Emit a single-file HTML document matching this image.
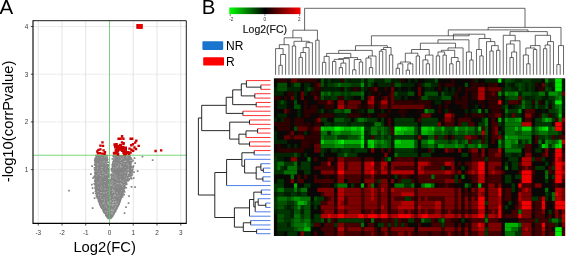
<!DOCTYPE html>
<html><head><meta charset="utf-8"><title>figure</title>
<style>
html,body{margin:0;padding:0;background:#fff;}
body{width:566px;height:255px;overflow:hidden;}
svg{display:block;font-family:"Liberation Sans",sans-serif;}
</style></head><body>
<svg width="566" height="255" viewBox="0 0 566 255">
<defs>
<linearGradient id="cb" x1="0" x2="1" y1="0" y2="0"><stop offset="0" stop-color="#00ff00"/><stop offset="0.5" stop-color="#000"/><stop offset="1" stop-color="#ff0000"/></linearGradient>
<filter id="bl" x="-2%" y="-2%" width="104%" height="104%" color-interpolation-filters="sRGB"><feGaussianBlur stdDeviation="0.68"/></filter>
<filter id="bt" x="-5%" y="-20%" width="110%" height="140%" color-interpolation-filters="sRGB"><feGaussianBlur stdDeviation="0.28"/></filter>
<filter id="bs" x="-5%" y="-5%" width="110%" height="110%" color-interpolation-filters="sRGB"><feGaussianBlur stdDeviation="0.35"/></filter>
<clipPath id="hc"><rect x="273.9" y="78.4" width="291.30" height="157.50"/></clipPath>
</defs>
<rect width="566" height="255" fill="#fff"/>

<!-- panel A -->

<path d="M38.25 20.7V223.4M62.00 20.7V223.4M85.75 20.7V223.4M133.25 20.7V223.4M157.00 20.7V223.4M180.75 20.7V223.4" stroke="#d4d4d4" stroke-width="0.6" fill="none"/>
<path d="M33.0 169.60H186.3M33.0 121.90H186.3M33.0 74.20H186.3M33.0 26.50H186.3" stroke="#d0d0d0" stroke-width="0.6" stroke-dasharray="1.6 0.8" fill="none"/>
<g filter="url(#bs)">
<polygon points="97.7,155.0 97.3,162.0 97.0,170.0 96.8,178.0 96.9,184.0 97.2,189.0 97.8,193.8 100.9,203.6 104.8,211.4 107.9,216.0 110.0,218.8 109.0,218.8 109.0,216.0 109.0,211.4 109.0,203.6 109.0,193.8 109.0,189.0 108.5,184.0 108.0,178.0 107.3,170.0 106.8,162.0 106.1,155.0" fill="#858585"/>
<polygon points="114.7,155.0 113.9,162.0 112.8,170.0 111.9,178.0 110.9,184.0 110.0,189.0 110.0,193.8 110.0,203.6 110.0,211.4 110.0,216.0 110.0,218.8 109.0,218.8 111.1,216.0 113.9,211.4 117.7,203.6 121.1,193.8 122.7,189.0 124.3,184.0 126.7,178.0 128.3,170.0 127.9,162.0 126.1,155.0" fill="#858585"/>
<path d="M95.0 175.1h1.6v1.6h-1.6zM122.6 188.5h1.6v1.6h-1.6zM127.9 157.1h1.6v1.6h-1.6zM110.0 181.4h1.6v1.6h-1.6zM94.4 162.5h1.6v1.6h-1.6zM120.3 191.1h1.6v1.6h-1.6zM102.2 208.8h1.6v1.6h-1.6zM95.0 163.8h1.6v1.6h-1.6zM130.8 166.1h1.6v1.6h-1.6zM95.1 189.2h1.6v1.6h-1.6zM95.4 158.5h1.6v1.6h-1.6zM127.8 174.5h1.6v1.6h-1.6zM108.8 204.7h1.6v1.6h-1.6zM126.9 170.1h1.6v1.6h-1.6zM98.9 200.7h1.6v1.6h-1.6zM107.9 181.0h1.6v1.6h-1.6zM130.0 164.3h1.6v1.6h-1.6zM118.4 202.9h1.6v1.6h-1.6zM118.5 198.5h1.6v1.6h-1.6zM107.8 207.6h1.6v1.6h-1.6zM106.3 158.5h1.6v1.6h-1.6zM108.9 195.5h1.6v1.6h-1.6zM107.3 179.0h1.6v1.6h-1.6zM127.6 156.1h1.6v1.6h-1.6zM106.5 158.4h1.6v1.6h-1.6zM110.6 179.3h1.6v1.6h-1.6zM126.9 159.8h1.6v1.6h-1.6zM108.6 206.3h1.6v1.6h-1.6zM111.2 177.3h1.6v1.6h-1.6zM106.3 215.0h1.6v1.6h-1.6zM130.0 169.4h1.6v1.6h-1.6zM127.4 155.0h1.6v1.6h-1.6zM109.3 214.7h1.6v1.6h-1.6zM123.0 187.2h1.6v1.6h-1.6zM109.5 211.4h1.6v1.6h-1.6zM125.0 179.4h1.6v1.6h-1.6zM96.3 158.6h1.6v1.6h-1.6zM95.2 167.9h1.6v1.6h-1.6zM96.2 154.7h1.6v1.6h-1.6zM130.3 161.1h1.6v1.6h-1.6zM96.2 193.4h1.6v1.6h-1.6zM95.8 177.6h1.6v1.6h-1.6zM108.0 208.2h1.6v1.6h-1.6zM95.8 160.1h1.6v1.6h-1.6zM95.3 176.3h1.6v1.6h-1.6zM112.9 156.2h1.6v1.6h-1.6zM95.3 188.0h1.6v1.6h-1.6zM108.7 188.0h1.6v1.6h-1.6zM108.7 209.1h1.6v1.6h-1.6zM107.3 165.2h1.6v1.6h-1.6zM108.5 188.3h1.6v1.6h-1.6zM109.1 205.8h1.6v1.6h-1.6zM109.1 208.4h1.6v1.6h-1.6zM127.3 169.0h1.6v1.6h-1.6zM96.0 156.5h1.6v1.6h-1.6zM107.8 171.0h1.6v1.6h-1.6zM108.5 213.7h1.6v1.6h-1.6zM111.6 214.9h1.6v1.6h-1.6zM94.3 167.1h1.6v1.6h-1.6zM114.2 207.6h1.6v1.6h-1.6zM105.4 160.0h1.6v1.6h-1.6zM108.7 212.0h1.6v1.6h-1.6zM106.1 165.9h1.6v1.6h-1.6zM108.1 175.6h1.6v1.6h-1.6zM110.0 180.0h1.6v1.6h-1.6zM98.7 200.4h1.6v1.6h-1.6zM108.9 211.7h1.6v1.6h-1.6zM113.1 163.9h1.6v1.6h-1.6zM126.9 176.8h1.6v1.6h-1.6zM111.2 215.9h1.6v1.6h-1.6zM109.6 182.0h1.6v1.6h-1.6zM101.2 206.7h1.6v1.6h-1.6zM129.1 169.9h1.6v1.6h-1.6zM113.0 163.0h1.6v1.6h-1.6zM126.9 177.0h1.6v1.6h-1.6zM109.2 181.2h1.6v1.6h-1.6zM95.5 187.7h1.6v1.6h-1.6zM96.4 182.4h1.6v1.6h-1.6zM128.6 165.6h1.6v1.6h-1.6zM128.7 175.2h1.6v1.6h-1.6zM127.5 161.4h1.6v1.6h-1.6zM118.1 203.4h1.6v1.6h-1.6zM112.6 212.2h1.6v1.6h-1.6zM108.1 187.0h1.6v1.6h-1.6zM122.3 183.2h1.6v1.6h-1.6zM109.1 198.8h1.6v1.6h-1.6zM108.5 189.9h1.6v1.6h-1.6zM102.2 207.6h1.6v1.6h-1.6zM96.2 159.3h1.6v1.6h-1.6zM106.5 159.3h1.6v1.6h-1.6zM105.4 164.4h1.6v1.6h-1.6zM98.5 196.3h1.6v1.6h-1.6zM110.5 168.5h1.6v1.6h-1.6zM127.5 179.8h1.6v1.6h-1.6zM127.5 164.9h1.6v1.6h-1.6zM128.6 167.0h1.6v1.6h-1.6zM123.2 189.6h1.6v1.6h-1.6zM123.4 194.0h1.6v1.6h-1.6zM109.1 204.4h1.6v1.6h-1.6zM106.3 157.2h1.6v1.6h-1.6zM93.9 171.7h1.6v1.6h-1.6zM101.7 206.3h1.6v1.6h-1.6zM111.4 164.1h1.6v1.6h-1.6zM95.2 160.3h1.6v1.6h-1.6zM120.0 198.1h1.6v1.6h-1.6zM109.7 194.7h1.6v1.6h-1.6zM113.5 158.9h1.6v1.6h-1.6zM122.5 183.3h1.6v1.6h-1.6zM94.7 171.6h1.6v1.6h-1.6zM95.5 161.6h1.6v1.6h-1.6zM95.6 157.9h1.6v1.6h-1.6zM99.7 202.5h1.6v1.6h-1.6zM95.3 186.2h1.6v1.6h-1.6zM95.4 170.5h1.6v1.6h-1.6zM119.0 200.9h1.6v1.6h-1.6zM105.4 213.6h1.6v1.6h-1.6zM108.5 185.9h1.6v1.6h-1.6zM125.3 179.5h1.6v1.6h-1.6zM110.5 176.3h1.6v1.6h-1.6zM124.4 180.2h1.6v1.6h-1.6zM106.3 159.2h1.6v1.6h-1.6zM96.4 170.8h1.6v1.6h-1.6zM109.3 209.5h1.6v1.6h-1.6zM95.0 172.5h1.6v1.6h-1.6zM129.5 164.6h1.6v1.6h-1.6zM111.2 216.0h1.6v1.6h-1.6zM131.3 174.2h1.6v1.6h-1.6zM124.0 184.6h1.6v1.6h-1.6zM96.7 155.0h1.6v1.6h-1.6zM128.1 160.4h1.6v1.6h-1.6zM94.4 173.9h1.6v1.6h-1.6zM108.3 202.0h1.6v1.6h-1.6zM108.3 199.8h1.6v1.6h-1.6zM107.8 216.7h1.6v1.6h-1.6zM119.3 200.3h1.6v1.6h-1.6zM113.9 210.9h1.6v1.6h-1.6zM126.5 163.5h1.6v1.6h-1.6zM107.6 205.4h1.6v1.6h-1.6zM108.1 197.7h1.6v1.6h-1.6zM95.7 169.2h1.6v1.6h-1.6zM113.0 161.3h1.6v1.6h-1.6zM121.5 189.9h1.6v1.6h-1.6zM95.7 185.5h1.6v1.6h-1.6zM122.0 186.4h1.6v1.6h-1.6zM98.4 201.1h1.6v1.6h-1.6zM95.6 159.4h1.6v1.6h-1.6zM108.3 201.3h1.6v1.6h-1.6zM122.2 185.8h1.6v1.6h-1.6zM117.5 203.0h1.6v1.6h-1.6zM95.5 164.0h1.6v1.6h-1.6zM95.2 190.5h1.6v1.6h-1.6zM95.2 158.5h1.6v1.6h-1.6zM96.9 197.3h1.6v1.6h-1.6zM122.7 187.2h1.6v1.6h-1.6zM105.0 211.0h1.6v1.6h-1.6zM128.1 155.8h1.6v1.6h-1.6zM93.5 183.0h1.6v1.6h-1.6zM111.9 167.9h1.6v1.6h-1.6zM130.1 163.6h1.6v1.6h-1.6zM116.1 206.4h1.6v1.6h-1.6zM110.9 169.3h1.6v1.6h-1.6zM96.1 185.3h1.6v1.6h-1.6zM124.6 183.1h1.6v1.6h-1.6zM111.3 174.6h1.6v1.6h-1.6zM106.0 154.8h1.6v1.6h-1.6zM108.4 213.1h1.6v1.6h-1.6zM103.2 211.5h1.6v1.6h-1.6zM110.0 217.6h1.6v1.6h-1.6zM95.8 172.0h1.6v1.6h-1.6zM112.3 161.1h1.6v1.6h-1.6zM96.9 170.4h1.6v1.6h-1.6zM94.2 186.9h1.6v1.6h-1.6zM109.8 210.4h1.6v1.6h-1.6zM109.4 194.4h1.6v1.6h-1.6zM98.0 200.0h1.6v1.6h-1.6zM118.7 200.8h1.6v1.6h-1.6zM95.5 172.7h1.6v1.6h-1.6zM123.9 184.4h1.6v1.6h-1.6zM108.1 216.2h1.6v1.6h-1.6zM119.4 196.0h1.6v1.6h-1.6zM95.8 165.2h1.6v1.6h-1.6zM96.8 186.0h1.6v1.6h-1.6zM108.4 211.8h1.6v1.6h-1.6zM95.5 166.8h1.6v1.6h-1.6zM95.2 176.2h1.6v1.6h-1.6zM109.2 190.6h1.6v1.6h-1.6zM117.3 201.9h1.6v1.6h-1.6zM127.5 178.4h1.6v1.6h-1.6zM105.9 215.7h1.6v1.6h-1.6zM102.3 209.1h1.6v1.6h-1.6zM94.6 171.8h1.6v1.6h-1.6zM109.1 214.8h1.6v1.6h-1.6zM103.7 209.7h1.6v1.6h-1.6zM114.0 211.1h1.6v1.6h-1.6zM110.2 179.4h1.6v1.6h-1.6zM109.1 206.7h1.6v1.6h-1.6zM95.5 161.6h1.6v1.6h-1.6zM109.5 187.6h1.6v1.6h-1.6zM108.4 195.5h1.6v1.6h-1.6zM125.9 183.5h1.6v1.6h-1.6zM111.2 169.4h1.6v1.6h-1.6zM95.1 162.8h1.6v1.6h-1.6zM108.9 194.8h1.6v1.6h-1.6zM123.3 187.7h1.6v1.6h-1.6zM96.4 192.6h1.6v1.6h-1.6zM129.3 173.7h1.6v1.6h-1.6zM114.3 210.4h1.6v1.6h-1.6zM108.7 215.2h1.6v1.6h-1.6zM108.6 186.1h1.6v1.6h-1.6zM94.4 181.2h1.6v1.6h-1.6zM93.9 169.0h1.6v1.6h-1.6zM127.8 176.0h1.6v1.6h-1.6zM108.3 204.9h1.6v1.6h-1.6zM110.8 215.8h1.6v1.6h-1.6zM106.6 168.7h1.6v1.6h-1.6zM110.7 173.3h1.6v1.6h-1.6zM130.4 168.8h1.6v1.6h-1.6zM127.2 163.9h1.6v1.6h-1.6zM97.3 163.6h1.6v1.6h-1.6zM130.8 158.5h1.6v1.6h-1.6zM109.2 200.9h1.6v1.6h-1.6zM111.7 166.4h1.6v1.6h-1.6zM98.5 201.7h1.6v1.6h-1.6zM125.7 178.3h1.6v1.6h-1.6zM128.6 172.3h1.6v1.6h-1.6zM106.3 215.4h1.6v1.6h-1.6zM110.9 177.2h1.6v1.6h-1.6zM128.8 157.8h1.6v1.6h-1.6zM130.0 166.9h1.6v1.6h-1.6zM107.8 180.6h1.6v1.6h-1.6zM99.5 203.0h1.6v1.6h-1.6zM104.5 212.7h1.6v1.6h-1.6zM108.4 201.8h1.6v1.6h-1.6zM111.9 215.0h1.6v1.6h-1.6zM96.3 174.6h1.6v1.6h-1.6zM106.6 154.9h1.6v1.6h-1.6zM105.0 214.1h1.6v1.6h-1.6zM131.6 169.4h1.6v1.6h-1.6zM94.4 179.1h1.6v1.6h-1.6zM105.2 213.2h1.6v1.6h-1.6zM109.2 205.3h1.6v1.6h-1.6zM119.9 193.0h1.6v1.6h-1.6zM100.4 204.0h1.6v1.6h-1.6zM106.8 167.1h1.6v1.6h-1.6zM129.3 156.8h1.6v1.6h-1.6zM110.2 210.4h1.6v1.6h-1.6zM95.9 171.4h1.6v1.6h-1.6zM119.6 199.4h1.6v1.6h-1.6zM109.3 193.8h1.6v1.6h-1.6zM108.5 201.8h1.6v1.6h-1.6zM101.3 207.7h1.6v1.6h-1.6zM122.1 190.4h1.6v1.6h-1.6zM96.1 170.3h1.6v1.6h-1.6zM123.8 191.1h1.6v1.6h-1.6zM96.7 186.7h1.6v1.6h-1.6zM109.0 205.6h1.6v1.6h-1.6zM108.3 184.6h1.6v1.6h-1.6zM109.2 207.7h1.6v1.6h-1.6zM95.7 162.2h1.6v1.6h-1.6zM111.2 216.0h1.6v1.6h-1.6zM114.8 209.3h1.6v1.6h-1.6zM105.0 214.3h1.6v1.6h-1.6zM128.3 168.4h1.6v1.6h-1.6zM129.2 170.8h1.6v1.6h-1.6zM126.5 155.4h1.6v1.6h-1.6zM94.8 174.4h1.6v1.6h-1.6zM117.2 204.8h1.6v1.6h-1.6zM125.6 179.6h1.6v1.6h-1.6zM106.3 165.0h1.6v1.6h-1.6zM111.2 174.1h1.6v1.6h-1.6zM128.1 174.4h1.6v1.6h-1.6zM108.4 209.1h1.6v1.6h-1.6zM98.8 200.6h1.6v1.6h-1.6zM112.3 155.1h1.6v1.6h-1.6zM110.6 180.3h1.6v1.6h-1.6zM96.1 183.7h1.6v1.6h-1.6zM108.8 195.1h1.6v1.6h-1.6zM128.4 160.3h1.6v1.6h-1.6zM93.9 163.9h1.6v1.6h-1.6zM129.2 161.6h1.6v1.6h-1.6zM93.7 167.1h1.6v1.6h-1.6zM108.5 214.1h1.6v1.6h-1.6zM112.7 213.0h1.6v1.6h-1.6zM100.6 206.6h1.6v1.6h-1.6zM99.3 204.2h1.6v1.6h-1.6zM102.0 206.9h1.6v1.6h-1.6zM127.7 168.4h1.6v1.6h-1.6zM95.3 162.5h1.6v1.6h-1.6zM125.1 157.3h1.6v1.6h-1.6zM101.4 207.5h1.6v1.6h-1.6zM120.9 192.5h1.6v1.6h-1.6zM124.1 181.2h1.6v1.6h-1.6zM125.8 182.8h1.6v1.6h-1.6zM95.4 185.5h1.6v1.6h-1.6zM94.0 183.6h1.6v1.6h-1.6zM95.8 184.5h1.6v1.6h-1.6zM129.0 160.5h1.6v1.6h-1.6zM96.7 194.8h1.6v1.6h-1.6zM108.5 200.9h1.6v1.6h-1.6zM123.4 186.4h1.6v1.6h-1.6zM108.6 208.7h1.6v1.6h-1.6zM109.3 200.8h1.6v1.6h-1.6zM110.7 185.7h1.6v1.6h-1.6zM104.7 212.4h1.6v1.6h-1.6zM125.4 158.8h1.6v1.6h-1.6zM103.1 211.2h1.6v1.6h-1.6zM100.2 206.1h1.6v1.6h-1.6zM95.3 167.8h1.6v1.6h-1.6zM123.9 186.6h1.6v1.6h-1.6zM111.6 164.9h1.6v1.6h-1.6zM105.6 165.3h1.6v1.6h-1.6zM128.6 161.9h1.6v1.6h-1.6zM113.0 209.7h1.6v1.6h-1.6zM112.2 161.3h1.6v1.6h-1.6zM99.8 205.0h1.6v1.6h-1.6zM109.0 217.1h1.6v1.6h-1.6zM95.2 182.6h1.6v1.6h-1.6zM100.8 206.3h1.6v1.6h-1.6zM107.9 195.0h1.6v1.6h-1.6zM94.6 174.4h1.6v1.6h-1.6zM95.3 156.8h1.6v1.6h-1.6zM108.5 187.0h1.6v1.6h-1.6zM95.4 163.0h1.6v1.6h-1.6zM127.4 154.9h1.6v1.6h-1.6zM129.8 168.8h1.6v1.6h-1.6zM120.8 194.0h1.6v1.6h-1.6zM96.5 170.0h1.6v1.6h-1.6zM131.0 160.7h1.6v1.6h-1.6zM96.2 180.0h1.6v1.6h-1.6zM122.4 190.1h1.6v1.6h-1.6zM108.2 213.7h1.6v1.6h-1.6zM112.1 170.4h1.6v1.6h-1.6zM95.4 180.3h1.6v1.6h-1.6zM106.9 158.4h1.6v1.6h-1.6zM105.4 214.0h1.6v1.6h-1.6zM127.1 167.3h1.6v1.6h-1.6zM100.6 205.9h1.6v1.6h-1.6zM113.5 157.8h1.6v1.6h-1.6zM109.9 204.0h1.6v1.6h-1.6zM118.3 201.6h1.6v1.6h-1.6zM94.5 168.9h1.6v1.6h-1.6zM94.7 169.3h1.6v1.6h-1.6zM109.6 198.5h1.6v1.6h-1.6zM97.6 199.5h1.6v1.6h-1.6zM116.7 204.4h1.6v1.6h-1.6zM107.4 215.5h1.6v1.6h-1.6zM102.8 210.1h1.6v1.6h-1.6zM109.1 201.6h1.6v1.6h-1.6zM118.8 201.7h1.6v1.6h-1.6zM110.8 169.8h1.6v1.6h-1.6zM108.0 196.6h1.6v1.6h-1.6zM109.0 184.3h1.6v1.6h-1.6zM107.0 182.2h1.6v1.6h-1.6zM122.5 190.6h1.6v1.6h-1.6zM112.9 159.6h1.6v1.6h-1.6zM112.7 161.4h1.6v1.6h-1.6zM95.3 176.4h1.6v1.6h-1.6zM119.5 198.3h1.6v1.6h-1.6zM127.9 158.8h1.6v1.6h-1.6zM109.5 206.3h1.6v1.6h-1.6zM114.1 158.9h1.6v1.6h-1.6zM94.7 161.4h1.6v1.6h-1.6zM96.3 161.8h1.6v1.6h-1.6zM107.8 194.7h1.6v1.6h-1.6zM96.8 194.5h1.6v1.6h-1.6zM99.3 202.4h1.6v1.6h-1.6zM128.1 174.8h1.6v1.6h-1.6zM106.9 172.5h1.6v1.6h-1.6zM111.6 215.4h1.6v1.6h-1.6zM128.4 156.7h1.6v1.6h-1.6zM108.0 176.5h1.6v1.6h-1.6zM95.7 188.6h1.6v1.6h-1.6zM100.7 206.3h1.6v1.6h-1.6zM96.1 154.8h1.6v1.6h-1.6zM126.8 155.0h1.6v1.6h-1.6zM130.1 166.3h1.6v1.6h-1.6zM112.2 171.1h1.6v1.6h-1.6zM95.0 172.6h1.6v1.6h-1.6zM129.5 161.6h1.6v1.6h-1.6zM109.2 198.6h1.6v1.6h-1.6zM120.1 194.3h1.6v1.6h-1.6zM103.4 210.8h1.6v1.6h-1.6zM95.3 167.7h1.6v1.6h-1.6zM112.3 211.5h1.6v1.6h-1.6zM127.4 169.4h1.6v1.6h-1.6zM117.7 202.1h1.6v1.6h-1.6zM111.6 164.5h1.6v1.6h-1.6zM127.3 165.4h1.6v1.6h-1.6zM127.8 162.6h1.6v1.6h-1.6zM128.7 166.8h1.6v1.6h-1.6zM94.2 164.4h1.6v1.6h-1.6zM127.8 170.3h1.6v1.6h-1.6zM96.3 175.4h1.6v1.6h-1.6zM112.5 161.1h1.6v1.6h-1.6zM129.9 161.1h1.6v1.6h-1.6zM119.1 200.9h1.6v1.6h-1.6zM95.5 161.4h1.6v1.6h-1.6zM108.0 179.8h1.6v1.6h-1.6zM118.8 198.4h1.6v1.6h-1.6zM128.4 163.6h1.6v1.6h-1.6zM112.0 211.9h1.6v1.6h-1.6zM94.9 181.2h1.6v1.6h-1.6zM107.5 203.5h1.6v1.6h-1.6zM108.3 208.4h1.6v1.6h-1.6zM128.0 174.4h1.6v1.6h-1.6zM109.1 204.0h1.6v1.6h-1.6zM95.8 194.4h1.6v1.6h-1.6zM121.5 193.9h1.6v1.6h-1.6zM105.5 166.2h1.6v1.6h-1.6zM114.9 203.7h1.6v1.6h-1.6zM130.1 157.1h1.6v1.6h-1.6zM112.6 214.0h1.6v1.6h-1.6zM107.8 188.8h1.6v1.6h-1.6zM116.0 206.9h1.6v1.6h-1.6zM107.7 167.9h1.6v1.6h-1.6zM109.1 179.4h1.6v1.6h-1.6zM96.5 177.1h1.6v1.6h-1.6zM128.9 172.0h1.6v1.6h-1.6zM107.7 181.2h1.6v1.6h-1.6zM107.4 168.8h1.6v1.6h-1.6zM112.6 213.9h1.6v1.6h-1.6zM96.0 179.4h1.6v1.6h-1.6zM117.0 205.7h1.6v1.6h-1.6zM111.7 168.9h1.6v1.6h-1.6zM130.2 176.9h1.6v1.6h-1.6zM94.9 184.2h1.6v1.6h-1.6zM115.6 207.2h1.6v1.6h-1.6zM94.7 178.4h1.6v1.6h-1.6zM96.3 181.5h1.6v1.6h-1.6zM95.2 172.4h1.6v1.6h-1.6zM127.3 173.7h1.6v1.6h-1.6zM121.8 196.2h1.6v1.6h-1.6zM113.8 158.3h1.6v1.6h-1.6zM111.7 163.5h1.6v1.6h-1.6zM98.3 194.6h1.6v1.6h-1.6zM97.2 196.0h1.6v1.6h-1.6zM95.7 161.1h1.6v1.6h-1.6zM96.3 176.5h1.6v1.6h-1.6zM109.3 211.7h1.6v1.6h-1.6zM109.8 193.0h1.6v1.6h-1.6zM109.0 196.8h1.6v1.6h-1.6zM105.7 167.1h1.6v1.6h-1.6zM107.5 188.1h1.6v1.6h-1.6zM96.2 189.7h1.6v1.6h-1.6zM95.1 169.5h1.6v1.6h-1.6zM95.3 184.1h1.6v1.6h-1.6zM122.0 185.7h1.6v1.6h-1.6zM112.5 155.1h1.6v1.6h-1.6zM108.9 196.6h1.6v1.6h-1.6zM126.9 178.3h1.6v1.6h-1.6zM121.8 194.8h1.6v1.6h-1.6zM107.9 197.7h1.6v1.6h-1.6zM125.5 186.9h1.6v1.6h-1.6zM118.8 199.9h1.6v1.6h-1.6zM130.8 177.8h1.6v1.6h-1.6zM129.9 168.0h1.6v1.6h-1.6zM101.6 206.8h1.6v1.6h-1.6zM115.1 206.8h1.6v1.6h-1.6zM108.4 186.6h1.6v1.6h-1.6zM126.5 175.5h1.6v1.6h-1.6zM109.5 194.7h1.6v1.6h-1.6zM106.6 157.2h1.6v1.6h-1.6zM127.4 157.8h1.6v1.6h-1.6zM112.9 212.8h1.6v1.6h-1.6zM112.0 212.0h1.6v1.6h-1.6zM118.5 198.6h1.6v1.6h-1.6zM119.4 196.7h1.6v1.6h-1.6zM95.1 166.1h1.6v1.6h-1.6zM108.4 203.5h1.6v1.6h-1.6zM108.2 206.5h1.6v1.6h-1.6zM95.5 190.1h1.6v1.6h-1.6zM130.5 174.8h1.6v1.6h-1.6zM126.4 158.1h1.6v1.6h-1.6zM116.6 205.8h1.6v1.6h-1.6zM129.2 155.6h1.6v1.6h-1.6zM109.1 216.5h1.6v1.6h-1.6zM97.0 195.3h1.6v1.6h-1.6zM96.5 164.3h1.6v1.6h-1.6zM112.5 162.4h1.6v1.6h-1.6zM112.8 160.3h1.6v1.6h-1.6zM98.4 200.0h1.6v1.6h-1.6zM99.8 200.9h1.6v1.6h-1.6zM109.0 199.7h1.6v1.6h-1.6zM97.9 200.7h1.6v1.6h-1.6zM108.8 183.7h1.6v1.6h-1.6zM111.3 170.7h1.6v1.6h-1.6zM105.8 155.6h1.6v1.6h-1.6zM100.5 206.2h1.6v1.6h-1.6zM113.0 165.2h1.6v1.6h-1.6zM94.7 185.3h1.6v1.6h-1.6zM108.7 182.3h1.6v1.6h-1.6zM106.0 163.8h1.6v1.6h-1.6zM121.9 194.4h1.6v1.6h-1.6zM109.4 214.2h1.6v1.6h-1.6zM97.5 190.4h1.6v1.6h-1.6zM109.3 199.0h1.6v1.6h-1.6zM129.2 175.6h1.6v1.6h-1.6zM119.8 192.6h1.6v1.6h-1.6zM106.7 178.4h1.6v1.6h-1.6zM100.0 205.6h1.6v1.6h-1.6zM95.1 154.8h1.6v1.6h-1.6zM109.1 206.1h1.6v1.6h-1.6zM113.5 157.4h1.6v1.6h-1.6zM94.5 190.7h1.6v1.6h-1.6zM108.2 208.3h1.6v1.6h-1.6zM93.7 176.6h1.6v1.6h-1.6zM109.0 189.6h1.6v1.6h-1.6zM106.1 213.4h1.6v1.6h-1.6zM108.3 192.9h1.6v1.6h-1.6zM107.2 170.7h1.6v1.6h-1.6zM117.5 204.6h1.6v1.6h-1.6zM98.9 203.3h1.6v1.6h-1.6zM113.4 210.5h1.6v1.6h-1.6zM95.5 166.6h1.6v1.6h-1.6zM106.3 166.1h1.6v1.6h-1.6zM126.6 180.1h1.6v1.6h-1.6zM109.9 217.5h1.6v1.6h-1.6zM100.6 204.3h1.6v1.6h-1.6zM121.2 192.3h1.6v1.6h-1.6zM113.6 156.8h1.6v1.6h-1.6zM95.2 190.4h1.6v1.6h-1.6zM117.9 203.8h1.6v1.6h-1.6zM108.7 206.3h1.6v1.6h-1.6zM95.6 167.4h1.6v1.6h-1.6zM94.3 160.0h1.6v1.6h-1.6zM109.1 183.6h1.6v1.6h-1.6zM103.5 212.0h1.6v1.6h-1.6zM112.1 162.3h1.6v1.6h-1.6zM129.7 170.9h1.6v1.6h-1.6zM119.4 196.9h1.6v1.6h-1.6zM108.7 215.5h1.6v1.6h-1.6zM131.2 170.8h1.6v1.6h-1.6zM100.9 207.4h1.6v1.6h-1.6zM107.6 204.2h1.6v1.6h-1.6zM94.1 158.2h1.6v1.6h-1.6zM108.5 202.3h1.6v1.6h-1.6zM108.2 192.0h1.6v1.6h-1.6zM128.8 161.3h1.6v1.6h-1.6zM95.3 185.0h1.6v1.6h-1.6zM97.9 197.4h1.6v1.6h-1.6zM99.8 199.9h1.6v1.6h-1.6zM111.9 168.6h1.6v1.6h-1.6zM109.1 209.3h1.6v1.6h-1.6zM113.1 160.8h1.6v1.6h-1.6zM114.6 207.8h1.6v1.6h-1.6zM115.7 206.6h1.6v1.6h-1.6zM95.1 168.7h1.6v1.6h-1.6zM111.5 163.8h1.6v1.6h-1.6zM129.4 171.5h1.6v1.6h-1.6zM116.1 207.6h1.6v1.6h-1.6zM112.1 174.7h1.6v1.6h-1.6zM114.0 158.3h1.6v1.6h-1.6zM96.7 196.8h1.6v1.6h-1.6zM95.3 170.9h1.6v1.6h-1.6zM111.9 177.6h1.6v1.6h-1.6zM95.6 160.8h1.6v1.6h-1.6zM103.4 211.2h1.6v1.6h-1.6zM106.5 216.4h1.6v1.6h-1.6zM116.5 205.5h1.6v1.6h-1.6zM116.2 207.1h1.6v1.6h-1.6zM103.8 212.2h1.6v1.6h-1.6zM106.6 166.0h1.6v1.6h-1.6zM98.4 199.5h1.6v1.6h-1.6zM121.4 193.0h1.6v1.6h-1.6zM109.1 193.3h1.6v1.6h-1.6zM116.5 205.8h1.6v1.6h-1.6zM118.5 200.9h1.6v1.6h-1.6zM117.0 205.8h1.6v1.6h-1.6zM96.0 185.8h1.6v1.6h-1.6zM102.2 209.6h1.6v1.6h-1.6zM111.6 166.4h1.6v1.6h-1.6zM128.8 178.1h1.6v1.6h-1.6zM124.8 182.8h1.6v1.6h-1.6zM109.4 206.1h1.6v1.6h-1.6zM106.7 174.9h1.6v1.6h-1.6zM113.6 158.6h1.6v1.6h-1.6zM110.4 214.8h1.6v1.6h-1.6zM96.0 188.6h1.6v1.6h-1.6zM95.3 166.2h1.6v1.6h-1.6zM107.4 170.5h1.6v1.6h-1.6zM98.0 198.7h1.6v1.6h-1.6zM126.5 155.8h1.6v1.6h-1.6zM98.7 199.0h1.6v1.6h-1.6zM95.0 157.5h1.6v1.6h-1.6zM123.6 185.8h1.6v1.6h-1.6zM94.0 180.3h1.6v1.6h-1.6zM127.2 164.0h1.6v1.6h-1.6zM108.3 206.7h1.6v1.6h-1.6zM128.2 179.2h1.6v1.6h-1.6zM110.3 179.6h1.6v1.6h-1.6zM131.6 169.8h1.6v1.6h-1.6zM109.4 205.4h1.6v1.6h-1.6zM109.4 206.0h1.6v1.6h-1.6zM108.9 215.0h1.6v1.6h-1.6zM128.7 170.4h1.6v1.6h-1.6zM94.7 188.1h1.6v1.6h-1.6zM96.2 156.0h1.6v1.6h-1.6zM109.5 215.8h1.6v1.6h-1.6zM108.4 205.7h1.6v1.6h-1.6zM102.7 210.4h1.6v1.6h-1.6zM97.1 197.4h1.6v1.6h-1.6zM108.4 188.9h1.6v1.6h-1.6zM122.7 187.5h1.6v1.6h-1.6zM128.8 173.9h1.6v1.6h-1.6zM112.0 214.9h1.6v1.6h-1.6zM96.3 188.3h1.6v1.6h-1.6zM95.4 162.5h1.6v1.6h-1.6zM95.9 172.9h1.6v1.6h-1.6zM130.3 160.2h1.6v1.6h-1.6zM109.0 190.6h1.6v1.6h-1.6zM125.7 183.7h1.6v1.6h-1.6zM94.7 174.3h1.6v1.6h-1.6zM128.9 168.7h1.6v1.6h-1.6zM127.9 155.4h1.6v1.6h-1.6zM122.2 189.8h1.6v1.6h-1.6zM107.4 173.3h1.6v1.6h-1.6zM114.9 209.6h1.6v1.6h-1.6zM108.3 182.4h1.6v1.6h-1.6zM96.7 161.6h1.6v1.6h-1.6zM129.2 164.4h1.6v1.6h-1.6zM109.4 193.5h1.6v1.6h-1.6zM116.2 206.4h1.6v1.6h-1.6zM118.4 202.6h1.6v1.6h-1.6zM104.3 212.3h1.6v1.6h-1.6zM118.1 202.9h1.6v1.6h-1.6zM122.1 190.7h1.6v1.6h-1.6zM119.6 193.0h1.6v1.6h-1.6zM98.6 200.3h1.6v1.6h-1.6zM125.5 179.3h1.6v1.6h-1.6zM108.0 204.3h1.6v1.6h-1.6zM129.5 166.3h1.6v1.6h-1.6zM96.6 191.3h1.6v1.6h-1.6zM113.3 212.7h1.6v1.6h-1.6zM105.5 215.1h1.6v1.6h-1.6zM96.6 155.4h1.6v1.6h-1.6zM123.6 190.3h1.6v1.6h-1.6zM108.0 188.6h1.6v1.6h-1.6zM119.5 197.9h1.6v1.6h-1.6zM111.3 176.8h1.6v1.6h-1.6zM120.3 197.3h1.6v1.6h-1.6zM124.2 180.0h1.6v1.6h-1.6zM109.9 215.5h1.6v1.6h-1.6zM107.9 217.5h1.6v1.6h-1.6zM130.3 165.5h1.6v1.6h-1.6zM96.3 187.0h1.6v1.6h-1.6zM108.1 206.4h1.6v1.6h-1.6zM114.5 210.7h1.6v1.6h-1.6zM123.5 186.9h1.6v1.6h-1.6zM119.4 194.4h1.6v1.6h-1.6zM95.6 194.8h1.6v1.6h-1.6zM107.9 174.0h1.6v1.6h-1.6zM128.8 154.9h1.6v1.6h-1.6zM96.4 196.8h1.6v1.6h-1.6zM133.3 171.5h1.6v1.6h-1.6zM121.4 190.9h1.6v1.6h-1.6zM99.4 202.5h1.6v1.6h-1.6zM94.3 161.0h1.6v1.6h-1.6zM108.5 193.3h1.6v1.6h-1.6zM95.8 158.6h1.6v1.6h-1.6zM118.1 199.8h1.6v1.6h-1.6zM113.0 161.0h1.6v1.6h-1.6zM120.9 191.4h1.6v1.6h-1.6zM111.6 158.1h1.6v1.6h-1.6zM123.6 182.4h1.6v1.6h-1.6zM108.9 213.3h1.6v1.6h-1.6zM111.1 174.5h1.6v1.6h-1.6zM108.2 192.7h1.6v1.6h-1.6zM109.1 185.9h1.6v1.6h-1.6zM99.0 200.0h1.6v1.6h-1.6zM109.9 174.2h1.6v1.6h-1.6zM95.4 170.0h1.6v1.6h-1.6zM95.7 177.3h1.6v1.6h-1.6zM95.6 190.1h1.6v1.6h-1.6zM122.5 188.3h1.6v1.6h-1.6zM112.2 162.5h1.6v1.6h-1.6zM95.8 166.7h1.6v1.6h-1.6zM95.0 169.6h1.6v1.6h-1.6zM106.2 164.5h1.6v1.6h-1.6zM95.8 160.5h1.6v1.6h-1.6zM109.4 182.6h1.6v1.6h-1.6zM99.9 205.4h1.6v1.6h-1.6zM111.2 178.4h1.6v1.6h-1.6zM111.3 167.8h1.6v1.6h-1.6zM95.2 183.2h1.6v1.6h-1.6zM98.8 199.2h1.6v1.6h-1.6zM94.6 177.9h1.6v1.6h-1.6zM96.4 193.0h1.6v1.6h-1.6zM122.9 187.0h1.6v1.6h-1.6zM108.8 178.9h1.6v1.6h-1.6zM121.8 190.5h1.6v1.6h-1.6zM111.6 165.9h1.6v1.6h-1.6zM130.4 161.6h1.6v1.6h-1.6zM95.8 173.4h1.6v1.6h-1.6zM96.0 174.3h1.6v1.6h-1.6zM131.1 172.5h1.6v1.6h-1.6zM108.1 210.3h1.6v1.6h-1.6zM96.6 163.0h1.6v1.6h-1.6zM120.4 196.5h1.6v1.6h-1.6zM98.5 198.8h1.6v1.6h-1.6zM114.9 208.0h1.6v1.6h-1.6zM112.4 162.0h1.6v1.6h-1.6zM94.7 157.2h1.6v1.6h-1.6zM95.2 164.9h1.6v1.6h-1.6zM128.4 157.2h1.6v1.6h-1.6zM115.1 207.6h1.6v1.6h-1.6zM107.6 182.1h1.6v1.6h-1.6zM95.7 176.7h1.6v1.6h-1.6zM94.2 172.7h1.6v1.6h-1.6zM115.6 208.5h1.6v1.6h-1.6zM106.8 161.7h1.6v1.6h-1.6zM100.4 201.9h1.6v1.6h-1.6zM119.6 198.5h1.6v1.6h-1.6zM95.9 172.4h1.6v1.6h-1.6zM108.5 213.3h1.6v1.6h-1.6zM108.2 201.2h1.6v1.6h-1.6zM105.7 158.1h1.6v1.6h-1.6zM125.5 181.7h1.6v1.6h-1.6zM98.8 202.7h1.6v1.6h-1.6zM128.7 171.2h1.6v1.6h-1.6zM95.4 189.0h1.6v1.6h-1.6zM127.3 158.4h1.6v1.6h-1.6zM94.9 174.3h1.6v1.6h-1.6zM94.3 169.7h1.6v1.6h-1.6zM124.0 187.2h1.6v1.6h-1.6zM111.5 173.6h1.6v1.6h-1.6zM108.1 175.7h1.6v1.6h-1.6zM109.1 189.2h1.6v1.6h-1.6zM122.6 192.4h1.6v1.6h-1.6zM94.3 161.9h1.6v1.6h-1.6zM95.6 177.4h1.6v1.6h-1.6zM107.0 167.1h1.6v1.6h-1.6zM94.8 182.9h1.6v1.6h-1.6zM95.8 177.6h1.6v1.6h-1.6zM96.9 159.2h1.6v1.6h-1.6zM106.2 160.0h1.6v1.6h-1.6zM110.9 216.5h1.6v1.6h-1.6zM95.1 182.1h1.6v1.6h-1.6zM113.0 212.6h1.6v1.6h-1.6zM95.8 195.8h1.6v1.6h-1.6zM96.5 170.2h1.6v1.6h-1.6zM101.8 207.6h1.6v1.6h-1.6zM132.4 166.4h1.6v1.6h-1.6zM107.2 165.3h1.6v1.6h-1.6zM94.1 175.3h1.6v1.6h-1.6zM115.3 206.7h1.6v1.6h-1.6zM110.5 178.0h1.6v1.6h-1.6zM122.4 190.4h1.6v1.6h-1.6zM107.9 211.7h1.6v1.6h-1.6zM124.1 185.8h1.6v1.6h-1.6zM95.7 191.3h1.6v1.6h-1.6zM109.4 182.6h1.6v1.6h-1.6zM95.2 160.3h1.6v1.6h-1.6zM98.6 200.2h1.6v1.6h-1.6zM108.8 207.7h1.6v1.6h-1.6zM106.6 172.5h1.6v1.6h-1.6zM122.8 187.1h1.6v1.6h-1.6zM109.0 196.7h1.6v1.6h-1.6zM128.6 173.3h1.6v1.6h-1.6zM95.1 167.0h1.6v1.6h-1.6zM129.8 175.1h1.6v1.6h-1.6zM109.5 209.2h1.6v1.6h-1.6zM100.5 205.8h1.6v1.6h-1.6zM119.6 197.3h1.6v1.6h-1.6zM111.1 214.7h1.6v1.6h-1.6zM111.1 176.3h1.6v1.6h-1.6zM120.0 197.5h1.6v1.6h-1.6zM128.8 178.1h1.6v1.6h-1.6zM122.7 190.3h1.6v1.6h-1.6zM114.5 210.8h1.6v1.6h-1.6zM96.2 170.7h1.6v1.6h-1.6zM94.6 188.1h1.6v1.6h-1.6zM129.9 169.0h1.6v1.6h-1.6zM96.5 191.8h1.6v1.6h-1.6zM93.9 180.4h1.6v1.6h-1.6zM109.1 189.4h1.6v1.6h-1.6zM100.2 202.4h1.6v1.6h-1.6zM112.6 161.1h1.6v1.6h-1.6zM96.0 179.4h1.6v1.6h-1.6zM99.3 203.5h1.6v1.6h-1.6zM99.7 203.6h1.6v1.6h-1.6zM127.8 155.7h1.6v1.6h-1.6zM119.6 199.3h1.6v1.6h-1.6zM113.9 209.6h1.6v1.6h-1.6zM106.1 165.3h1.6v1.6h-1.6zM107.1 176.2h1.6v1.6h-1.6zM126.8 162.4h1.6v1.6h-1.6zM97.8 200.2h1.6v1.6h-1.6zM94.9 192.7h1.6v1.6h-1.6zM112.2 161.8h1.6v1.6h-1.6zM97.7 197.2h1.6v1.6h-1.6zM116.1 207.5h1.6v1.6h-1.6zM106.5 161.7h1.6v1.6h-1.6zM130.3 166.4h1.6v1.6h-1.6zM95.7 178.7h1.6v1.6h-1.6zM108.2 198.1h1.6v1.6h-1.6zM105.5 214.5h1.6v1.6h-1.6zM109.3 186.3h1.6v1.6h-1.6zM100.9 205.1h1.6v1.6h-1.6zM120.2 197.5h1.6v1.6h-1.6zM115.5 207.9h1.6v1.6h-1.6zM127.4 159.5h1.6v1.6h-1.6zM97.4 191.8h1.6v1.6h-1.6zM127.5 165.4h1.6v1.6h-1.6zM127.3 179.1h1.6v1.6h-1.6zM93.2 175.7h1.6v1.6h-1.6zM96.3 157.6h1.6v1.6h-1.6zM97.2 197.0h1.6v1.6h-1.6zM133.0 171.2h1.6v1.6h-1.6zM107.4 217.2h1.6v1.6h-1.6zM109.4 190.0h1.6v1.6h-1.6zM119.6 194.6h1.6v1.6h-1.6zM109.1 204.8h1.6v1.6h-1.6zM108.4 213.8h1.6v1.6h-1.6zM118.9 201.3h1.6v1.6h-1.6zM121.9 189.4h1.6v1.6h-1.6zM111.0 175.1h1.6v1.6h-1.6zM124.0 185.0h1.6v1.6h-1.6zM96.5 176.7h1.6v1.6h-1.6zM124.6 183.2h1.6v1.6h-1.6zM95.2 165.3h1.6v1.6h-1.6zM129.3 173.7h1.6v1.6h-1.6zM112.7 213.8h1.6v1.6h-1.6zM93.9 159.7h1.6v1.6h-1.6zM106.7 177.2h1.6v1.6h-1.6zM110.5 181.7h1.6v1.6h-1.6zM103.9 211.3h1.6v1.6h-1.6zM95.5 170.9h1.6v1.6h-1.6zM98.5 199.1h1.6v1.6h-1.6zM94.0 179.9h1.6v1.6h-1.6zM96.1 195.5h1.6v1.6h-1.6zM108.5 200.9h1.6v1.6h-1.6zM108.6 205.7h1.6v1.6h-1.6zM95.5 176.2h1.6v1.6h-1.6zM115.0 209.9h1.6v1.6h-1.6zM107.3 175.3h1.6v1.6h-1.6zM120.1 195.6h1.6v1.6h-1.6zM129.1 158.3h1.6v1.6h-1.6zM127.2 175.8h1.6v1.6h-1.6zM96.0 183.9h1.6v1.6h-1.6zM107.1 216.9h1.6v1.6h-1.6zM108.6 193.4h1.6v1.6h-1.6zM95.7 164.5h1.6v1.6h-1.6zM99.6 203.0h1.6v1.6h-1.6zM122.0 188.6h1.6v1.6h-1.6zM120.9 192.6h1.6v1.6h-1.6zM108.2 199.5h1.6v1.6h-1.6zM118.0 203.6h1.6v1.6h-1.6zM93.6 183.2h1.6v1.6h-1.6zM95.3 163.0h1.6v1.6h-1.6zM108.4 184.7h1.6v1.6h-1.6zM107.0 217.0h1.6v1.6h-1.6zM99.4 202.4h1.6v1.6h-1.6zM128.3 158.5h1.6v1.6h-1.6zM111.9 213.9h1.6v1.6h-1.6zM109.0 201.2h1.6v1.6h-1.6zM95.6 164.9h1.6v1.6h-1.6zM109.6 216.6h1.6v1.6h-1.6zM116.2 205.1h1.6v1.6h-1.6zM107.6 161.5h1.6v1.6h-1.6zM127.8 158.8h1.6v1.6h-1.6zM127.5 158.5h1.6v1.6h-1.6zM112.0 214.2h1.6v1.6h-1.6zM129.1 171.2h1.6v1.6h-1.6zM117.5 202.5h1.6v1.6h-1.6zM132.0 168.3h1.6v1.6h-1.6zM102.5 209.5h1.6v1.6h-1.6zM129.4 172.5h1.6v1.6h-1.6zM106.8 164.9h1.6v1.6h-1.6zM119.9 192.3h1.6v1.6h-1.6zM111.0 167.9h1.6v1.6h-1.6zM103.3 209.1h1.6v1.6h-1.6zM108.7 209.1h1.6v1.6h-1.6zM112.7 161.7h1.6v1.6h-1.6zM113.8 155.3h1.6v1.6h-1.6zM96.5 160.8h1.6v1.6h-1.6zM97.0 197.7h1.6v1.6h-1.6zM109.8 199.8h1.6v1.6h-1.6zM107.2 216.4h1.6v1.6h-1.6zM99.0 198.1h1.6v1.6h-1.6zM95.1 186.5h1.6v1.6h-1.6zM113.3 156.0h1.6v1.6h-1.6zM111.4 174.6h1.6v1.6h-1.6zM129.9 163.3h1.6v1.6h-1.6zM107.4 164.0h1.6v1.6h-1.6zM94.9 186.2h1.6v1.6h-1.6zM113.4 212.6h1.6v1.6h-1.6zM110.2 210.3h1.6v1.6h-1.6zM95.2 171.9h1.6v1.6h-1.6zM129.1 157.4h1.6v1.6h-1.6zM95.6 177.5h1.6v1.6h-1.6zM108.0 198.1h1.6v1.6h-1.6zM108.5 198.2h1.6v1.6h-1.6zM108.3 209.8h1.6v1.6h-1.6zM110.3 181.1h1.6v1.6h-1.6zM126.1 179.1h1.6v1.6h-1.6zM107.4 217.6h1.6v1.6h-1.6zM127.7 170.7h1.6v1.6h-1.6zM95.7 167.2h1.6v1.6h-1.6zM108.9 207.8h1.6v1.6h-1.6zM119.3 198.4h1.6v1.6h-1.6zM141.6 155.8h1.7v1.7h-1.7zM151.8 159.3h1.7v1.7h-1.7zM136.8 170.3h1.7v1.7h-1.7zM90.0 173.2h1.7v1.7h-1.7zM91.0 183.8h1.7v1.7h-1.7zM68.1 189.8h1.7v1.7h-1.7zM133.7 157.2h1.7v1.7h-1.7zM132.2 159.7h1.7v1.7h-1.7zM134.3 162.2h1.7v1.7h-1.7zM132.7 165.2h1.7v1.7h-1.7zM131.2 173.2h1.7v1.7h-1.7zM132.8 177.2h1.7v1.7h-1.7zM130.7 186.0h1.7v1.7h-1.7zM134.2 186.2h1.7v1.7h-1.7zM91.7 187.2h1.7v1.7h-1.7zM92.4 192.2h1.7v1.7h-1.7zM93.7 197.2h1.7v1.7h-1.7zM91.8 207.2h1.7v1.7h-1.7zM128.2 195.2h1.7v1.7h-1.7zM127.7 202.2h1.7v1.7h-1.7zM125.2 206.2h1.7v1.7h-1.7zM123.7 212.2h1.7v1.7h-1.7zM92.2 177.2h1.7v1.7h-1.7zM91.2 165.2h1.7v1.7h-1.7z" fill="#858585"/>
<path d="M111.7 173.9h0.9v0.9h-0.9zM114.3 198.8h0.9v0.9h-0.9zM112.4 189.9h0.9v0.9h-0.9zM113.9 192.1h0.9v0.9h-0.9zM103.7 196.9h0.9v0.9h-0.9zM113.4 191.1h0.9v0.9h-0.9zM112.1 192.0h0.9v0.9h-0.9zM107.6 191.1h0.9v0.9h-0.9zM117.7 183.0h0.9v0.9h-0.9zM97.8 183.2h0.9v0.9h-0.9zM112.1 209.3h0.9v0.9h-0.9zM113.0 186.1h0.9v0.9h-0.9zM119.8 165.5h0.9v0.9h-0.9zM120.0 192.7h0.9v0.9h-0.9zM104.2 205.9h0.9v0.9h-0.9zM110.3 203.8h0.9v0.9h-0.9zM97.4 164.5h0.9v0.9h-0.9zM119.5 176.2h0.9v0.9h-0.9zM100.8 181.8h0.9v0.9h-0.9zM110.7 213.4h0.9v0.9h-0.9zM121.0 183.3h0.9v0.9h-0.9zM118.4 164.2h0.9v0.9h-0.9zM100.7 185.8h0.9v0.9h-0.9zM96.2 175.3h0.9v0.9h-0.9zM113.4 167.2h0.9v0.9h-0.9zM116.9 165.9h0.9v0.9h-0.9zM105.5 174.3h0.9v0.9h-0.9zM125.6 160.8h0.9v0.9h-0.9zM124.9 167.2h0.9v0.9h-0.9zM97.2 191.4h0.9v0.9h-0.9zM104.6 181.2h0.9v0.9h-0.9zM122.1 172.7h0.9v0.9h-0.9zM103.3 202.6h0.9v0.9h-0.9zM111.9 189.1h0.9v0.9h-0.9zM110.8 211.9h0.9v0.9h-0.9zM98.0 194.2h0.9v0.9h-0.9zM104.1 199.4h0.9v0.9h-0.9zM120.6 184.4h0.9v0.9h-0.9zM119.7 157.0h0.9v0.9h-0.9zM116.4 182.4h0.9v0.9h-0.9zM116.6 183.0h0.9v0.9h-0.9zM121.6 184.0h0.9v0.9h-0.9zM113.9 194.4h0.9v0.9h-0.9zM121.0 157.9h0.9v0.9h-0.9zM110.5 200.2h0.9v0.9h-0.9zM105.0 168.4h0.9v0.9h-0.9zM104.0 161.4h0.9v0.9h-0.9zM104.8 188.3h0.9v0.9h-0.9zM109.9 196.8h0.9v0.9h-0.9zM115.7 195.6h0.9v0.9h-0.9zM112.0 213.4h0.9v0.9h-0.9zM101.7 164.0h0.9v0.9h-0.9zM117.3 155.9h0.9v0.9h-0.9zM98.9 170.8h0.9v0.9h-0.9zM113.0 205.4h0.9v0.9h-0.9zM99.6 179.9h0.9v0.9h-0.9zM115.3 205.8h0.9v0.9h-0.9zM96.7 170.5h0.9v0.9h-0.9zM102.0 186.7h0.9v0.9h-0.9zM115.3 183.9h0.9v0.9h-0.9zM108.0 202.0h0.9v0.9h-0.9zM100.2 187.8h0.9v0.9h-0.9zM117.4 186.5h0.9v0.9h-0.9zM105.1 174.3h0.9v0.9h-0.9zM124.5 172.5h0.9v0.9h-0.9zM121.4 189.9h0.9v0.9h-0.9zM111.5 181.4h0.9v0.9h-0.9zM111.4 180.7h0.9v0.9h-0.9zM105.7 205.6h0.9v0.9h-0.9zM121.3 166.0h0.9v0.9h-0.9zM115.2 202.0h0.9v0.9h-0.9zM99.8 194.7h0.9v0.9h-0.9zM108.1 204.2h0.9v0.9h-0.9zM97.2 167.6h0.9v0.9h-0.9zM113.1 201.0h0.9v0.9h-0.9zM107.7 193.8h0.9v0.9h-0.9zM98.2 195.3h0.9v0.9h-0.9zM106.9 195.9h0.9v0.9h-0.9zM102.6 172.6h0.9v0.9h-0.9zM114.1 174.0h0.9v0.9h-0.9zM107.8 208.4h0.9v0.9h-0.9zM127.7 164.4h0.9v0.9h-0.9zM100.4 178.3h0.9v0.9h-0.9zM103.4 192.7h0.9v0.9h-0.9zM123.8 161.0h0.9v0.9h-0.9zM112.4 180.5h0.9v0.9h-0.9zM108.1 203.6h0.9v0.9h-0.9zM111.0 213.3h0.9v0.9h-0.9zM104.5 172.4h0.9v0.9h-0.9zM111.4 184.3h0.9v0.9h-0.9zM118.6 183.7h0.9v0.9h-0.9zM98.0 186.9h0.9v0.9h-0.9zM125.4 171.3h0.9v0.9h-0.9zM112.8 168.7h0.9v0.9h-0.9zM113.7 190.3h0.9v0.9h-0.9zM109.6 210.3h0.9v0.9h-0.9zM115.4 174.9h0.9v0.9h-0.9zM106.6 198.6h0.9v0.9h-0.9zM102.3 172.8h0.9v0.9h-0.9zM124.7 161.1h0.9v0.9h-0.9zM109.8 190.1h0.9v0.9h-0.9zM104.1 185.3h0.9v0.9h-0.9zM118.3 163.2h0.9v0.9h-0.9zM113.8 177.3h0.9v0.9h-0.9zM117.8 165.4h0.9v0.9h-0.9zM113.0 204.4h0.9v0.9h-0.9zM105.4 164.2h0.9v0.9h-0.9zM121.0 162.3h0.9v0.9h-0.9zM115.6 162.4h0.9v0.9h-0.9zM114.7 186.6h0.9v0.9h-0.9zM115.7 167.0h0.9v0.9h-0.9zM105.2 162.9h0.9v0.9h-0.9zM110.3 184.7h0.9v0.9h-0.9zM113.2 210.3h0.9v0.9h-0.9zM112.4 188.6h0.9v0.9h-0.9zM101.4 199.1h0.9v0.9h-0.9zM101.6 157.3h0.9v0.9h-0.9zM113.2 172.5h0.9v0.9h-0.9zM103.8 189.1h0.9v0.9h-0.9zM109.9 201.0h0.9v0.9h-0.9zM127.9 169.8h0.9v0.9h-0.9zM122.8 157.9h0.9v0.9h-0.9zM107.1 202.8h0.9v0.9h-0.9zM110.6 182.3h0.9v0.9h-0.9zM111.4 210.1h0.9v0.9h-0.9zM103.7 160.7h0.9v0.9h-0.9zM101.3 194.9h0.9v0.9h-0.9zM98.6 163.7h0.9v0.9h-0.9zM127.2 174.8h0.9v0.9h-0.9zM113.8 201.5h0.9v0.9h-0.9zM116.2 200.7h0.9v0.9h-0.9zM104.3 192.5h0.9v0.9h-0.9zM110.1 204.6h0.9v0.9h-0.9zM99.9 197.2h0.9v0.9h-0.9zM112.4 211.6h0.9v0.9h-0.9zM127.0 163.4h0.9v0.9h-0.9zM114.3 208.0h0.9v0.9h-0.9zM113.1 202.1h0.9v0.9h-0.9zM116.5 203.4h0.9v0.9h-0.9zM120.2 172.9h0.9v0.9h-0.9zM108.6 210.4h0.9v0.9h-0.9zM107.2 201.2h0.9v0.9h-0.9zM101.1 169.0h0.9v0.9h-0.9zM126.8 169.3h0.9v0.9h-0.9zM113.7 195.3h0.9v0.9h-0.9zM115.5 201.0h0.9v0.9h-0.9zM111.3 210.2h0.9v0.9h-0.9zM125.3 160.6h0.9v0.9h-0.9zM124.6 175.2h0.9v0.9h-0.9zM104.0 201.5h0.9v0.9h-0.9zM104.3 156.5h0.9v0.9h-0.9zM117.7 179.8h0.9v0.9h-0.9zM100.1 175.0h0.9v0.9h-0.9zM111.6 204.5h0.9v0.9h-0.9zM103.4 160.7h0.9v0.9h-0.9zM122.4 181.2h0.9v0.9h-0.9zM113.7 162.6h0.9v0.9h-0.9zM102.5 203.3h0.9v0.9h-0.9zM105.1 211.1h0.9v0.9h-0.9zM115.0 207.2h0.9v0.9h-0.9zM125.6 178.4h0.9v0.9h-0.9zM112.6 184.9h0.9v0.9h-0.9zM104.8 203.7h0.9v0.9h-0.9zM105.4 155.6h0.9v0.9h-0.9zM114.1 181.9h0.9v0.9h-0.9zM102.4 176.0h0.9v0.9h-0.9zM112.0 205.6h0.9v0.9h-0.9zM112.8 209.4h0.9v0.9h-0.9zM119.7 160.0h0.9v0.9h-0.9zM107.2 211.1h0.9v0.9h-0.9zM103.0 192.2h0.9v0.9h-0.9zM114.9 194.8h0.9v0.9h-0.9zM112.2 176.6h0.9v0.9h-0.9zM113.8 204.0h0.9v0.9h-0.9zM123.5 181.5h0.9v0.9h-0.9zM109.7 197.8h0.9v0.9h-0.9zM106.9 174.4h0.9v0.9h-0.9zM106.0 207.3h0.9v0.9h-0.9zM101.2 189.0h0.9v0.9h-0.9zM112.1 198.9h0.9v0.9h-0.9zM104.3 199.8h0.9v0.9h-0.9zM120.5 180.0h0.9v0.9h-0.9zM112.6 202.2h0.9v0.9h-0.9zM112.3 211.4h0.9v0.9h-0.9zM102.5 171.6h0.9v0.9h-0.9zM112.2 203.5h0.9v0.9h-0.9zM126.1 163.7h0.9v0.9h-0.9zM115.4 165.0h0.9v0.9h-0.9zM99.4 173.6h0.9v0.9h-0.9zM126.0 177.8h0.9v0.9h-0.9zM106.2 166.4h0.9v0.9h-0.9zM100.9 167.0h0.9v0.9h-0.9zM100.4 161.8h0.9v0.9h-0.9zM115.3 177.9h0.9v0.9h-0.9zM119.5 167.4h0.9v0.9h-0.9zM115.5 204.1h0.9v0.9h-0.9zM104.6 173.8h0.9v0.9h-0.9zM119.9 182.8h0.9v0.9h-0.9zM102.4 199.2h0.9v0.9h-0.9zM111.0 208.8h0.9v0.9h-0.9zM106.0 192.1h0.9v0.9h-0.9zM121.2 157.9h0.9v0.9h-0.9zM115.5 176.1h0.9v0.9h-0.9zM102.1 169.7h0.9v0.9h-0.9zM113.3 199.3h0.9v0.9h-0.9zM102.6 202.4h0.9v0.9h-0.9zM116.9 192.9h0.9v0.9h-0.9zM113.6 195.7h0.9v0.9h-0.9zM111.0 210.1h0.9v0.9h-0.9zM116.4 178.3h0.9v0.9h-0.9zM120.8 166.3h0.9v0.9h-0.9zM122.2 185.8h0.9v0.9h-0.9zM97.1 163.3h0.9v0.9h-0.9zM123.7 179.5h0.9v0.9h-0.9zM113.9 194.3h0.9v0.9h-0.9zM106.8 188.8h0.9v0.9h-0.9zM110.7 201.3h0.9v0.9h-0.9zM115.0 194.5h0.9v0.9h-0.9zM113.9 207.7h0.9v0.9h-0.9zM116.6 203.2h0.9v0.9h-0.9zM123.5 163.2h0.9v0.9h-0.9zM97.5 191.1h0.9v0.9h-0.9zM112.8 190.5h0.9v0.9h-0.9zM97.2 167.9h0.9v0.9h-0.9zM118.3 194.8h0.9v0.9h-0.9zM112.5 176.4h0.9v0.9h-0.9zM100.6 204.2h0.9v0.9h-0.9zM100.1 192.0h0.9v0.9h-0.9zM121.1 159.0h0.9v0.9h-0.9zM107.2 202.4h0.9v0.9h-0.9zM102.8 162.0h0.9v0.9h-0.9zM102.5 175.3h0.9v0.9h-0.9zM115.6 168.2h0.9v0.9h-0.9zM113.5 204.2h0.9v0.9h-0.9zM114.1 157.3h0.9v0.9h-0.9zM110.9 184.8h0.9v0.9h-0.9zM116.4 192.1h0.9v0.9h-0.9zM119.9 178.8h0.9v0.9h-0.9zM128.1 168.7h0.9v0.9h-0.9zM112.2 202.2h0.9v0.9h-0.9zM106.9 212.8h0.9v0.9h-0.9zM123.2 163.3h0.9v0.9h-0.9zM113.0 196.6h0.9v0.9h-0.9zM117.0 166.6h0.9v0.9h-0.9zM120.6 166.8h0.9v0.9h-0.9zM104.4 181.0h0.9v0.9h-0.9zM102.2 167.0h0.9v0.9h-0.9zM117.4 196.2h0.9v0.9h-0.9zM112.7 210.6h0.9v0.9h-0.9zM100.4 197.3h0.9v0.9h-0.9zM123.0 156.3h0.9v0.9h-0.9zM101.0 192.1h0.9v0.9h-0.9zM127.9 165.0h0.9v0.9h-0.9zM98.0 173.3h0.9v0.9h-0.9zM123.9 176.2h0.9v0.9h-0.9zM97.3 181.9h0.9v0.9h-0.9zM120.0 164.5h0.9v0.9h-0.9zM111.9 213.0h0.9v0.9h-0.9zM112.1 183.2h0.9v0.9h-0.9zM120.7 161.9h0.9v0.9h-0.9z" fill="#b0b0b0"/>
</g>
<path d="M109.5 20.7V223.4M33.0 155.24H186.3" stroke="#5cc85c" stroke-width="0.8" fill="none"/>
<g filter="url(#bs)"><path d="M101.3 141.2h2.4v2.4h-2.4zM99.2 144.4h2.4v2.4h-2.4zM101.8 144.7h2.4v2.4h-2.4zM97.3 148.7h2.4v2.4h-2.4zM99.2 148.2h2.4v2.4h-2.4zM102.4 149.2h2.4v2.4h-2.4zM96.8 152.1h2.4v2.4h-2.4zM98.8 152.0h2.4v2.4h-2.4zM101.1 152.4h2.4v2.4h-2.4zM103.4 152.6h2.4v2.4h-2.4zM96.1 150.3h2.4v2.4h-2.4zM103.8 151.0h2.4v2.4h-2.4zM120.9 135.1h2.4v2.4h-2.4zM117.4 137.5h2.4v2.4h-2.4zM119.4 137.5h2.4v2.4h-2.4zM122.2 137.5h2.4v2.4h-2.4zM129.4 137.5h2.4v2.4h-2.4zM131.0 137.5h2.4v2.4h-2.4zM135.1 139.6h2.4v2.4h-2.4zM134.0 141.4h2.4v2.4h-2.4zM120.8 141.2h2.4v2.4h-2.4zM122.2 142.8h2.4v2.4h-2.4zM131.8 143.1h2.4v2.4h-2.4zM130.1 144.1h2.4v2.4h-2.4zM137.5 144.7h2.4v2.4h-2.4zM133.3 146.3h2.4v2.4h-2.4zM128.3 147.4h2.4v2.4h-2.4zM130.3 148.6h2.4v2.4h-2.4zM132.0 149.6h2.4v2.4h-2.4zM134.8 147.8h2.4v2.4h-2.4zM116.4 145.5h2.4v2.4h-2.4zM113.2 152.4h2.4v2.4h-2.4zM124.9 152.8h2.4v2.4h-2.4zM126.6 151.7h2.4v2.4h-2.4zM115.1 142.9h2.4v2.4h-2.4zM116.4 149.0h2.4v2.4h-2.4zM126.9 151.1h2.4v2.4h-2.4zM114.0 146.2h2.4v2.4h-2.4zM123.4 152.2h2.4v2.4h-2.4zM121.0 149.6h2.4v2.4h-2.4zM116.3 145.4h2.4v2.4h-2.4zM114.6 149.1h2.4v2.4h-2.4zM114.9 144.9h2.4v2.4h-2.4zM120.6 149.0h2.4v2.4h-2.4zM123.6 150.3h2.4v2.4h-2.4zM120.8 147.0h2.4v2.4h-2.4zM124.2 150.4h2.4v2.4h-2.4zM116.9 149.7h2.4v2.4h-2.4zM124.6 147.8h2.4v2.4h-2.4zM115.2 152.4h2.4v2.4h-2.4zM116.9 153.3h2.4v2.4h-2.4zM116.7 147.0h2.4v2.4h-2.4zM126.2 151.5h2.4v2.4h-2.4zM123.6 150.7h2.4v2.4h-2.4zM113.5 143.8h2.4v2.4h-2.4zM129.4 151.3h2.4v2.4h-2.4zM113.4 143.3h2.4v2.4h-2.4zM116.9 152.7h2.4v2.4h-2.4zM116.5 149.9h2.4v2.4h-2.4zM115.4 143.0h2.4v2.4h-2.4zM116.0 151.4h2.4v2.4h-2.4zM115.6 148.2h2.4v2.4h-2.4zM114.6 151.1h2.4v2.4h-2.4zM127.9 152.5h2.4v2.4h-2.4zM112.8 151.8h2.4v2.4h-2.4zM122.3 151.5h2.4v2.4h-2.4zM121.3 149.4h2.4v2.4h-2.4zM122.9 151.3h2.4v2.4h-2.4zM114.1 143.4h2.4v2.4h-2.4zM122.1 145.9h2.4v2.4h-2.4zM126.9 151.4h2.4v2.4h-2.4zM118.8 143.8h2.4v2.4h-2.4zM125.2 151.8h2.4v2.4h-2.4zM119.0 146.0h2.4v2.4h-2.4zM123.1 153.2h2.4v2.4h-2.4zM114.1 144.0h2.4v2.4h-2.4zM124.6 149.1h2.4v2.4h-2.4zM121.6 147.6h2.4v2.4h-2.4zM120.1 146.1h2.4v2.4h-2.4zM122.0 148.2h2.4v2.4h-2.4zM122.7 147.4h2.4v2.4h-2.4zM124.1 147.7h2.4v2.4h-2.4zM122.5 142.0h2.4v2.4h-2.4zM122.2 147.7h2.4v2.4h-2.4zM120.2 147.9h2.4v2.4h-2.4zM118.2 148.4h2.4v2.4h-2.4zM120.3 146.7h2.4v2.4h-2.4zM118.8 143.9h2.4v2.4h-2.4zM119.6 144.1h2.4v2.4h-2.4zM117.6 144.9h2.4v2.4h-2.4zM124.6 146.4h2.4v2.4h-2.4zM124.3 147.1h2.4v2.4h-2.4zM154.4 149.8h2.4v2.4h-2.4zM160.0 149.2h2.4v2.4h-2.4z" fill="#cc0000"/></g>
<rect x="136.3" y="24.0" width="6.3" height="4.8" fill="#c80000"/><rect x="137.8" y="24.0" width="4.8" height="4.8" fill="#ee0000"/>
<path d="M33.0 20.7H186.3V223.4" stroke="#000" stroke-width="0.9" fill="none"/>
<path d="M33.0 20.3V223.4H186.70000000000002" stroke="#000" stroke-width="1.1" fill="none"/>
<path d="M38.25 223.4v2.2M62.00 223.4v2.2M85.75 223.4v2.2M109.50 223.4v2.2M133.25 223.4v2.2M157.00 223.4v2.2M180.75 223.4v2.2M33.0 169.60h-2.2M33.0 121.90h-2.2M33.0 74.20h-2.2M33.0 26.50h-2.2" stroke="#000" stroke-width="0.7" fill="none"/>
<g fill="#3a3a3a" filter="url(#bt)"><text x="38.25" y="234.7" text-anchor="middle" font-size="6.4">-3</text><text x="62.00" y="234.7" text-anchor="middle" font-size="6.4">-2</text><text x="85.75" y="234.7" text-anchor="middle" font-size="6.4">-1</text><text x="109.50" y="234.7" text-anchor="middle" font-size="6.4">0</text><text x="133.25" y="234.7" text-anchor="middle" font-size="6.4">1</text><text x="157.00" y="234.7" text-anchor="middle" font-size="6.4">2</text><text x="180.75" y="234.7" text-anchor="middle" font-size="6.4">3</text><text x="28.2" y="171.90" text-anchor="end" font-size="6.4">1</text><text x="28.2" y="124.20" text-anchor="end" font-size="6.4">2</text><text x="28.2" y="76.50" text-anchor="end" font-size="6.4">3</text><text x="28.2" y="28.80" text-anchor="end" font-size="6.4">4</text></g>
<g filter="url(#bt)"><text x="-0.6" y="14.2" font-size="20.5" fill="#000">A</text>
<text x="73.4" y="252.2" font-size="14.8" fill="#000">Log2(FC)</text>
<text transform="translate(13.4,182.3) rotate(-90)" font-size="14.8" fill="#000">-log10(corrPvalue)</text></g>

<!-- panel B -->
<text x="201.8" y="13.9" font-size="20.5" fill="#000" filter="url(#bt)">B</text>
<rect x="229.3" y="7.5" width="71.2" height="6.6" fill="url(#cb)"/>
<path d="M230.2 14.1v2M264.9 14.1v2M299.6 14.1v2" stroke="#333" stroke-width="0.6"/>
<g font-size="4.6" fill="#333" text-anchor="middle" filter="url(#bt)"><text x="231.2" y="21">-2</text><text x="264.9" y="21">0</text><text x="299.4" y="21">2</text></g>
<text x="264.9" y="32.5" font-size="10.5" text-anchor="middle" fill="#111" stroke="#111" stroke-width="0.15" filter="url(#bt)">Log2(FC)</text>
<rect x="202.4" y="41.3" width="20.8" height="8.6" rx="0.8" fill="#1874cd"/>
<rect x="203.2" y="57.3" width="20.8" height="8.3" rx="0.8" fill="#ff0000"/>
<g filter="url(#bt)"><text x="226.0" y="50.3" font-size="12" fill="#000">NR</text>
<text x="226.0" y="65.7" font-size="12" fill="#000">R</text></g>

<path d="M278.92 74.80V65.30H282.27V74.80M280.60 65.30V54.50H285.62V74.80M275.57 74.80V48.60H283.11V54.50M279.34 48.60V44.70H288.97V74.80M292.32 74.80V46.00H295.66V74.80M299.01 74.80V57.40H302.36V74.80M300.69 57.40V52.50H305.71V74.80M303.20 52.50V47.60H309.06V74.80M306.13 47.60V42.70H312.41V74.80M293.99 46.00V41.30H309.27V42.70M284.15 44.70V37.80H301.63V41.30M315.75 74.80V40.20H319.10V74.80M292.89 37.80V30.20H317.43V40.20M322.45 74.80V62.40H325.80V74.80M324.12 62.40V56.40H329.15V74.80M332.49 74.80V61.50H335.84V74.80M339.19 74.80V67.60H342.54V74.80M340.87 67.60V63.10H345.89V74.80M334.17 61.50V59.40H343.38V63.10M338.77 59.40V58.60H349.24V74.80M352.58 74.80V69.80H355.93V74.80M359.28 74.80V62.00H362.63V74.80M354.26 69.80V59.50H360.96V62.00M344.00 58.60V57.60H357.61V59.50M326.64 56.40V53.40H350.81V57.60M369.33 74.80V67.60H372.67V74.80M365.98 74.80V58.00H371.00V67.60M368.49 58.00V56.00H376.02V74.80M338.72 53.40V50.40H372.26V56.00M379.37 74.80V51.20H382.72V74.80M381.04 51.20V49.50H386.07V74.80M389.42 74.80V54.90H392.76V74.80M383.56 49.50V47.50H391.09V54.90M355.49 50.40V45.70H387.32V47.50M396.11 74.80V68.30H399.46V74.80M397.79 68.30V63.80H402.81V74.80M406.16 74.80V70.20H409.51V74.80M407.83 70.20V63.80H412.85V74.80M400.30 63.80V62.00H410.34V63.80M416.20 74.80V56.00H419.55V74.80M405.32 62.00V53.20H417.88V56.00M426.25 74.80V63.80H429.59V74.80M422.90 74.80V59.90H427.92V63.80M425.41 59.90V55.10H432.94V74.80M411.60 53.20V49.50H429.18V55.10M436.29 74.80V55.90H439.64V74.80M442.99 74.80V55.10H446.34V74.80M437.97 55.90V51.90H444.66V55.10M449.68 74.80V63.80H453.03V74.80M456.38 74.80V61.50H459.73V74.80M451.36 63.80V57.50H458.06V61.50M441.31 51.90V50.30H454.71V57.50M448.01 50.30V47.90H463.08V74.80M420.39 49.50V43.20H455.54V47.90M469.77 74.80V60.00H473.12V74.80M466.43 74.80V52.00H471.45V60.00M437.97 43.20V39.80H468.94V52.00M479.82 74.80V55.90H483.17V74.80M476.47 74.80V49.50H481.49V55.90M489.86 74.80V51.00H493.21V74.80M496.56 74.80V50.30H499.91V74.80M491.54 51.00V45.60H498.23V50.30M486.52 74.80V41.60H494.89V45.60M478.98 49.50V38.50H490.70V41.60M453.45 39.80V34.20H484.84V38.50M371.41 45.70V35.80H469.15V34.20M509.95 74.80V57.50H513.30V74.80M511.63 57.50V52.00H516.65V74.80M506.61 74.80V44.00H514.14V52.00M510.37 44.00V40.80H520.00V74.80M503.26 74.80V35.30H515.19V40.80M526.69 74.80V63.80H530.04V74.80M523.35 74.80V55.00H528.37V63.80M533.39 74.80V49.50H536.74V74.80M525.86 55.00V48.00H535.07V49.50M530.46 48.00V45.60H540.09V74.80M543.44 74.80V48.70H546.78V74.80M545.11 48.70V45.00H550.13V74.80M547.62 45.00V41.60H553.48V74.80M535.27 45.60V35.30H550.55V41.60M510.00 35.30V31.60H547.30V35.30M448.30 35.80V29.90H528.00V31.60M556.83 74.80V64.60H560.18V74.80M558.50 64.60V45.60H563.53V74.80M488.15 29.90V27.40H561.01V45.60M304.60 30.20V8.30H525.00V27.40" stroke="#262626" stroke-width="0.7" fill="none"/>
<path d="M260.90 84.96V89.34M246.40 80.59V87.15M246.40 87.15H260.90M254.80 93.71V98.09M241.30 83.87V95.90M241.30 83.87H246.40M241.30 95.90H254.80M256.20 102.46V106.84M232.70 89.88V104.65M232.70 89.88H241.30M232.70 104.65H256.20M242.90 111.21V115.59M226.20 97.27V113.40M226.20 97.27H232.70M226.20 113.40H242.90M249.50 119.96V124.34M257.60 128.71V133.09M246.00 130.90V137.46M246.00 130.90H257.60M249.50 141.84V146.21M238.90 134.18V144.03M238.90 134.18H246.00M238.90 144.03H249.50M229.70 122.15V139.10M229.70 122.15H249.50M229.70 139.10H238.90M201.70 105.33V130.63M201.70 105.33H226.20M201.70 130.63H229.70M254.20 150.59V154.96M263.30 168.09V172.46M260.90 163.71V170.28M260.90 170.28H263.30M262.90 176.84V181.21M256.20 166.99V179.03M256.20 166.99H260.90M256.20 179.03H262.90M244.60 159.34V173.01M244.60 173.01H256.20M241.90 152.78V166.17M241.90 152.78H254.20M241.90 166.17H244.60M226.60 159.47V185.59M226.60 159.47H241.90M261.30 189.96V194.34M265.80 203.09V207.46M258.20 198.71V205.28M258.20 205.28H265.80M255.20 201.99V211.84M255.20 201.99H258.20M253.80 192.15V206.92M253.80 192.15H261.30M253.80 206.92H255.20M249.50 199.53V216.21M249.50 199.53H253.80M250.70 220.59V224.96M256.60 229.34V233.71M243.30 222.78V231.53M243.30 222.78H250.70M243.30 231.53H256.60M234.40 207.87V227.15M234.40 207.87H249.50M234.40 227.15H243.30M214.80 172.53V217.51M214.80 172.53H226.60M214.80 217.51H234.40M198.40 117.98V195.02M198.40 117.98H201.70M198.40 195.02H214.80" stroke="#111" stroke-width="0.9" fill="none"/>
<path d="M260.90 84.96H270.50M260.90 89.34H270.50M246.40 80.59H270.50M254.80 93.71H270.50M254.80 98.09H270.50M256.20 102.46H270.50M256.20 106.84H270.50M242.90 111.21H270.50M242.90 115.59H270.50M249.50 119.96H270.50M249.50 124.34H270.50M257.60 128.71H270.50M257.60 133.09H270.50M246.00 137.46H270.50M249.50 141.84H270.50M249.50 146.21H270.50M254.20 150.59H270.50" stroke="#ff1a1a" stroke-width="0.9" fill="none"/>
<path d="M254.20 154.96H270.50M263.30 168.09H270.50M263.30 172.46H270.50M260.90 163.71H270.50M262.90 176.84H270.50M262.90 181.21H270.50M244.60 159.34H270.50M226.60 185.59H270.50M261.30 189.96H270.50M261.30 194.34H270.50M265.80 203.09H270.50M265.80 207.46H270.50M258.20 198.71H270.50M255.20 211.84H270.50M249.50 216.21H270.50M250.70 220.59H270.50M250.70 224.96H270.50M256.60 229.34H270.50M256.60 233.71H270.50" stroke="#3a6fe8" stroke-width="0.9" fill="none"/>

<rect x="273.9" y="78.4" width="291.30" height="157.50" fill="#0a0a0a"/>
<g clip-path="url(#hc)"><g filter="url(#bl)">
<rect x="273.90" y="78.40" width="3.40" height="4.42" fill="#0a0707"/>
<rect x="277.25" y="78.40" width="10.09" height="4.42" fill="#2f0000"/>
<rect x="287.29" y="78.40" width="3.40" height="4.42" fill="#0a0707"/>
<rect x="290.64" y="78.40" width="6.75" height="4.42" fill="#620000"/>
<rect x="297.34" y="78.40" width="20.14" height="4.42" fill="#2f0000"/>
<rect x="317.43" y="78.40" width="3.40" height="4.42" fill="#0a0707"/>
<rect x="320.78" y="78.40" width="3.40" height="4.42" fill="#004e00"/>
<rect x="324.12" y="78.40" width="3.40" height="4.42" fill="#051603"/>
<rect x="327.47" y="78.40" width="3.40" height="4.42" fill="#003900"/>
<rect x="330.82" y="78.40" width="3.40" height="4.42" fill="#051603"/>
<rect x="334.17" y="78.40" width="6.75" height="4.42" fill="#001e00"/>
<rect x="340.87" y="78.40" width="3.40" height="4.42" fill="#2f0000"/>
<rect x="344.21" y="78.40" width="3.40" height="4.42" fill="#003900"/>
<rect x="347.56" y="78.40" width="3.40" height="4.42" fill="#001e00"/>
<rect x="350.91" y="78.40" width="10.09" height="4.42" fill="#002500"/>
<rect x="360.96" y="78.40" width="3.40" height="4.42" fill="#004e00"/>
<rect x="364.30" y="78.40" width="3.40" height="4.42" fill="#001e00"/>
<rect x="367.65" y="78.40" width="6.75" height="4.42" fill="#004e00"/>
<rect x="374.35" y="78.40" width="10.09" height="4.42" fill="#002500"/>
<rect x="384.39" y="78.40" width="6.75" height="4.42" fill="#004e00"/>
<rect x="391.09" y="78.40" width="3.40" height="4.42" fill="#001e00"/>
<rect x="394.44" y="78.40" width="3.40" height="4.42" fill="#002500"/>
<rect x="397.79" y="78.40" width="3.40" height="4.42" fill="#001e00"/>
<rect x="401.13" y="78.40" width="3.40" height="4.42" fill="#2f0000"/>
<rect x="404.48" y="78.40" width="3.40" height="4.42" fill="#0a0707"/>
<rect x="407.83" y="78.40" width="3.40" height="4.42" fill="#002500"/>
<rect x="411.18" y="78.40" width="3.40" height="4.42" fill="#0a0707"/>
<rect x="414.53" y="78.40" width="3.40" height="4.42" fill="#002500"/>
<rect x="417.88" y="78.40" width="6.75" height="4.42" fill="#0a0707"/>
<rect x="424.57" y="78.40" width="10.09" height="4.42" fill="#001e00"/>
<rect x="434.62" y="78.40" width="3.40" height="4.42" fill="#004e00"/>
<rect x="437.97" y="78.40" width="13.44" height="4.42" fill="#0a0707"/>
<rect x="451.36" y="78.40" width="3.40" height="4.42" fill="#2f0000"/>
<rect x="454.71" y="78.40" width="16.79" height="4.42" fill="#0a0707"/>
<rect x="471.45" y="78.40" width="3.40" height="4.42" fill="#2f0000"/>
<rect x="474.80" y="78.40" width="3.40" height="4.42" fill="#002500"/>
<rect x="478.14" y="78.40" width="6.75" height="4.42" fill="#0a0707"/>
<rect x="484.84" y="78.40" width="13.44" height="4.42" fill="#002500"/>
<rect x="498.23" y="78.40" width="3.40" height="4.42" fill="#00e800"/>
<rect x="501.58" y="78.40" width="3.40" height="4.42" fill="#001e00"/>
<rect x="504.93" y="78.40" width="6.75" height="4.42" fill="#004e00"/>
<rect x="511.63" y="78.40" width="3.40" height="4.42" fill="#003900"/>
<rect x="514.98" y="78.40" width="6.75" height="4.42" fill="#002500"/>
<rect x="521.67" y="78.40" width="10.09" height="4.42" fill="#003900"/>
<rect x="531.72" y="78.40" width="10.09" height="4.42" fill="#002500"/>
<rect x="541.76" y="78.40" width="3.40" height="4.42" fill="#0a0707"/>
<rect x="545.11" y="78.40" width="3.40" height="4.42" fill="#008e00"/>
<rect x="548.46" y="78.40" width="6.75" height="4.42" fill="#003900"/>
<rect x="555.16" y="78.40" width="6.75" height="4.42" fill="#00e800"/>
<rect x="561.85" y="78.40" width="3.40" height="4.42" fill="#001e00"/>
<rect x="273.90" y="82.78" width="3.40" height="4.42" fill="#0a0707"/>
<rect x="277.25" y="82.78" width="10.09" height="4.42" fill="#004e00"/>
<rect x="287.29" y="82.78" width="3.40" height="4.42" fill="#0a0707"/>
<rect x="290.64" y="82.78" width="3.40" height="4.42" fill="#002500"/>
<rect x="293.99" y="82.78" width="6.75" height="4.42" fill="#004e00"/>
<rect x="300.69" y="82.78" width="3.40" height="4.42" fill="#0a0707"/>
<rect x="304.03" y="82.78" width="6.75" height="4.42" fill="#002500"/>
<rect x="310.73" y="82.78" width="3.40" height="4.42" fill="#0a0707"/>
<rect x="314.08" y="82.78" width="3.40" height="4.42" fill="#2f0000"/>
<rect x="317.43" y="82.78" width="3.40" height="4.42" fill="#620000"/>
<rect x="320.78" y="82.78" width="3.40" height="4.42" fill="#004e00"/>
<rect x="324.12" y="82.78" width="3.40" height="4.42" fill="#001e00"/>
<rect x="327.47" y="82.78" width="6.75" height="4.42" fill="#003900"/>
<rect x="334.17" y="82.78" width="3.40" height="4.42" fill="#004e00"/>
<rect x="337.52" y="82.78" width="3.40" height="4.42" fill="#006e00"/>
<rect x="340.87" y="82.78" width="10.09" height="4.42" fill="#004e00"/>
<rect x="350.91" y="82.78" width="10.09" height="4.42" fill="#003900"/>
<rect x="360.96" y="82.78" width="3.40" height="4.42" fill="#008e00"/>
<rect x="364.30" y="82.78" width="3.40" height="4.42" fill="#001e00"/>
<rect x="367.65" y="82.78" width="3.40" height="4.42" fill="#004e00"/>
<rect x="371.00" y="82.78" width="3.40" height="4.42" fill="#002500"/>
<rect x="374.35" y="82.78" width="3.40" height="4.42" fill="#0a0707"/>
<rect x="377.70" y="82.78" width="13.44" height="4.42" fill="#002500"/>
<rect x="391.09" y="82.78" width="3.40" height="4.42" fill="#2f0000"/>
<rect x="394.44" y="82.78" width="6.75" height="4.42" fill="#004e00"/>
<rect x="401.13" y="82.78" width="13.44" height="4.42" fill="#002500"/>
<rect x="414.53" y="82.78" width="3.40" height="4.42" fill="#0a0707"/>
<rect x="417.88" y="82.78" width="3.40" height="4.42" fill="#2f0000"/>
<rect x="421.22" y="82.78" width="3.40" height="4.42" fill="#002500"/>
<rect x="424.57" y="82.78" width="6.75" height="4.42" fill="#004e00"/>
<rect x="431.27" y="82.78" width="6.75" height="4.42" fill="#002500"/>
<rect x="437.97" y="82.78" width="3.40" height="4.42" fill="#2f0000"/>
<rect x="441.31" y="82.78" width="3.40" height="4.42" fill="#0a0707"/>
<rect x="444.66" y="82.78" width="10.09" height="4.42" fill="#2f0000"/>
<rect x="454.71" y="82.78" width="10.09" height="4.42" fill="#0a0707"/>
<rect x="464.75" y="82.78" width="3.40" height="4.42" fill="#004e00"/>
<rect x="468.10" y="82.78" width="3.40" height="4.42" fill="#0a0707"/>
<rect x="471.45" y="82.78" width="6.75" height="4.42" fill="#2f0000"/>
<rect x="478.14" y="82.78" width="3.40" height="4.42" fill="#260000"/>
<rect x="481.49" y="82.78" width="3.40" height="4.42" fill="#2f0000"/>
<rect x="484.84" y="82.78" width="3.40" height="4.42" fill="#0a0707"/>
<rect x="488.19" y="82.78" width="10.09" height="4.42" fill="#2f0000"/>
<rect x="498.23" y="82.78" width="6.75" height="4.42" fill="#0a0707"/>
<rect x="504.93" y="82.78" width="3.40" height="4.42" fill="#003900"/>
<rect x="508.28" y="82.78" width="3.40" height="4.42" fill="#002500"/>
<rect x="511.63" y="82.78" width="3.40" height="4.42" fill="#051603"/>
<rect x="514.98" y="82.78" width="3.40" height="4.42" fill="#003900"/>
<rect x="518.32" y="82.78" width="3.40" height="4.42" fill="#004e00"/>
<rect x="521.67" y="82.78" width="3.40" height="4.42" fill="#003900"/>
<rect x="525.02" y="82.78" width="3.40" height="4.42" fill="#002500"/>
<rect x="528.37" y="82.78" width="3.40" height="4.42" fill="#003900"/>
<rect x="531.72" y="82.78" width="3.40" height="4.42" fill="#002500"/>
<rect x="535.07" y="82.78" width="3.40" height="4.42" fill="#2f0000"/>
<rect x="538.41" y="82.78" width="3.40" height="4.42" fill="#0a0707"/>
<rect x="541.76" y="82.78" width="3.40" height="4.42" fill="#620000"/>
<rect x="545.11" y="82.78" width="3.40" height="4.42" fill="#003900"/>
<rect x="548.46" y="82.78" width="3.40" height="4.42" fill="#001e00"/>
<rect x="551.81" y="82.78" width="3.40" height="4.42" fill="#002500"/>
<rect x="555.16" y="82.78" width="6.75" height="4.42" fill="#00e800"/>
<rect x="561.85" y="82.78" width="3.40" height="4.42" fill="#001e00"/>
<rect x="273.90" y="87.15" width="3.40" height="4.42" fill="#002500"/>
<rect x="277.25" y="87.15" width="10.09" height="4.42" fill="#004e00"/>
<rect x="287.29" y="87.15" width="13.44" height="4.42" fill="#002500"/>
<rect x="300.69" y="87.15" width="3.40" height="4.42" fill="#0a0707"/>
<rect x="304.03" y="87.15" width="3.40" height="4.42" fill="#002500"/>
<rect x="307.38" y="87.15" width="3.40" height="4.42" fill="#004e00"/>
<rect x="310.73" y="87.15" width="3.40" height="4.42" fill="#002500"/>
<rect x="314.08" y="87.15" width="6.75" height="4.42" fill="#2f0000"/>
<rect x="320.78" y="87.15" width="3.40" height="4.42" fill="#051603"/>
<rect x="324.12" y="87.15" width="10.09" height="4.42" fill="#001e00"/>
<rect x="334.17" y="87.15" width="3.40" height="4.42" fill="#002500"/>
<rect x="337.52" y="87.15" width="3.40" height="4.42" fill="#001e00"/>
<rect x="340.87" y="87.15" width="3.40" height="4.42" fill="#1c0303"/>
<rect x="344.21" y="87.15" width="3.40" height="4.42" fill="#003900"/>
<rect x="347.56" y="87.15" width="3.40" height="4.42" fill="#001e00"/>
<rect x="350.91" y="87.15" width="3.40" height="4.42" fill="#1c0303"/>
<rect x="354.26" y="87.15" width="3.40" height="4.42" fill="#2f0000"/>
<rect x="357.61" y="87.15" width="3.40" height="4.42" fill="#1c0303"/>
<rect x="360.96" y="87.15" width="3.40" height="4.42" fill="#003900"/>
<rect x="364.30" y="87.15" width="3.40" height="4.42" fill="#001e00"/>
<rect x="367.65" y="87.15" width="3.40" height="4.42" fill="#1c0303"/>
<rect x="371.00" y="87.15" width="3.40" height="4.42" fill="#2f0000"/>
<rect x="374.35" y="87.15" width="3.40" height="4.42" fill="#620000"/>
<rect x="377.70" y="87.15" width="6.75" height="4.42" fill="#0a0707"/>
<rect x="384.39" y="87.15" width="3.40" height="4.42" fill="#2f0000"/>
<rect x="387.74" y="87.15" width="3.40" height="4.42" fill="#0a0707"/>
<rect x="391.09" y="87.15" width="3.40" height="4.42" fill="#620000"/>
<rect x="394.44" y="87.15" width="3.40" height="4.42" fill="#0a0707"/>
<rect x="397.79" y="87.15" width="3.40" height="4.42" fill="#001e00"/>
<rect x="401.13" y="87.15" width="6.75" height="4.42" fill="#0a0707"/>
<rect x="407.83" y="87.15" width="3.40" height="4.42" fill="#001e00"/>
<rect x="411.18" y="87.15" width="6.75" height="4.42" fill="#0a0707"/>
<rect x="417.88" y="87.15" width="3.40" height="4.42" fill="#620000"/>
<rect x="421.22" y="87.15" width="3.40" height="4.42" fill="#0a0707"/>
<rect x="424.57" y="87.15" width="3.40" height="4.42" fill="#001e00"/>
<rect x="427.92" y="87.15" width="3.40" height="4.42" fill="#002500"/>
<rect x="431.27" y="87.15" width="3.40" height="4.42" fill="#001e00"/>
<rect x="434.62" y="87.15" width="3.40" height="4.42" fill="#0a0707"/>
<rect x="437.97" y="87.15" width="3.40" height="4.42" fill="#2f0000"/>
<rect x="441.31" y="87.15" width="3.40" height="4.42" fill="#0a0707"/>
<rect x="444.66" y="87.15" width="3.40" height="4.42" fill="#002500"/>
<rect x="448.01" y="87.15" width="3.40" height="4.42" fill="#0a0707"/>
<rect x="451.36" y="87.15" width="3.40" height="4.42" fill="#002500"/>
<rect x="454.71" y="87.15" width="3.40" height="4.42" fill="#0a0707"/>
<rect x="458.06" y="87.15" width="3.40" height="4.42" fill="#2f0000"/>
<rect x="461.40" y="87.15" width="3.40" height="4.42" fill="#0a0707"/>
<rect x="464.75" y="87.15" width="13.44" height="4.42" fill="#2f0000"/>
<rect x="478.14" y="87.15" width="6.75" height="4.42" fill="#aa0000"/>
<rect x="484.84" y="87.15" width="3.40" height="4.42" fill="#2f0000"/>
<rect x="488.19" y="87.15" width="13.44" height="4.42" fill="#620000"/>
<rect x="501.58" y="87.15" width="3.40" height="4.42" fill="#001e00"/>
<rect x="504.93" y="87.15" width="6.75" height="4.42" fill="#003900"/>
<rect x="511.63" y="87.15" width="3.40" height="4.42" fill="#002500"/>
<rect x="514.98" y="87.15" width="3.40" height="4.42" fill="#001e00"/>
<rect x="518.32" y="87.15" width="3.40" height="4.42" fill="#004e00"/>
<rect x="521.67" y="87.15" width="3.40" height="4.42" fill="#003900"/>
<rect x="525.02" y="87.15" width="3.40" height="4.42" fill="#001e00"/>
<rect x="528.37" y="87.15" width="3.40" height="4.42" fill="#003900"/>
<rect x="531.72" y="87.15" width="3.40" height="4.42" fill="#002500"/>
<rect x="535.07" y="87.15" width="3.40" height="4.42" fill="#0a0707"/>
<rect x="538.41" y="87.15" width="6.75" height="4.42" fill="#2f0000"/>
<rect x="545.11" y="87.15" width="3.40" height="4.42" fill="#004e00"/>
<rect x="548.46" y="87.15" width="3.40" height="4.42" fill="#003900"/>
<rect x="551.81" y="87.15" width="3.40" height="4.42" fill="#051603"/>
<rect x="555.16" y="87.15" width="6.75" height="4.42" fill="#00e800"/>
<rect x="561.85" y="87.15" width="3.40" height="4.42" fill="#001e00"/>
<rect x="273.90" y="91.53" width="10.09" height="4.42" fill="#002500"/>
<rect x="283.94" y="91.53" width="3.40" height="4.42" fill="#0a0707"/>
<rect x="287.29" y="91.53" width="6.75" height="4.42" fill="#2f0000"/>
<rect x="293.99" y="91.53" width="3.40" height="4.42" fill="#002500"/>
<rect x="297.34" y="91.53" width="3.40" height="4.42" fill="#0a0707"/>
<rect x="300.69" y="91.53" width="3.40" height="4.42" fill="#620000"/>
<rect x="304.03" y="91.53" width="3.40" height="4.42" fill="#002500"/>
<rect x="307.38" y="91.53" width="3.40" height="4.42" fill="#0a0707"/>
<rect x="310.73" y="91.53" width="6.75" height="4.42" fill="#2f0000"/>
<rect x="317.43" y="91.53" width="3.40" height="4.42" fill="#1c0303"/>
<rect x="320.78" y="91.53" width="3.40" height="4.42" fill="#006e00"/>
<rect x="324.12" y="91.53" width="3.40" height="4.42" fill="#004e00"/>
<rect x="327.47" y="91.53" width="3.40" height="4.42" fill="#006e00"/>
<rect x="330.82" y="91.53" width="3.40" height="4.42" fill="#003900"/>
<rect x="334.17" y="91.53" width="6.75" height="4.42" fill="#004e00"/>
<rect x="340.87" y="91.53" width="3.40" height="4.42" fill="#003900"/>
<rect x="344.21" y="91.53" width="3.40" height="4.42" fill="#004e00"/>
<rect x="347.56" y="91.53" width="3.40" height="4.42" fill="#003900"/>
<rect x="350.91" y="91.53" width="10.09" height="4.42" fill="#004e00"/>
<rect x="360.96" y="91.53" width="3.40" height="4.42" fill="#006e00"/>
<rect x="364.30" y="91.53" width="3.40" height="4.42" fill="#0a0707"/>
<rect x="367.65" y="91.53" width="3.40" height="4.42" fill="#051603"/>
<rect x="371.00" y="91.53" width="3.40" height="4.42" fill="#260000"/>
<rect x="374.35" y="91.53" width="3.40" height="4.42" fill="#0a0707"/>
<rect x="377.70" y="91.53" width="3.40" height="4.42" fill="#2f0000"/>
<rect x="381.04" y="91.53" width="6.75" height="4.42" fill="#0a0707"/>
<rect x="387.74" y="91.53" width="3.40" height="4.42" fill="#260000"/>
<rect x="391.09" y="91.53" width="3.40" height="4.42" fill="#620000"/>
<rect x="394.44" y="91.53" width="3.40" height="4.42" fill="#004e00"/>
<rect x="397.79" y="91.53" width="10.09" height="4.42" fill="#002500"/>
<rect x="407.83" y="91.53" width="6.75" height="4.42" fill="#004e00"/>
<rect x="414.53" y="91.53" width="3.40" height="4.42" fill="#0a0707"/>
<rect x="417.88" y="91.53" width="3.40" height="4.42" fill="#620000"/>
<rect x="421.22" y="91.53" width="3.40" height="4.42" fill="#0a0707"/>
<rect x="424.57" y="91.53" width="13.44" height="4.42" fill="#004e00"/>
<rect x="437.97" y="91.53" width="3.40" height="4.42" fill="#0a0707"/>
<rect x="441.31" y="91.53" width="3.40" height="4.42" fill="#004e00"/>
<rect x="444.66" y="91.53" width="3.40" height="4.42" fill="#002500"/>
<rect x="448.01" y="91.53" width="3.40" height="4.42" fill="#001e00"/>
<rect x="451.36" y="91.53" width="3.40" height="4.42" fill="#002500"/>
<rect x="454.71" y="91.53" width="3.40" height="4.42" fill="#2f0000"/>
<rect x="458.06" y="91.53" width="6.75" height="4.42" fill="#0a0707"/>
<rect x="464.75" y="91.53" width="3.40" height="4.42" fill="#2f0000"/>
<rect x="468.10" y="91.53" width="3.40" height="4.42" fill="#0a0707"/>
<rect x="471.45" y="91.53" width="6.75" height="4.42" fill="#2f0000"/>
<rect x="478.14" y="91.53" width="6.75" height="4.42" fill="#aa0000"/>
<rect x="484.84" y="91.53" width="3.40" height="4.42" fill="#260000"/>
<rect x="488.19" y="91.53" width="3.40" height="4.42" fill="#2f0000"/>
<rect x="491.54" y="91.53" width="3.40" height="4.42" fill="#620000"/>
<rect x="494.89" y="91.53" width="3.40" height="4.42" fill="#2f0000"/>
<rect x="498.23" y="91.53" width="3.40" height="4.42" fill="#008e00"/>
<rect x="501.58" y="91.53" width="3.40" height="4.42" fill="#002500"/>
<rect x="504.93" y="91.53" width="3.40" height="4.42" fill="#008e00"/>
<rect x="508.28" y="91.53" width="6.75" height="4.42" fill="#006e00"/>
<rect x="514.98" y="91.53" width="3.40" height="4.42" fill="#008e00"/>
<rect x="518.32" y="91.53" width="3.40" height="4.42" fill="#001e00"/>
<rect x="521.67" y="91.53" width="10.09" height="4.42" fill="#004e00"/>
<rect x="531.72" y="91.53" width="6.75" height="4.42" fill="#003900"/>
<rect x="538.41" y="91.53" width="6.75" height="4.42" fill="#006e00"/>
<rect x="545.11" y="91.53" width="3.40" height="4.42" fill="#001e00"/>
<rect x="548.46" y="91.53" width="10.09" height="4.42" fill="#008e00"/>
<rect x="558.50" y="91.53" width="3.40" height="4.42" fill="#006e00"/>
<rect x="561.85" y="91.53" width="3.40" height="4.42" fill="#620000"/>
<rect x="273.90" y="95.90" width="6.75" height="4.42" fill="#2f0000"/>
<rect x="280.60" y="95.90" width="3.40" height="4.42" fill="#0a0707"/>
<rect x="283.94" y="95.90" width="3.40" height="4.42" fill="#2f0000"/>
<rect x="287.29" y="95.90" width="3.40" height="4.42" fill="#0a0707"/>
<rect x="290.64" y="95.90" width="3.40" height="4.42" fill="#620000"/>
<rect x="293.99" y="95.90" width="3.40" height="4.42" fill="#002500"/>
<rect x="297.34" y="95.90" width="3.40" height="4.42" fill="#0a0707"/>
<rect x="300.69" y="95.90" width="3.40" height="4.42" fill="#620000"/>
<rect x="304.03" y="95.90" width="10.09" height="4.42" fill="#0a0707"/>
<rect x="314.08" y="95.90" width="3.40" height="4.42" fill="#620000"/>
<rect x="317.43" y="95.90" width="3.40" height="4.42" fill="#2f0000"/>
<rect x="320.78" y="95.90" width="3.40" height="4.42" fill="#004e00"/>
<rect x="324.12" y="95.90" width="6.75" height="4.42" fill="#002500"/>
<rect x="330.82" y="95.90" width="6.75" height="4.42" fill="#003900"/>
<rect x="337.52" y="95.90" width="6.75" height="4.42" fill="#2f0000"/>
<rect x="344.21" y="95.90" width="3.40" height="4.42" fill="#003900"/>
<rect x="347.56" y="95.90" width="3.40" height="4.42" fill="#002500"/>
<rect x="350.91" y="95.90" width="3.40" height="4.42" fill="#051603"/>
<rect x="354.26" y="95.90" width="6.75" height="4.42" fill="#0a0707"/>
<rect x="360.96" y="95.90" width="3.40" height="4.42" fill="#004e00"/>
<rect x="364.30" y="95.90" width="3.40" height="4.42" fill="#0a0707"/>
<rect x="367.65" y="95.90" width="3.40" height="4.42" fill="#620000"/>
<rect x="371.00" y="95.90" width="3.40" height="4.42" fill="#aa0000"/>
<rect x="374.35" y="95.90" width="3.40" height="4.42" fill="#260000"/>
<rect x="377.70" y="95.90" width="3.40" height="4.42" fill="#0a0707"/>
<rect x="381.04" y="95.90" width="3.40" height="4.42" fill="#2f0000"/>
<rect x="384.39" y="95.90" width="3.40" height="4.42" fill="#620000"/>
<rect x="387.74" y="95.90" width="3.40" height="4.42" fill="#260000"/>
<rect x="391.09" y="95.90" width="3.40" height="4.42" fill="#620000"/>
<rect x="394.44" y="95.90" width="6.75" height="4.42" fill="#002500"/>
<rect x="401.13" y="95.90" width="3.40" height="4.42" fill="#0a0707"/>
<rect x="404.48" y="95.90" width="3.40" height="4.42" fill="#002500"/>
<rect x="407.83" y="95.90" width="10.09" height="4.42" fill="#0a0707"/>
<rect x="417.88" y="95.90" width="3.40" height="4.42" fill="#2f0000"/>
<rect x="421.22" y="95.90" width="6.75" height="4.42" fill="#004e00"/>
<rect x="427.92" y="95.90" width="10.09" height="4.42" fill="#002500"/>
<rect x="437.97" y="95.90" width="3.40" height="4.42" fill="#001e00"/>
<rect x="441.31" y="95.90" width="10.09" height="4.42" fill="#004e00"/>
<rect x="451.36" y="95.90" width="3.40" height="4.42" fill="#0a0707"/>
<rect x="454.71" y="95.90" width="3.40" height="4.42" fill="#2f0000"/>
<rect x="458.06" y="95.90" width="3.40" height="4.42" fill="#0a0707"/>
<rect x="461.40" y="95.90" width="6.75" height="4.42" fill="#2f0000"/>
<rect x="468.10" y="95.90" width="3.40" height="4.42" fill="#0a0707"/>
<rect x="471.45" y="95.90" width="6.75" height="4.42" fill="#2f0000"/>
<rect x="478.14" y="95.90" width="6.75" height="4.42" fill="#aa0000"/>
<rect x="484.84" y="95.90" width="3.40" height="4.42" fill="#260000"/>
<rect x="488.19" y="95.90" width="10.09" height="4.42" fill="#2f0000"/>
<rect x="498.23" y="95.90" width="3.40" height="4.42" fill="#002500"/>
<rect x="501.58" y="95.90" width="3.40" height="4.42" fill="#0a0707"/>
<rect x="504.93" y="95.90" width="3.40" height="4.42" fill="#003900"/>
<rect x="508.28" y="95.90" width="10.09" height="4.42" fill="#004e00"/>
<rect x="518.32" y="95.90" width="3.40" height="4.42" fill="#620000"/>
<rect x="521.67" y="95.90" width="3.40" height="4.42" fill="#003900"/>
<rect x="525.02" y="95.90" width="3.40" height="4.42" fill="#001e00"/>
<rect x="528.37" y="95.90" width="6.75" height="4.42" fill="#002500"/>
<rect x="535.07" y="95.90" width="6.75" height="4.42" fill="#003900"/>
<rect x="541.76" y="95.90" width="3.40" height="4.42" fill="#001e00"/>
<rect x="545.11" y="95.90" width="3.40" height="4.42" fill="#051603"/>
<rect x="548.46" y="95.90" width="6.75" height="4.42" fill="#003900"/>
<rect x="555.16" y="95.90" width="3.40" height="4.42" fill="#006e00"/>
<rect x="558.50" y="95.90" width="3.40" height="4.42" fill="#008e00"/>
<rect x="561.85" y="95.90" width="3.40" height="4.42" fill="#001e00"/>
<rect x="273.90" y="100.28" width="3.40" height="4.42" fill="#0a0707"/>
<rect x="277.25" y="100.28" width="3.40" height="4.42" fill="#002500"/>
<rect x="280.60" y="100.28" width="3.40" height="4.42" fill="#004e00"/>
<rect x="283.94" y="100.28" width="3.40" height="4.42" fill="#002500"/>
<rect x="287.29" y="100.28" width="6.75" height="4.42" fill="#0a0707"/>
<rect x="293.99" y="100.28" width="3.40" height="4.42" fill="#004e00"/>
<rect x="297.34" y="100.28" width="6.75" height="4.42" fill="#0a0707"/>
<rect x="304.03" y="100.28" width="3.40" height="4.42" fill="#2f0000"/>
<rect x="307.38" y="100.28" width="10.09" height="4.42" fill="#0a0707"/>
<rect x="317.43" y="100.28" width="10.09" height="4.42" fill="#2f0000"/>
<rect x="327.47" y="100.28" width="3.40" height="4.42" fill="#860000"/>
<rect x="330.82" y="100.28" width="3.40" height="4.42" fill="#480000"/>
<rect x="334.17" y="100.28" width="3.40" height="4.42" fill="#0a0707"/>
<rect x="337.52" y="100.28" width="6.75" height="4.42" fill="#860000"/>
<rect x="344.21" y="100.28" width="3.40" height="4.42" fill="#260000"/>
<rect x="347.56" y="100.28" width="13.44" height="4.42" fill="#620000"/>
<rect x="360.96" y="100.28" width="3.40" height="4.42" fill="#0a0707"/>
<rect x="364.30" y="100.28" width="3.40" height="4.42" fill="#1c0303"/>
<rect x="367.65" y="100.28" width="6.75" height="4.42" fill="#aa0000"/>
<rect x="374.35" y="100.28" width="3.40" height="4.42" fill="#260000"/>
<rect x="377.70" y="100.28" width="3.40" height="4.42" fill="#2f0000"/>
<rect x="381.04" y="100.28" width="6.75" height="4.42" fill="#aa0000"/>
<rect x="387.74" y="100.28" width="3.40" height="4.42" fill="#260000"/>
<rect x="391.09" y="100.28" width="3.40" height="4.42" fill="#620000"/>
<rect x="394.44" y="100.28" width="20.14" height="4.42" fill="#2f0000"/>
<rect x="414.53" y="100.28" width="3.40" height="4.42" fill="#260000"/>
<rect x="417.88" y="100.28" width="13.44" height="4.42" fill="#2f0000"/>
<rect x="431.27" y="100.28" width="3.40" height="4.42" fill="#0a0707"/>
<rect x="434.62" y="100.28" width="6.75" height="4.42" fill="#002500"/>
<rect x="441.31" y="100.28" width="3.40" height="4.42" fill="#0a0707"/>
<rect x="444.66" y="100.28" width="6.75" height="4.42" fill="#2f0000"/>
<rect x="451.36" y="100.28" width="3.40" height="4.42" fill="#0a0707"/>
<rect x="454.71" y="100.28" width="13.44" height="4.42" fill="#2f0000"/>
<rect x="468.10" y="100.28" width="10.09" height="4.42" fill="#0a0707"/>
<rect x="478.14" y="100.28" width="3.40" height="4.42" fill="#2f0000"/>
<rect x="481.49" y="100.28" width="3.40" height="4.42" fill="#260000"/>
<rect x="484.84" y="100.28" width="3.40" height="4.42" fill="#0a0707"/>
<rect x="488.19" y="100.28" width="10.09" height="4.42" fill="#2f0000"/>
<rect x="498.23" y="100.28" width="3.40" height="4.42" fill="#ee0000"/>
<rect x="501.58" y="100.28" width="3.40" height="4.42" fill="#0a0707"/>
<rect x="504.93" y="100.28" width="3.40" height="4.42" fill="#002500"/>
<rect x="508.28" y="100.28" width="10.09" height="4.42" fill="#480000"/>
<rect x="518.32" y="100.28" width="3.40" height="4.42" fill="#2f0000"/>
<rect x="521.67" y="100.28" width="3.40" height="4.42" fill="#006e00"/>
<rect x="525.02" y="100.28" width="6.75" height="4.42" fill="#003900"/>
<rect x="531.72" y="100.28" width="3.40" height="4.42" fill="#2f0000"/>
<rect x="535.07" y="100.28" width="3.40" height="4.42" fill="#004e00"/>
<rect x="538.41" y="100.28" width="3.40" height="4.42" fill="#2f0000"/>
<rect x="541.76" y="100.28" width="3.40" height="4.42" fill="#0a0707"/>
<rect x="545.11" y="100.28" width="3.40" height="4.42" fill="#004e00"/>
<rect x="548.46" y="100.28" width="3.40" height="4.42" fill="#001e00"/>
<rect x="551.81" y="100.28" width="3.40" height="4.42" fill="#003900"/>
<rect x="555.16" y="100.28" width="6.75" height="4.42" fill="#00e800"/>
<rect x="561.85" y="100.28" width="3.40" height="4.42" fill="#001e00"/>
<rect x="273.90" y="104.65" width="3.40" height="4.42" fill="#0a0707"/>
<rect x="277.25" y="104.65" width="10.09" height="4.42" fill="#002500"/>
<rect x="287.29" y="104.65" width="6.75" height="4.42" fill="#0a0707"/>
<rect x="293.99" y="104.65" width="6.75" height="4.42" fill="#004e00"/>
<rect x="300.69" y="104.65" width="3.40" height="4.42" fill="#0a0707"/>
<rect x="304.03" y="104.65" width="3.40" height="4.42" fill="#2f0000"/>
<rect x="307.38" y="104.65" width="3.40" height="4.42" fill="#0a0707"/>
<rect x="310.73" y="104.65" width="6.75" height="4.42" fill="#2f0000"/>
<rect x="317.43" y="104.65" width="6.75" height="4.42" fill="#0a0707"/>
<rect x="324.12" y="104.65" width="10.09" height="4.42" fill="#2f0000"/>
<rect x="334.17" y="104.65" width="3.40" height="4.42" fill="#0a0707"/>
<rect x="337.52" y="104.65" width="6.75" height="4.42" fill="#aa0000"/>
<rect x="344.21" y="104.65" width="3.40" height="4.42" fill="#480000"/>
<rect x="347.56" y="104.65" width="10.09" height="4.42" fill="#620000"/>
<rect x="357.61" y="104.65" width="3.40" height="4.42" fill="#2f0000"/>
<rect x="360.96" y="104.65" width="6.75" height="4.42" fill="#1c0303"/>
<rect x="367.65" y="104.65" width="3.40" height="4.42" fill="#480000"/>
<rect x="371.00" y="104.65" width="3.40" height="4.42" fill="#620000"/>
<rect x="374.35" y="104.65" width="3.40" height="4.42" fill="#0a0707"/>
<rect x="377.70" y="104.65" width="3.40" height="4.42" fill="#2f0000"/>
<rect x="381.04" y="104.65" width="6.75" height="4.42" fill="#620000"/>
<rect x="387.74" y="104.65" width="3.40" height="4.42" fill="#260000"/>
<rect x="391.09" y="104.65" width="33.53" height="4.42" fill="#620000"/>
<rect x="424.57" y="104.65" width="6.75" height="4.42" fill="#2f0000"/>
<rect x="431.27" y="104.65" width="6.75" height="4.42" fill="#0a0707"/>
<rect x="437.97" y="104.65" width="3.40" height="4.42" fill="#2f0000"/>
<rect x="441.31" y="104.65" width="3.40" height="4.42" fill="#0a0707"/>
<rect x="444.66" y="104.65" width="3.40" height="4.42" fill="#2f0000"/>
<rect x="448.01" y="104.65" width="13.44" height="4.42" fill="#0a0707"/>
<rect x="461.40" y="104.65" width="6.75" height="4.42" fill="#2f0000"/>
<rect x="468.10" y="104.65" width="6.75" height="4.42" fill="#0a0707"/>
<rect x="474.80" y="104.65" width="3.40" height="4.42" fill="#002500"/>
<rect x="478.14" y="104.65" width="3.40" height="4.42" fill="#0a0707"/>
<rect x="481.49" y="104.65" width="3.40" height="4.42" fill="#2f0000"/>
<rect x="484.84" y="104.65" width="3.40" height="4.42" fill="#0a0707"/>
<rect x="488.19" y="104.65" width="13.44" height="4.42" fill="#2f0000"/>
<rect x="501.58" y="104.65" width="3.40" height="4.42" fill="#002500"/>
<rect x="504.93" y="104.65" width="3.40" height="4.42" fill="#004e00"/>
<rect x="508.28" y="104.65" width="3.40" height="4.42" fill="#0a0707"/>
<rect x="511.63" y="104.65" width="3.40" height="4.42" fill="#051603"/>
<rect x="514.98" y="104.65" width="3.40" height="4.42" fill="#002500"/>
<rect x="518.32" y="104.65" width="3.40" height="4.42" fill="#003900"/>
<rect x="521.67" y="104.65" width="3.40" height="4.42" fill="#006e00"/>
<rect x="525.02" y="104.65" width="6.75" height="4.42" fill="#003900"/>
<rect x="531.72" y="104.65" width="3.40" height="4.42" fill="#051603"/>
<rect x="535.07" y="104.65" width="3.40" height="4.42" fill="#004e00"/>
<rect x="538.41" y="104.65" width="6.75" height="4.42" fill="#002500"/>
<rect x="545.11" y="104.65" width="3.40" height="4.42" fill="#004e00"/>
<rect x="548.46" y="104.65" width="3.40" height="4.42" fill="#1c0303"/>
<rect x="551.81" y="104.65" width="3.40" height="4.42" fill="#003900"/>
<rect x="555.16" y="104.65" width="3.40" height="4.42" fill="#006e00"/>
<rect x="558.50" y="104.65" width="3.40" height="4.42" fill="#008e00"/>
<rect x="561.85" y="104.65" width="3.40" height="4.42" fill="#001e00"/>
<rect x="273.90" y="109.03" width="10.09" height="4.42" fill="#0a0707"/>
<rect x="283.94" y="109.03" width="3.40" height="4.42" fill="#620000"/>
<rect x="287.29" y="109.03" width="3.40" height="4.42" fill="#2f0000"/>
<rect x="290.64" y="109.03" width="6.75" height="4.42" fill="#0a0707"/>
<rect x="297.34" y="109.03" width="3.40" height="4.42" fill="#002500"/>
<rect x="300.69" y="109.03" width="3.40" height="4.42" fill="#0a0707"/>
<rect x="304.03" y="109.03" width="13.44" height="4.42" fill="#2f0000"/>
<rect x="317.43" y="109.03" width="3.40" height="4.42" fill="#051603"/>
<rect x="320.78" y="109.03" width="3.40" height="4.42" fill="#003900"/>
<rect x="324.12" y="109.03" width="3.40" height="4.42" fill="#0a0707"/>
<rect x="327.47" y="109.03" width="6.75" height="4.42" fill="#051603"/>
<rect x="334.17" y="109.03" width="6.75" height="4.42" fill="#004e00"/>
<rect x="340.87" y="109.03" width="3.40" height="4.42" fill="#003900"/>
<rect x="344.21" y="109.03" width="6.75" height="4.42" fill="#006e00"/>
<rect x="350.91" y="109.03" width="3.40" height="4.42" fill="#0a0707"/>
<rect x="354.26" y="109.03" width="3.40" height="4.42" fill="#260000"/>
<rect x="357.61" y="109.03" width="3.40" height="4.42" fill="#051603"/>
<rect x="360.96" y="109.03" width="3.40" height="4.42" fill="#002500"/>
<rect x="364.30" y="109.03" width="3.40" height="4.42" fill="#0a0707"/>
<rect x="367.65" y="109.03" width="6.75" height="4.42" fill="#004e00"/>
<rect x="374.35" y="109.03" width="6.75" height="4.42" fill="#0a0707"/>
<rect x="381.04" y="109.03" width="3.40" height="4.42" fill="#002500"/>
<rect x="384.39" y="109.03" width="3.40" height="4.42" fill="#0a0707"/>
<rect x="387.74" y="109.03" width="3.40" height="4.42" fill="#2f0000"/>
<rect x="391.09" y="109.03" width="6.75" height="4.42" fill="#0a0707"/>
<rect x="397.79" y="109.03" width="3.40" height="4.42" fill="#260000"/>
<rect x="401.13" y="109.03" width="3.40" height="4.42" fill="#2f0000"/>
<rect x="404.48" y="109.03" width="3.40" height="4.42" fill="#260000"/>
<rect x="407.83" y="109.03" width="10.09" height="4.42" fill="#0a0707"/>
<rect x="417.88" y="109.03" width="3.40" height="4.42" fill="#260000"/>
<rect x="421.22" y="109.03" width="3.40" height="4.42" fill="#0a0707"/>
<rect x="424.57" y="109.03" width="3.40" height="4.42" fill="#008e00"/>
<rect x="427.92" y="109.03" width="6.75" height="4.42" fill="#004e00"/>
<rect x="434.62" y="109.03" width="3.40" height="4.42" fill="#0a0707"/>
<rect x="437.97" y="109.03" width="3.40" height="4.42" fill="#2f0000"/>
<rect x="441.31" y="109.03" width="3.40" height="4.42" fill="#0a0707"/>
<rect x="444.66" y="109.03" width="3.40" height="4.42" fill="#002500"/>
<rect x="448.01" y="109.03" width="3.40" height="4.42" fill="#260000"/>
<rect x="451.36" y="109.03" width="13.44" height="4.42" fill="#0a0707"/>
<rect x="464.75" y="109.03" width="3.40" height="4.42" fill="#002500"/>
<rect x="468.10" y="109.03" width="3.40" height="4.42" fill="#0a0707"/>
<rect x="471.45" y="109.03" width="6.75" height="4.42" fill="#002500"/>
<rect x="478.14" y="109.03" width="3.40" height="4.42" fill="#008e00"/>
<rect x="481.49" y="109.03" width="3.40" height="4.42" fill="#0a0707"/>
<rect x="484.84" y="109.03" width="3.40" height="4.42" fill="#004e00"/>
<rect x="488.19" y="109.03" width="3.40" height="4.42" fill="#0a0707"/>
<rect x="491.54" y="109.03" width="10.09" height="4.42" fill="#2f0000"/>
<rect x="501.58" y="109.03" width="3.40" height="4.42" fill="#0a0707"/>
<rect x="504.93" y="109.03" width="3.40" height="4.42" fill="#006e00"/>
<rect x="508.28" y="109.03" width="10.09" height="4.42" fill="#003900"/>
<rect x="518.32" y="109.03" width="3.40" height="4.42" fill="#008e00"/>
<rect x="521.67" y="109.03" width="3.40" height="4.42" fill="#0a0707"/>
<rect x="525.02" y="109.03" width="10.09" height="4.42" fill="#480000"/>
<rect x="535.07" y="109.03" width="6.75" height="4.42" fill="#0a0707"/>
<rect x="541.76" y="109.03" width="3.40" height="4.42" fill="#051603"/>
<rect x="545.11" y="109.03" width="3.40" height="4.42" fill="#0a0707"/>
<rect x="548.46" y="109.03" width="6.75" height="4.42" fill="#003900"/>
<rect x="555.16" y="109.03" width="3.40" height="4.42" fill="#004e00"/>
<rect x="558.50" y="109.03" width="3.40" height="4.42" fill="#008e00"/>
<rect x="561.85" y="109.03" width="3.40" height="4.42" fill="#051603"/>
<rect x="273.90" y="113.40" width="3.40" height="4.42" fill="#0a0707"/>
<rect x="277.25" y="113.40" width="10.09" height="4.42" fill="#002500"/>
<rect x="287.29" y="113.40" width="10.09" height="4.42" fill="#0a0707"/>
<rect x="297.34" y="113.40" width="3.40" height="4.42" fill="#002500"/>
<rect x="300.69" y="113.40" width="3.40" height="4.42" fill="#0a0707"/>
<rect x="304.03" y="113.40" width="6.75" height="4.42" fill="#2f0000"/>
<rect x="310.73" y="113.40" width="6.75" height="4.42" fill="#0a0707"/>
<rect x="317.43" y="113.40" width="3.40" height="4.42" fill="#1c0303"/>
<rect x="320.78" y="113.40" width="13.44" height="4.42" fill="#2f0000"/>
<rect x="334.17" y="113.40" width="3.40" height="4.42" fill="#051603"/>
<rect x="337.52" y="113.40" width="6.75" height="4.42" fill="#001e00"/>
<rect x="344.21" y="113.40" width="3.40" height="4.42" fill="#002500"/>
<rect x="347.56" y="113.40" width="13.44" height="4.42" fill="#2f0000"/>
<rect x="360.96" y="113.40" width="6.75" height="4.42" fill="#0a0707"/>
<rect x="367.65" y="113.40" width="3.40" height="4.42" fill="#2f0000"/>
<rect x="371.00" y="113.40" width="6.75" height="4.42" fill="#0a0707"/>
<rect x="377.70" y="113.40" width="10.09" height="4.42" fill="#2f0000"/>
<rect x="387.74" y="113.40" width="13.44" height="4.42" fill="#0a0707"/>
<rect x="401.13" y="113.40" width="3.40" height="4.42" fill="#2f0000"/>
<rect x="404.48" y="113.40" width="16.79" height="4.42" fill="#0a0707"/>
<rect x="421.22" y="113.40" width="10.09" height="4.42" fill="#620000"/>
<rect x="431.27" y="113.40" width="13.44" height="4.42" fill="#0a0707"/>
<rect x="444.66" y="113.40" width="6.75" height="4.42" fill="#aa0000"/>
<rect x="451.36" y="113.40" width="3.40" height="4.42" fill="#620000"/>
<rect x="454.71" y="113.40" width="10.09" height="4.42" fill="#0a0707"/>
<rect x="464.75" y="113.40" width="3.40" height="4.42" fill="#2f0000"/>
<rect x="468.10" y="113.40" width="3.40" height="4.42" fill="#0a0707"/>
<rect x="471.45" y="113.40" width="13.44" height="4.42" fill="#2f0000"/>
<rect x="484.84" y="113.40" width="3.40" height="4.42" fill="#0a0707"/>
<rect x="488.19" y="113.40" width="6.75" height="4.42" fill="#2f0000"/>
<rect x="494.89" y="113.40" width="6.75" height="4.42" fill="#620000"/>
<rect x="501.58" y="113.40" width="3.40" height="4.42" fill="#0a0707"/>
<rect x="504.93" y="113.40" width="3.40" height="4.42" fill="#003900"/>
<rect x="508.28" y="113.40" width="3.40" height="4.42" fill="#001e00"/>
<rect x="511.63" y="113.40" width="3.40" height="4.42" fill="#620000"/>
<rect x="514.98" y="113.40" width="6.75" height="4.42" fill="#002500"/>
<rect x="521.67" y="113.40" width="3.40" height="4.42" fill="#0a0707"/>
<rect x="525.02" y="113.40" width="6.75" height="4.42" fill="#860000"/>
<rect x="531.72" y="113.40" width="3.40" height="4.42" fill="#2f0000"/>
<rect x="535.07" y="113.40" width="3.40" height="4.42" fill="#0a0707"/>
<rect x="538.41" y="113.40" width="3.40" height="4.42" fill="#2f0000"/>
<rect x="541.76" y="113.40" width="3.40" height="4.42" fill="#004e00"/>
<rect x="545.11" y="113.40" width="3.40" height="4.42" fill="#003900"/>
<rect x="548.46" y="113.40" width="3.40" height="4.42" fill="#2f0000"/>
<rect x="551.81" y="113.40" width="3.40" height="4.42" fill="#001e00"/>
<rect x="555.16" y="113.40" width="3.40" height="4.42" fill="#003900"/>
<rect x="558.50" y="113.40" width="3.40" height="4.42" fill="#00bb00"/>
<rect x="561.85" y="113.40" width="3.40" height="4.42" fill="#1c0303"/>
<rect x="273.90" y="117.78" width="3.40" height="4.42" fill="#002500"/>
<rect x="277.25" y="117.78" width="3.40" height="4.42" fill="#0a0707"/>
<rect x="280.60" y="117.78" width="3.40" height="4.42" fill="#002500"/>
<rect x="283.94" y="117.78" width="6.75" height="4.42" fill="#2f0000"/>
<rect x="290.64" y="117.78" width="3.40" height="4.42" fill="#0a0707"/>
<rect x="293.99" y="117.78" width="10.09" height="4.42" fill="#2f0000"/>
<rect x="304.03" y="117.78" width="10.09" height="4.42" fill="#0a0707"/>
<rect x="314.08" y="117.78" width="3.40" height="4.42" fill="#2f0000"/>
<rect x="317.43" y="117.78" width="3.40" height="4.42" fill="#860000"/>
<rect x="320.78" y="117.78" width="6.75" height="4.42" fill="#003400"/>
<rect x="327.47" y="117.78" width="6.75" height="4.42" fill="#0a0707"/>
<rect x="334.17" y="117.78" width="10.09" height="4.42" fill="#005200"/>
<rect x="344.21" y="117.78" width="6.75" height="4.42" fill="#003400"/>
<rect x="350.91" y="117.78" width="3.40" height="4.42" fill="#0a0707"/>
<rect x="354.26" y="117.78" width="3.40" height="4.42" fill="#003400"/>
<rect x="357.61" y="117.78" width="6.75" height="4.42" fill="#007000"/>
<rect x="364.30" y="117.78" width="3.40" height="4.42" fill="#005200"/>
<rect x="367.65" y="117.78" width="10.09" height="4.42" fill="#003400"/>
<rect x="377.70" y="117.78" width="3.40" height="4.42" fill="#0a0707"/>
<rect x="381.04" y="117.78" width="3.40" height="4.42" fill="#003400"/>
<rect x="384.39" y="117.78" width="3.40" height="4.42" fill="#0a0707"/>
<rect x="387.74" y="117.78" width="3.40" height="4.42" fill="#440000"/>
<rect x="391.09" y="117.78" width="3.40" height="4.42" fill="#0a0707"/>
<rect x="394.44" y="117.78" width="20.14" height="4.42" fill="#003400"/>
<rect x="414.53" y="117.78" width="3.40" height="4.42" fill="#0a0707"/>
<rect x="417.88" y="117.78" width="3.40" height="4.42" fill="#440000"/>
<rect x="421.22" y="117.78" width="16.79" height="4.42" fill="#003400"/>
<rect x="437.97" y="117.78" width="3.40" height="4.42" fill="#0a0707"/>
<rect x="441.31" y="117.78" width="3.40" height="4.42" fill="#260000"/>
<rect x="444.66" y="117.78" width="6.75" height="4.42" fill="#7c0000"/>
<rect x="451.36" y="117.78" width="3.40" height="4.42" fill="#440000"/>
<rect x="454.71" y="117.78" width="3.40" height="4.42" fill="#0a0707"/>
<rect x="458.06" y="117.78" width="13.44" height="4.42" fill="#440000"/>
<rect x="471.45" y="117.78" width="10.09" height="4.42" fill="#0a0707"/>
<rect x="481.49" y="117.78" width="3.40" height="4.42" fill="#003400"/>
<rect x="484.84" y="117.78" width="3.40" height="4.42" fill="#007000"/>
<rect x="488.19" y="117.78" width="3.40" height="4.42" fill="#0a0707"/>
<rect x="491.54" y="117.78" width="3.40" height="4.42" fill="#440000"/>
<rect x="494.89" y="117.78" width="3.40" height="4.42" fill="#0a0707"/>
<rect x="498.23" y="117.78" width="3.40" height="4.42" fill="#00b000"/>
<rect x="501.58" y="117.78" width="3.40" height="4.42" fill="#001e00"/>
<rect x="504.93" y="117.78" width="3.40" height="4.42" fill="#009000"/>
<rect x="508.28" y="117.78" width="6.75" height="4.42" fill="#007000"/>
<rect x="514.98" y="117.78" width="3.40" height="4.42" fill="#009000"/>
<rect x="518.32" y="117.78" width="3.40" height="4.42" fill="#00b000"/>
<rect x="521.67" y="117.78" width="3.40" height="4.42" fill="#0a0707"/>
<rect x="525.02" y="117.78" width="6.75" height="4.42" fill="#440000"/>
<rect x="531.72" y="117.78" width="3.40" height="4.42" fill="#0a0707"/>
<rect x="535.07" y="117.78" width="6.75" height="4.42" fill="#003400"/>
<rect x="541.76" y="117.78" width="3.40" height="4.42" fill="#007000"/>
<rect x="545.11" y="117.78" width="3.40" height="4.42" fill="#00b000"/>
<rect x="548.46" y="117.78" width="3.40" height="4.42" fill="#009000"/>
<rect x="551.81" y="117.78" width="3.40" height="4.42" fill="#003400"/>
<rect x="555.16" y="117.78" width="3.40" height="4.42" fill="#440000"/>
<rect x="558.50" y="117.78" width="3.40" height="4.42" fill="#007000"/>
<rect x="561.85" y="117.78" width="3.40" height="4.42" fill="#7c0000"/>
<rect x="273.90" y="122.15" width="16.79" height="4.42" fill="#2f0000"/>
<rect x="290.64" y="122.15" width="3.40" height="4.42" fill="#0a0707"/>
<rect x="293.99" y="122.15" width="10.09" height="4.42" fill="#2f0000"/>
<rect x="304.03" y="122.15" width="3.40" height="4.42" fill="#260000"/>
<rect x="307.38" y="122.15" width="3.40" height="4.42" fill="#2f0000"/>
<rect x="310.73" y="122.15" width="3.40" height="4.42" fill="#0a0707"/>
<rect x="314.08" y="122.15" width="6.75" height="4.42" fill="#2f0000"/>
<rect x="320.78" y="122.15" width="3.40" height="4.42" fill="#0a0707"/>
<rect x="324.12" y="122.15" width="6.75" height="4.42" fill="#003400"/>
<rect x="330.82" y="122.15" width="3.40" height="4.42" fill="#001e00"/>
<rect x="334.17" y="122.15" width="13.44" height="4.42" fill="#003400"/>
<rect x="347.56" y="122.15" width="3.40" height="4.42" fill="#001e00"/>
<rect x="350.91" y="122.15" width="13.44" height="4.42" fill="#003400"/>
<rect x="364.30" y="122.15" width="10.09" height="4.42" fill="#001e00"/>
<rect x="374.35" y="122.15" width="6.75" height="4.42" fill="#007000"/>
<rect x="381.04" y="122.15" width="3.40" height="4.42" fill="#003400"/>
<rect x="384.39" y="122.15" width="3.40" height="4.42" fill="#0a0707"/>
<rect x="387.74" y="122.15" width="3.40" height="4.42" fill="#440000"/>
<rect x="391.09" y="122.15" width="3.40" height="4.42" fill="#0a0707"/>
<rect x="394.44" y="122.15" width="23.49" height="4.42" fill="#003400"/>
<rect x="417.88" y="122.15" width="3.40" height="4.42" fill="#0a0707"/>
<rect x="421.22" y="122.15" width="16.79" height="4.42" fill="#003400"/>
<rect x="437.97" y="122.15" width="3.40" height="4.42" fill="#7c0000"/>
<rect x="441.31" y="122.15" width="3.40" height="4.42" fill="#0a0707"/>
<rect x="444.66" y="122.15" width="10.09" height="4.42" fill="#440000"/>
<rect x="454.71" y="122.15" width="3.40" height="4.42" fill="#0a0707"/>
<rect x="458.06" y="122.15" width="3.40" height="4.42" fill="#440000"/>
<rect x="461.40" y="122.15" width="6.75" height="4.42" fill="#003400"/>
<rect x="468.10" y="122.15" width="6.75" height="4.42" fill="#440000"/>
<rect x="474.80" y="122.15" width="3.40" height="4.42" fill="#0a0707"/>
<rect x="478.14" y="122.15" width="6.75" height="4.42" fill="#003400"/>
<rect x="484.84" y="122.15" width="3.40" height="4.42" fill="#007000"/>
<rect x="488.19" y="122.15" width="3.40" height="4.42" fill="#0a0707"/>
<rect x="491.54" y="122.15" width="6.75" height="4.42" fill="#440000"/>
<rect x="498.23" y="122.15" width="3.40" height="4.42" fill="#003400"/>
<rect x="501.58" y="122.15" width="3.40" height="4.42" fill="#001e00"/>
<rect x="504.93" y="122.15" width="16.79" height="4.42" fill="#007000"/>
<rect x="521.67" y="122.15" width="10.09" height="4.42" fill="#b40000"/>
<rect x="531.72" y="122.15" width="3.40" height="4.42" fill="#0a0707"/>
<rect x="535.07" y="122.15" width="16.79" height="4.42" fill="#003400"/>
<rect x="551.81" y="122.15" width="3.40" height="4.42" fill="#0a0707"/>
<rect x="555.16" y="122.15" width="6.75" height="4.42" fill="#f00000"/>
<rect x="561.85" y="122.15" width="3.40" height="4.42" fill="#440000"/>
<rect x="273.90" y="126.53" width="3.40" height="4.42" fill="#0a0707"/>
<rect x="277.25" y="126.53" width="13.44" height="4.42" fill="#2f0000"/>
<rect x="290.64" y="126.53" width="3.40" height="4.42" fill="#0a0707"/>
<rect x="293.99" y="126.53" width="3.40" height="4.42" fill="#004e00"/>
<rect x="297.34" y="126.53" width="10.09" height="4.42" fill="#620000"/>
<rect x="307.38" y="126.53" width="6.75" height="4.42" fill="#2f0000"/>
<rect x="314.08" y="126.53" width="6.75" height="4.42" fill="#620000"/>
<rect x="320.78" y="126.53" width="3.40" height="4.42" fill="#00cf00"/>
<rect x="324.12" y="126.53" width="10.09" height="4.42" fill="#00b000"/>
<rect x="334.17" y="126.53" width="6.75" height="4.42" fill="#00ee00"/>
<rect x="340.87" y="126.53" width="3.40" height="4.42" fill="#00cf00"/>
<rect x="344.21" y="126.53" width="6.75" height="4.42" fill="#00b000"/>
<rect x="350.91" y="126.53" width="6.75" height="4.42" fill="#00cf00"/>
<rect x="357.61" y="126.53" width="3.40" height="4.42" fill="#00b000"/>
<rect x="360.96" y="126.53" width="3.40" height="4.42" fill="#00ee00"/>
<rect x="364.30" y="126.53" width="6.75" height="4.42" fill="#003400"/>
<rect x="371.00" y="126.53" width="6.75" height="4.42" fill="#007000"/>
<rect x="377.70" y="126.53" width="3.40" height="4.42" fill="#005200"/>
<rect x="381.04" y="126.53" width="3.40" height="4.42" fill="#007000"/>
<rect x="384.39" y="126.53" width="3.40" height="4.42" fill="#005200"/>
<rect x="387.74" y="126.53" width="3.40" height="4.42" fill="#003400"/>
<rect x="391.09" y="126.53" width="3.40" height="4.42" fill="#440000"/>
<rect x="394.44" y="126.53" width="6.75" height="4.42" fill="#00ee00"/>
<rect x="401.13" y="126.53" width="6.75" height="4.42" fill="#00cf00"/>
<rect x="407.83" y="126.53" width="6.75" height="4.42" fill="#00b000"/>
<rect x="414.53" y="126.53" width="3.40" height="4.42" fill="#005200"/>
<rect x="417.88" y="126.53" width="3.40" height="4.42" fill="#001e00"/>
<rect x="421.22" y="126.53" width="6.75" height="4.42" fill="#00cf00"/>
<rect x="427.92" y="126.53" width="3.40" height="4.42" fill="#00b000"/>
<rect x="431.27" y="126.53" width="3.40" height="4.42" fill="#00cf00"/>
<rect x="434.62" y="126.53" width="6.75" height="4.42" fill="#007000"/>
<rect x="441.31" y="126.53" width="3.40" height="4.42" fill="#00b000"/>
<rect x="444.66" y="126.53" width="10.09" height="4.42" fill="#005200"/>
<rect x="454.71" y="126.53" width="3.40" height="4.42" fill="#00b000"/>
<rect x="458.06" y="126.53" width="6.75" height="4.42" fill="#007000"/>
<rect x="464.75" y="126.53" width="3.40" height="4.42" fill="#009000"/>
<rect x="468.10" y="126.53" width="6.75" height="4.42" fill="#007000"/>
<rect x="474.80" y="126.53" width="3.40" height="4.42" fill="#003400"/>
<rect x="478.14" y="126.53" width="3.40" height="4.42" fill="#00b000"/>
<rect x="481.49" y="126.53" width="3.40" height="4.42" fill="#440000"/>
<rect x="484.84" y="126.53" width="3.40" height="4.42" fill="#005200"/>
<rect x="488.19" y="126.53" width="3.40" height="4.42" fill="#0a0707"/>
<rect x="491.54" y="126.53" width="3.40" height="4.42" fill="#440000"/>
<rect x="494.89" y="126.53" width="3.40" height="4.42" fill="#7c0000"/>
<rect x="498.23" y="126.53" width="3.40" height="4.42" fill="#0a0707"/>
<rect x="501.58" y="126.53" width="3.40" height="4.42" fill="#001e00"/>
<rect x="504.93" y="126.53" width="10.09" height="4.42" fill="#007000"/>
<rect x="514.98" y="126.53" width="3.40" height="4.42" fill="#00b000"/>
<rect x="518.32" y="126.53" width="3.40" height="4.42" fill="#007000"/>
<rect x="521.67" y="126.53" width="10.09" height="4.42" fill="#00cf00"/>
<rect x="531.72" y="126.53" width="3.40" height="4.42" fill="#003400"/>
<rect x="535.07" y="126.53" width="3.40" height="4.42" fill="#007000"/>
<rect x="538.41" y="126.53" width="3.40" height="4.42" fill="#00b000"/>
<rect x="541.76" y="126.53" width="3.40" height="4.42" fill="#00cf00"/>
<rect x="545.11" y="126.53" width="3.40" height="4.42" fill="#00ee00"/>
<rect x="548.46" y="126.53" width="3.40" height="4.42" fill="#005200"/>
<rect x="551.81" y="126.53" width="3.40" height="4.42" fill="#007000"/>
<rect x="555.16" y="126.53" width="6.75" height="4.42" fill="#f00000"/>
<rect x="561.85" y="126.53" width="3.40" height="4.42" fill="#440000"/>
<rect x="273.90" y="130.90" width="3.40" height="4.42" fill="#002500"/>
<rect x="277.25" y="130.90" width="10.09" height="4.42" fill="#0a0707"/>
<rect x="287.29" y="130.90" width="3.40" height="4.42" fill="#260000"/>
<rect x="290.64" y="130.90" width="3.40" height="4.42" fill="#620000"/>
<rect x="293.99" y="130.90" width="3.40" height="4.42" fill="#0a0707"/>
<rect x="297.34" y="130.90" width="6.75" height="4.42" fill="#260000"/>
<rect x="304.03" y="130.90" width="3.40" height="4.42" fill="#002500"/>
<rect x="307.38" y="130.90" width="3.40" height="4.42" fill="#0a0707"/>
<rect x="310.73" y="130.90" width="10.09" height="4.42" fill="#2f0000"/>
<rect x="320.78" y="130.90" width="6.75" height="4.42" fill="#007000"/>
<rect x="327.47" y="130.90" width="3.40" height="4.42" fill="#001e00"/>
<rect x="330.82" y="130.90" width="3.40" height="4.42" fill="#007000"/>
<rect x="334.17" y="130.90" width="6.75" height="4.42" fill="#009000"/>
<rect x="340.87" y="130.90" width="10.09" height="4.42" fill="#007000"/>
<rect x="350.91" y="130.90" width="10.09" height="4.42" fill="#009000"/>
<rect x="360.96" y="130.90" width="3.40" height="4.42" fill="#00cf00"/>
<rect x="364.30" y="130.90" width="3.40" height="4.42" fill="#001e00"/>
<rect x="367.65" y="130.90" width="3.40" height="4.42" fill="#003400"/>
<rect x="371.00" y="130.90" width="6.75" height="4.42" fill="#007000"/>
<rect x="377.70" y="130.90" width="3.40" height="4.42" fill="#003400"/>
<rect x="381.04" y="130.90" width="3.40" height="4.42" fill="#007000"/>
<rect x="384.39" y="130.90" width="3.40" height="4.42" fill="#005200"/>
<rect x="387.74" y="130.90" width="3.40" height="4.42" fill="#003400"/>
<rect x="391.09" y="130.90" width="3.40" height="4.42" fill="#440000"/>
<rect x="394.44" y="130.90" width="3.40" height="4.42" fill="#00cf00"/>
<rect x="397.79" y="130.90" width="6.75" height="4.42" fill="#00b000"/>
<rect x="404.48" y="130.90" width="10.09" height="4.42" fill="#009000"/>
<rect x="414.53" y="130.90" width="3.40" height="4.42" fill="#005200"/>
<rect x="417.88" y="130.90" width="3.40" height="4.42" fill="#001e00"/>
<rect x="421.22" y="130.90" width="6.75" height="4.42" fill="#00b000"/>
<rect x="427.92" y="130.90" width="6.75" height="4.42" fill="#009000"/>
<rect x="434.62" y="130.90" width="6.75" height="4.42" fill="#005200"/>
<rect x="441.31" y="130.90" width="3.40" height="4.42" fill="#007000"/>
<rect x="444.66" y="130.90" width="3.40" height="4.42" fill="#005200"/>
<rect x="448.01" y="130.90" width="3.40" height="4.42" fill="#003400"/>
<rect x="451.36" y="130.90" width="3.40" height="4.42" fill="#005200"/>
<rect x="454.71" y="130.90" width="3.40" height="4.42" fill="#007000"/>
<rect x="458.06" y="130.90" width="6.75" height="4.42" fill="#005200"/>
<rect x="464.75" y="130.90" width="3.40" height="4.42" fill="#007000"/>
<rect x="468.10" y="130.90" width="6.75" height="4.42" fill="#005200"/>
<rect x="474.80" y="130.90" width="3.40" height="4.42" fill="#003400"/>
<rect x="478.14" y="130.90" width="3.40" height="4.42" fill="#005200"/>
<rect x="481.49" y="130.90" width="3.40" height="4.42" fill="#b40000"/>
<rect x="484.84" y="130.90" width="3.40" height="4.42" fill="#005200"/>
<rect x="488.19" y="130.90" width="3.40" height="4.42" fill="#0a0707"/>
<rect x="491.54" y="130.90" width="3.40" height="4.42" fill="#440000"/>
<rect x="494.89" y="130.90" width="3.40" height="4.42" fill="#7c0000"/>
<rect x="498.23" y="130.90" width="3.40" height="4.42" fill="#003400"/>
<rect x="501.58" y="130.90" width="3.40" height="4.42" fill="#0a0707"/>
<rect x="504.93" y="130.90" width="10.09" height="4.42" fill="#007000"/>
<rect x="514.98" y="130.90" width="6.75" height="4.42" fill="#005200"/>
<rect x="521.67" y="130.90" width="10.09" height="4.42" fill="#007000"/>
<rect x="531.72" y="130.90" width="3.40" height="4.42" fill="#003400"/>
<rect x="535.07" y="130.90" width="3.40" height="4.42" fill="#005200"/>
<rect x="538.41" y="130.90" width="10.09" height="4.42" fill="#007000"/>
<rect x="548.46" y="130.90" width="10.09" height="4.42" fill="#005200"/>
<rect x="558.50" y="130.90" width="3.40" height="4.42" fill="#003400"/>
<rect x="561.85" y="130.90" width="3.40" height="4.42" fill="#260000"/>
<rect x="273.90" y="135.28" width="3.40" height="4.42" fill="#002500"/>
<rect x="277.25" y="135.28" width="6.75" height="4.42" fill="#0a0707"/>
<rect x="283.94" y="135.28" width="6.75" height="4.42" fill="#620000"/>
<rect x="290.64" y="135.28" width="3.40" height="4.42" fill="#2f0000"/>
<rect x="293.99" y="135.28" width="10.09" height="4.42" fill="#620000"/>
<rect x="304.03" y="135.28" width="16.79" height="4.42" fill="#2f0000"/>
<rect x="320.78" y="135.28" width="3.40" height="4.42" fill="#007000"/>
<rect x="324.12" y="135.28" width="10.09" height="4.42" fill="#005200"/>
<rect x="334.17" y="135.28" width="3.40" height="4.42" fill="#007000"/>
<rect x="337.52" y="135.28" width="10.09" height="4.42" fill="#003400"/>
<rect x="347.56" y="135.28" width="10.09" height="4.42" fill="#005200"/>
<rect x="357.61" y="135.28" width="3.40" height="4.42" fill="#007000"/>
<rect x="360.96" y="135.28" width="3.40" height="4.42" fill="#00cf00"/>
<rect x="364.30" y="135.28" width="6.75" height="4.42" fill="#001e00"/>
<rect x="371.00" y="135.28" width="3.40" height="4.42" fill="#440000"/>
<rect x="374.35" y="135.28" width="6.75" height="4.42" fill="#003400"/>
<rect x="381.04" y="135.28" width="3.40" height="4.42" fill="#005200"/>
<rect x="384.39" y="135.28" width="3.40" height="4.42" fill="#003400"/>
<rect x="387.74" y="135.28" width="3.40" height="4.42" fill="#005200"/>
<rect x="391.09" y="135.28" width="3.40" height="4.42" fill="#001e00"/>
<rect x="394.44" y="135.28" width="20.14" height="4.42" fill="#003400"/>
<rect x="414.53" y="135.28" width="3.40" height="4.42" fill="#001e00"/>
<rect x="417.88" y="135.28" width="3.40" height="4.42" fill="#7c0000"/>
<rect x="421.22" y="135.28" width="6.75" height="4.42" fill="#001e00"/>
<rect x="427.92" y="135.28" width="6.75" height="4.42" fill="#005200"/>
<rect x="434.62" y="135.28" width="3.40" height="4.42" fill="#440000"/>
<rect x="437.97" y="135.28" width="6.75" height="4.42" fill="#003400"/>
<rect x="444.66" y="135.28" width="3.40" height="4.42" fill="#440000"/>
<rect x="448.01" y="135.28" width="3.40" height="4.42" fill="#0a0707"/>
<rect x="451.36" y="135.28" width="3.40" height="4.42" fill="#440000"/>
<rect x="454.71" y="135.28" width="10.09" height="4.42" fill="#003400"/>
<rect x="464.75" y="135.28" width="6.75" height="4.42" fill="#7c0000"/>
<rect x="471.45" y="135.28" width="6.75" height="4.42" fill="#440000"/>
<rect x="478.14" y="135.28" width="3.40" height="4.42" fill="#0a0707"/>
<rect x="481.49" y="135.28" width="3.40" height="4.42" fill="#440000"/>
<rect x="484.84" y="135.28" width="3.40" height="4.42" fill="#003400"/>
<rect x="488.19" y="135.28" width="3.40" height="4.42" fill="#0a0707"/>
<rect x="491.54" y="135.28" width="6.75" height="4.42" fill="#440000"/>
<rect x="498.23" y="135.28" width="3.40" height="4.42" fill="#7c0000"/>
<rect x="501.58" y="135.28" width="3.40" height="4.42" fill="#001e00"/>
<rect x="504.93" y="135.28" width="3.40" height="4.42" fill="#00b000"/>
<rect x="508.28" y="135.28" width="10.09" height="4.42" fill="#009000"/>
<rect x="518.32" y="135.28" width="13.44" height="4.42" fill="#007000"/>
<rect x="531.72" y="135.28" width="3.40" height="4.42" fill="#0a0707"/>
<rect x="535.07" y="135.28" width="3.40" height="4.42" fill="#440000"/>
<rect x="538.41" y="135.28" width="6.75" height="4.42" fill="#003400"/>
<rect x="545.11" y="135.28" width="3.40" height="4.42" fill="#005200"/>
<rect x="548.46" y="135.28" width="3.40" height="4.42" fill="#003400"/>
<rect x="551.81" y="135.28" width="3.40" height="4.42" fill="#440000"/>
<rect x="555.16" y="135.28" width="3.40" height="4.42" fill="#001e00"/>
<rect x="558.50" y="135.28" width="6.75" height="4.42" fill="#440000"/>
<rect x="273.90" y="139.65" width="13.44" height="4.42" fill="#002500"/>
<rect x="287.29" y="139.65" width="13.44" height="4.42" fill="#0a0707"/>
<rect x="300.69" y="139.65" width="10.09" height="4.42" fill="#2f0000"/>
<rect x="310.73" y="139.65" width="3.40" height="4.42" fill="#260000"/>
<rect x="314.08" y="139.65" width="6.75" height="4.42" fill="#2f0000"/>
<rect x="320.78" y="139.65" width="3.40" height="4.42" fill="#00cf00"/>
<rect x="324.12" y="139.65" width="10.09" height="4.42" fill="#009000"/>
<rect x="334.17" y="139.65" width="3.40" height="4.42" fill="#00b000"/>
<rect x="337.52" y="139.65" width="3.40" height="4.42" fill="#00cf00"/>
<rect x="340.87" y="139.65" width="3.40" height="4.42" fill="#00ee00"/>
<rect x="344.21" y="139.65" width="16.79" height="4.42" fill="#00b000"/>
<rect x="360.96" y="139.65" width="3.40" height="4.42" fill="#00ee00"/>
<rect x="364.30" y="139.65" width="3.40" height="4.42" fill="#003400"/>
<rect x="367.65" y="139.65" width="6.75" height="4.42" fill="#00cf00"/>
<rect x="374.35" y="139.65" width="3.40" height="4.42" fill="#009000"/>
<rect x="377.70" y="139.65" width="3.40" height="4.42" fill="#007000"/>
<rect x="381.04" y="139.65" width="3.40" height="4.42" fill="#009000"/>
<rect x="384.39" y="139.65" width="3.40" height="4.42" fill="#007000"/>
<rect x="387.74" y="139.65" width="3.40" height="4.42" fill="#005200"/>
<rect x="391.09" y="139.65" width="3.40" height="4.42" fill="#001e00"/>
<rect x="394.44" y="139.65" width="6.75" height="4.42" fill="#00cf00"/>
<rect x="401.13" y="139.65" width="13.44" height="4.42" fill="#00b000"/>
<rect x="414.53" y="139.65" width="3.40" height="4.42" fill="#005200"/>
<rect x="417.88" y="139.65" width="3.40" height="4.42" fill="#0a0707"/>
<rect x="421.22" y="139.65" width="6.75" height="4.42" fill="#007000"/>
<rect x="427.92" y="139.65" width="6.75" height="4.42" fill="#00b000"/>
<rect x="434.62" y="139.65" width="13.44" height="4.42" fill="#005200"/>
<rect x="448.01" y="139.65" width="3.40" height="4.42" fill="#003400"/>
<rect x="451.36" y="139.65" width="3.40" height="4.42" fill="#005200"/>
<rect x="454.71" y="139.65" width="3.40" height="4.42" fill="#007000"/>
<rect x="458.06" y="139.65" width="3.40" height="4.42" fill="#003400"/>
<rect x="461.40" y="139.65" width="3.40" height="4.42" fill="#005200"/>
<rect x="464.75" y="139.65" width="3.40" height="4.42" fill="#007000"/>
<rect x="468.10" y="139.65" width="3.40" height="4.42" fill="#440000"/>
<rect x="471.45" y="139.65" width="6.75" height="4.42" fill="#003400"/>
<rect x="478.14" y="139.65" width="3.40" height="4.42" fill="#005200"/>
<rect x="481.49" y="139.65" width="3.40" height="4.42" fill="#440000"/>
<rect x="484.84" y="139.65" width="3.40" height="4.42" fill="#003400"/>
<rect x="488.19" y="139.65" width="3.40" height="4.42" fill="#0a0707"/>
<rect x="491.54" y="139.65" width="3.40" height="4.42" fill="#440000"/>
<rect x="494.89" y="139.65" width="3.40" height="4.42" fill="#0a0707"/>
<rect x="498.23" y="139.65" width="3.40" height="4.42" fill="#009000"/>
<rect x="501.58" y="139.65" width="3.40" height="4.42" fill="#003400"/>
<rect x="504.93" y="139.65" width="6.75" height="4.42" fill="#009000"/>
<rect x="511.63" y="139.65" width="3.40" height="4.42" fill="#007000"/>
<rect x="514.98" y="139.65" width="3.40" height="4.42" fill="#009000"/>
<rect x="518.32" y="139.65" width="3.40" height="4.42" fill="#001e00"/>
<rect x="521.67" y="139.65" width="3.40" height="4.42" fill="#005200"/>
<rect x="525.02" y="139.65" width="3.40" height="4.42" fill="#003400"/>
<rect x="528.37" y="139.65" width="3.40" height="4.42" fill="#007000"/>
<rect x="531.72" y="139.65" width="3.40" height="4.42" fill="#0a0707"/>
<rect x="535.07" y="139.65" width="3.40" height="4.42" fill="#440000"/>
<rect x="538.41" y="139.65" width="3.40" height="4.42" fill="#007000"/>
<rect x="541.76" y="139.65" width="3.40" height="4.42" fill="#001e00"/>
<rect x="545.11" y="139.65" width="3.40" height="4.42" fill="#009000"/>
<rect x="548.46" y="139.65" width="3.40" height="4.42" fill="#007000"/>
<rect x="551.81" y="139.65" width="3.40" height="4.42" fill="#005200"/>
<rect x="555.16" y="139.65" width="3.40" height="4.42" fill="#007000"/>
<rect x="558.50" y="139.65" width="3.40" height="4.42" fill="#00cf00"/>
<rect x="561.85" y="139.65" width="3.40" height="4.42" fill="#b40000"/>
<rect x="273.90" y="144.03" width="3.40" height="4.42" fill="#0a0707"/>
<rect x="277.25" y="144.03" width="3.40" height="4.42" fill="#2f0000"/>
<rect x="280.60" y="144.03" width="6.75" height="4.42" fill="#0a0707"/>
<rect x="287.29" y="144.03" width="3.40" height="4.42" fill="#002500"/>
<rect x="290.64" y="144.03" width="3.40" height="4.42" fill="#0a0707"/>
<rect x="293.99" y="144.03" width="3.40" height="4.42" fill="#002500"/>
<rect x="297.34" y="144.03" width="3.40" height="4.42" fill="#0a0707"/>
<rect x="300.69" y="144.03" width="10.09" height="4.42" fill="#2f0000"/>
<rect x="310.73" y="144.03" width="3.40" height="4.42" fill="#0a0707"/>
<rect x="314.08" y="144.03" width="6.75" height="4.42" fill="#620000"/>
<rect x="320.78" y="144.03" width="13.44" height="4.42" fill="#007000"/>
<rect x="334.17" y="144.03" width="10.09" height="4.42" fill="#009000"/>
<rect x="344.21" y="144.03" width="16.79" height="4.42" fill="#007000"/>
<rect x="360.96" y="144.03" width="3.40" height="4.42" fill="#00cf00"/>
<rect x="364.30" y="144.03" width="3.40" height="4.42" fill="#001e00"/>
<rect x="367.65" y="144.03" width="3.40" height="4.42" fill="#00b000"/>
<rect x="371.00" y="144.03" width="3.40" height="4.42" fill="#00cf00"/>
<rect x="374.35" y="144.03" width="3.40" height="4.42" fill="#007000"/>
<rect x="377.70" y="144.03" width="3.40" height="4.42" fill="#005200"/>
<rect x="381.04" y="144.03" width="6.75" height="4.42" fill="#007000"/>
<rect x="387.74" y="144.03" width="3.40" height="4.42" fill="#005200"/>
<rect x="391.09" y="144.03" width="3.40" height="4.42" fill="#001e00"/>
<rect x="394.44" y="144.03" width="20.14" height="4.42" fill="#00b000"/>
<rect x="414.53" y="144.03" width="3.40" height="4.42" fill="#005200"/>
<rect x="417.88" y="144.03" width="3.40" height="4.42" fill="#0a0707"/>
<rect x="421.22" y="144.03" width="6.75" height="4.42" fill="#005200"/>
<rect x="427.92" y="144.03" width="6.75" height="4.42" fill="#007000"/>
<rect x="434.62" y="144.03" width="3.40" height="4.42" fill="#003400"/>
<rect x="437.97" y="144.03" width="6.75" height="4.42" fill="#009000"/>
<rect x="444.66" y="144.03" width="10.09" height="4.42" fill="#007000"/>
<rect x="454.71" y="144.03" width="3.40" height="4.42" fill="#009000"/>
<rect x="458.06" y="144.03" width="6.75" height="4.42" fill="#007000"/>
<rect x="464.75" y="144.03" width="3.40" height="4.42" fill="#003400"/>
<rect x="468.10" y="144.03" width="6.75" height="4.42" fill="#007000"/>
<rect x="474.80" y="144.03" width="3.40" height="4.42" fill="#005200"/>
<rect x="478.14" y="144.03" width="3.40" height="4.42" fill="#00b000"/>
<rect x="481.49" y="144.03" width="6.75" height="4.42" fill="#005200"/>
<rect x="488.19" y="144.03" width="10.09" height="4.42" fill="#0a0707"/>
<rect x="498.23" y="144.03" width="3.40" height="4.42" fill="#007000"/>
<rect x="501.58" y="144.03" width="3.40" height="4.42" fill="#003400"/>
<rect x="504.93" y="144.03" width="6.75" height="4.42" fill="#009000"/>
<rect x="511.63" y="144.03" width="6.75" height="4.42" fill="#005200"/>
<rect x="518.32" y="144.03" width="6.75" height="4.42" fill="#003400"/>
<rect x="525.02" y="144.03" width="6.75" height="4.42" fill="#440000"/>
<rect x="531.72" y="144.03" width="6.75" height="4.42" fill="#0a0707"/>
<rect x="538.41" y="144.03" width="3.40" height="4.42" fill="#003400"/>
<rect x="541.76" y="144.03" width="3.40" height="4.42" fill="#00cf00"/>
<rect x="545.11" y="144.03" width="3.40" height="4.42" fill="#00b000"/>
<rect x="548.46" y="144.03" width="3.40" height="4.42" fill="#003400"/>
<rect x="551.81" y="144.03" width="3.40" height="4.42" fill="#007000"/>
<rect x="555.16" y="144.03" width="3.40" height="4.42" fill="#00cf00"/>
<rect x="558.50" y="144.03" width="3.40" height="4.42" fill="#00ee00"/>
<rect x="561.85" y="144.03" width="3.40" height="4.42" fill="#440000"/>
<rect x="273.90" y="148.40" width="3.40" height="4.42" fill="#0a0707"/>
<rect x="277.25" y="148.40" width="26.84" height="4.42" fill="#2f0000"/>
<rect x="304.03" y="148.40" width="10.09" height="4.42" fill="#0a0707"/>
<rect x="314.08" y="148.40" width="6.75" height="4.42" fill="#620000"/>
<rect x="320.78" y="148.40" width="3.40" height="4.42" fill="#003400"/>
<rect x="324.12" y="148.40" width="3.40" height="4.42" fill="#001e00"/>
<rect x="327.47" y="148.40" width="3.40" height="4.42" fill="#0a0707"/>
<rect x="330.82" y="148.40" width="6.75" height="4.42" fill="#003400"/>
<rect x="337.52" y="148.40" width="3.40" height="4.42" fill="#001e00"/>
<rect x="340.87" y="148.40" width="10.09" height="4.42" fill="#003400"/>
<rect x="350.91" y="148.40" width="3.40" height="4.42" fill="#001e00"/>
<rect x="354.26" y="148.40" width="13.44" height="4.42" fill="#003400"/>
<rect x="367.65" y="148.40" width="3.40" height="4.42" fill="#0a0707"/>
<rect x="371.00" y="148.40" width="3.40" height="4.42" fill="#7c0000"/>
<rect x="374.35" y="148.40" width="6.75" height="4.42" fill="#0a0707"/>
<rect x="381.04" y="148.40" width="3.40" height="4.42" fill="#440000"/>
<rect x="384.39" y="148.40" width="3.40" height="4.42" fill="#0a0707"/>
<rect x="387.74" y="148.40" width="3.40" height="4.42" fill="#440000"/>
<rect x="391.09" y="148.40" width="3.40" height="4.42" fill="#0a0707"/>
<rect x="394.44" y="148.40" width="20.14" height="4.42" fill="#003400"/>
<rect x="414.53" y="148.40" width="3.40" height="4.42" fill="#001e00"/>
<rect x="417.88" y="148.40" width="10.09" height="4.42" fill="#0a0707"/>
<rect x="427.92" y="148.40" width="3.40" height="4.42" fill="#440000"/>
<rect x="431.27" y="148.40" width="3.40" height="4.42" fill="#003400"/>
<rect x="434.62" y="148.40" width="10.09" height="4.42" fill="#0a0707"/>
<rect x="444.66" y="148.40" width="3.40" height="4.42" fill="#7c0000"/>
<rect x="448.01" y="148.40" width="6.75" height="4.42" fill="#440000"/>
<rect x="454.71" y="148.40" width="3.40" height="4.42" fill="#0a0707"/>
<rect x="458.06" y="148.40" width="3.40" height="4.42" fill="#7c0000"/>
<rect x="461.40" y="148.40" width="6.75" height="4.42" fill="#0a0707"/>
<rect x="468.10" y="148.40" width="3.40" height="4.42" fill="#440000"/>
<rect x="471.45" y="148.40" width="6.75" height="4.42" fill="#7c0000"/>
<rect x="478.14" y="148.40" width="3.40" height="4.42" fill="#0a0707"/>
<rect x="481.49" y="148.40" width="3.40" height="4.42" fill="#7c0000"/>
<rect x="484.84" y="148.40" width="3.40" height="4.42" fill="#0a0707"/>
<rect x="488.19" y="148.40" width="10.09" height="4.42" fill="#440000"/>
<rect x="498.23" y="148.40" width="3.40" height="4.42" fill="#b40000"/>
<rect x="501.58" y="148.40" width="3.40" height="4.42" fill="#0a0707"/>
<rect x="504.93" y="148.40" width="16.79" height="4.42" fill="#007000"/>
<rect x="521.67" y="148.40" width="3.40" height="4.42" fill="#0a0707"/>
<rect x="525.02" y="148.40" width="6.75" height="4.42" fill="#440000"/>
<rect x="531.72" y="148.40" width="3.40" height="4.42" fill="#0a0707"/>
<rect x="535.07" y="148.40" width="6.75" height="4.42" fill="#003400"/>
<rect x="541.76" y="148.40" width="3.40" height="4.42" fill="#0a0707"/>
<rect x="545.11" y="148.40" width="3.40" height="4.42" fill="#7c0000"/>
<rect x="548.46" y="148.40" width="6.75" height="4.42" fill="#0a0707"/>
<rect x="555.16" y="148.40" width="6.75" height="4.42" fill="#f00000"/>
<rect x="561.85" y="148.40" width="3.40" height="4.42" fill="#260000"/>
<rect x="273.90" y="152.78" width="20.14" height="4.42" fill="#002500"/>
<rect x="293.99" y="152.78" width="3.40" height="4.42" fill="#004e00"/>
<rect x="297.34" y="152.78" width="3.40" height="4.42" fill="#002500"/>
<rect x="300.69" y="152.78" width="3.40" height="4.42" fill="#0a0707"/>
<rect x="304.03" y="152.78" width="3.40" height="4.42" fill="#002500"/>
<rect x="307.38" y="152.78" width="13.44" height="4.42" fill="#0a0707"/>
<rect x="320.78" y="152.78" width="3.40" height="4.42" fill="#003400"/>
<rect x="324.12" y="152.78" width="13.44" height="4.42" fill="#0a0707"/>
<rect x="337.52" y="152.78" width="6.75" height="4.42" fill="#003400"/>
<rect x="344.21" y="152.78" width="3.40" height="4.42" fill="#007000"/>
<rect x="347.56" y="152.78" width="10.09" height="4.42" fill="#003400"/>
<rect x="357.61" y="152.78" width="26.84" height="4.42" fill="#0a0707"/>
<rect x="384.39" y="152.78" width="3.40" height="4.42" fill="#7c0000"/>
<rect x="387.74" y="152.78" width="6.75" height="4.42" fill="#0a0707"/>
<rect x="394.44" y="152.78" width="3.40" height="4.42" fill="#007000"/>
<rect x="397.79" y="152.78" width="20.14" height="4.42" fill="#003400"/>
<rect x="417.88" y="152.78" width="3.40" height="4.42" fill="#0a0707"/>
<rect x="421.22" y="152.78" width="10.09" height="4.42" fill="#003400"/>
<rect x="431.27" y="152.78" width="30.18" height="4.42" fill="#0a0707"/>
<rect x="461.40" y="152.78" width="6.75" height="4.42" fill="#003400"/>
<rect x="468.10" y="152.78" width="3.40" height="4.42" fill="#0a0707"/>
<rect x="471.45" y="152.78" width="6.75" height="4.42" fill="#440000"/>
<rect x="478.14" y="152.78" width="3.40" height="4.42" fill="#260000"/>
<rect x="481.49" y="152.78" width="3.40" height="4.42" fill="#7c0000"/>
<rect x="484.84" y="152.78" width="3.40" height="4.42" fill="#0a0707"/>
<rect x="488.19" y="152.78" width="6.75" height="4.42" fill="#440000"/>
<rect x="494.89" y="152.78" width="6.75" height="4.42" fill="#7c0000"/>
<rect x="501.58" y="152.78" width="3.40" height="4.42" fill="#0a0707"/>
<rect x="504.93" y="152.78" width="6.75" height="4.42" fill="#003400"/>
<rect x="511.63" y="152.78" width="6.75" height="4.42" fill="#001e00"/>
<rect x="518.32" y="152.78" width="3.40" height="4.42" fill="#003400"/>
<rect x="521.67" y="152.78" width="3.40" height="4.42" fill="#0a0707"/>
<rect x="525.02" y="152.78" width="6.75" height="4.42" fill="#7c0000"/>
<rect x="531.72" y="152.78" width="10.09" height="4.42" fill="#0a0707"/>
<rect x="541.76" y="152.78" width="3.40" height="4.42" fill="#440000"/>
<rect x="545.11" y="152.78" width="3.40" height="4.42" fill="#7c0000"/>
<rect x="548.46" y="152.78" width="3.40" height="4.42" fill="#0a0707"/>
<rect x="551.81" y="152.78" width="3.40" height="4.42" fill="#260000"/>
<rect x="555.16" y="152.78" width="6.75" height="4.42" fill="#f00000"/>
<rect x="561.85" y="152.78" width="3.40" height="4.42" fill="#440000"/>
<rect x="273.90" y="157.15" width="3.40" height="4.42" fill="#003400"/>
<rect x="277.25" y="157.15" width="6.75" height="4.42" fill="#001e00"/>
<rect x="283.94" y="157.15" width="6.75" height="4.42" fill="#0a0707"/>
<rect x="290.64" y="157.15" width="6.75" height="4.42" fill="#7c0000"/>
<rect x="297.34" y="157.15" width="10.09" height="4.42" fill="#0a0707"/>
<rect x="307.38" y="157.15" width="3.40" height="4.42" fill="#007000"/>
<rect x="310.73" y="157.15" width="3.40" height="4.42" fill="#0a0707"/>
<rect x="314.08" y="157.15" width="3.40" height="4.42" fill="#440000"/>
<rect x="317.43" y="157.15" width="10.09" height="4.42" fill="#0a0707"/>
<rect x="327.47" y="157.15" width="6.75" height="4.42" fill="#440000"/>
<rect x="334.17" y="157.15" width="3.40" height="4.42" fill="#0a0707"/>
<rect x="337.52" y="157.15" width="6.75" height="4.42" fill="#7c0000"/>
<rect x="344.21" y="157.15" width="16.79" height="4.42" fill="#440000"/>
<rect x="360.96" y="157.15" width="3.40" height="4.42" fill="#0a0707"/>
<rect x="364.30" y="157.15" width="10.09" height="4.42" fill="#440000"/>
<rect x="374.35" y="157.15" width="6.75" height="4.42" fill="#0a0707"/>
<rect x="381.04" y="157.15" width="3.40" height="4.42" fill="#440000"/>
<rect x="384.39" y="157.15" width="3.40" height="4.42" fill="#003400"/>
<rect x="387.74" y="157.15" width="3.40" height="4.42" fill="#007000"/>
<rect x="391.09" y="157.15" width="3.40" height="4.42" fill="#0a0707"/>
<rect x="394.44" y="157.15" width="20.14" height="4.42" fill="#440000"/>
<rect x="414.53" y="157.15" width="3.40" height="4.42" fill="#0a0707"/>
<rect x="417.88" y="157.15" width="36.88" height="4.42" fill="#440000"/>
<rect x="454.71" y="157.15" width="16.79" height="4.42" fill="#0a0707"/>
<rect x="471.45" y="157.15" width="13.44" height="4.42" fill="#440000"/>
<rect x="484.84" y="157.15" width="3.40" height="4.42" fill="#003400"/>
<rect x="488.19" y="157.15" width="13.44" height="4.42" fill="#440000"/>
<rect x="501.58" y="157.15" width="6.75" height="4.42" fill="#0a0707"/>
<rect x="508.28" y="157.15" width="10.09" height="4.42" fill="#003400"/>
<rect x="518.32" y="157.15" width="3.40" height="4.42" fill="#0a0707"/>
<rect x="521.67" y="157.15" width="10.09" height="4.42" fill="#b40000"/>
<rect x="531.72" y="157.15" width="3.40" height="4.42" fill="#003400"/>
<rect x="535.07" y="157.15" width="6.75" height="4.42" fill="#440000"/>
<rect x="541.76" y="157.15" width="3.40" height="4.42" fill="#003400"/>
<rect x="545.11" y="157.15" width="6.75" height="4.42" fill="#0a0707"/>
<rect x="551.81" y="157.15" width="3.40" height="4.42" fill="#260000"/>
<rect x="555.16" y="157.15" width="3.40" height="4.42" fill="#f00000"/>
<rect x="558.50" y="157.15" width="3.40" height="4.42" fill="#b40000"/>
<rect x="561.85" y="157.15" width="3.40" height="4.42" fill="#440000"/>
<rect x="273.90" y="161.53" width="3.40" height="4.42" fill="#003400"/>
<rect x="277.25" y="161.53" width="6.75" height="4.42" fill="#007000"/>
<rect x="283.94" y="161.53" width="10.09" height="4.42" fill="#003400"/>
<rect x="293.99" y="161.53" width="3.40" height="4.42" fill="#007000"/>
<rect x="297.34" y="161.53" width="3.40" height="4.42" fill="#0a0707"/>
<rect x="300.69" y="161.53" width="10.09" height="4.42" fill="#003400"/>
<rect x="310.73" y="161.53" width="10.09" height="4.42" fill="#0a0707"/>
<rect x="320.78" y="161.53" width="6.75" height="4.42" fill="#440000"/>
<rect x="327.47" y="161.53" width="3.40" height="4.42" fill="#b40000"/>
<rect x="330.82" y="161.53" width="3.40" height="4.42" fill="#0a0707"/>
<rect x="334.17" y="161.53" width="3.40" height="4.42" fill="#260000"/>
<rect x="337.52" y="161.53" width="6.75" height="4.42" fill="#b40000"/>
<rect x="344.21" y="161.53" width="3.40" height="4.42" fill="#440000"/>
<rect x="347.56" y="161.53" width="13.44" height="4.42" fill="#7c0000"/>
<rect x="360.96" y="161.53" width="3.40" height="4.42" fill="#260000"/>
<rect x="364.30" y="161.53" width="6.75" height="4.42" fill="#b40000"/>
<rect x="371.00" y="161.53" width="3.40" height="4.42" fill="#f00000"/>
<rect x="374.35" y="161.53" width="6.75" height="4.42" fill="#440000"/>
<rect x="381.04" y="161.53" width="6.75" height="4.42" fill="#b40000"/>
<rect x="387.74" y="161.53" width="3.40" height="4.42" fill="#0a0707"/>
<rect x="391.09" y="161.53" width="23.49" height="4.42" fill="#7c0000"/>
<rect x="414.53" y="161.53" width="3.40" height="4.42" fill="#260000"/>
<rect x="417.88" y="161.53" width="10.09" height="4.42" fill="#b40000"/>
<rect x="427.92" y="161.53" width="3.40" height="4.42" fill="#7c0000"/>
<rect x="431.27" y="161.53" width="13.44" height="4.42" fill="#440000"/>
<rect x="444.66" y="161.53" width="6.75" height="4.42" fill="#b40000"/>
<rect x="451.36" y="161.53" width="3.40" height="4.42" fill="#7c0000"/>
<rect x="454.71" y="161.53" width="3.40" height="4.42" fill="#0a0707"/>
<rect x="458.06" y="161.53" width="3.40" height="4.42" fill="#440000"/>
<rect x="461.40" y="161.53" width="3.40" height="4.42" fill="#0a0707"/>
<rect x="464.75" y="161.53" width="6.75" height="4.42" fill="#440000"/>
<rect x="471.45" y="161.53" width="6.75" height="4.42" fill="#7c0000"/>
<rect x="478.14" y="161.53" width="6.75" height="4.42" fill="#f00000"/>
<rect x="484.84" y="161.53" width="3.40" height="4.42" fill="#260000"/>
<rect x="488.19" y="161.53" width="13.44" height="4.42" fill="#7c0000"/>
<rect x="501.58" y="161.53" width="3.40" height="4.42" fill="#0a0707"/>
<rect x="504.93" y="161.53" width="3.40" height="4.42" fill="#003400"/>
<rect x="508.28" y="161.53" width="3.40" height="4.42" fill="#0a0707"/>
<rect x="511.63" y="161.53" width="6.75" height="4.42" fill="#003400"/>
<rect x="518.32" y="161.53" width="3.40" height="4.42" fill="#440000"/>
<rect x="521.67" y="161.53" width="10.09" height="4.42" fill="#b40000"/>
<rect x="531.72" y="161.53" width="13.44" height="4.42" fill="#0a0707"/>
<rect x="545.11" y="161.53" width="3.40" height="4.42" fill="#003400"/>
<rect x="548.46" y="161.53" width="3.40" height="4.42" fill="#0a0707"/>
<rect x="551.81" y="161.53" width="3.40" height="4.42" fill="#440000"/>
<rect x="555.16" y="161.53" width="6.75" height="4.42" fill="#f00000"/>
<rect x="561.85" y="161.53" width="3.40" height="4.42" fill="#b40000"/>
<rect x="273.90" y="165.90" width="3.40" height="4.42" fill="#003400"/>
<rect x="277.25" y="165.90" width="3.40" height="4.42" fill="#007000"/>
<rect x="280.60" y="165.90" width="3.40" height="4.42" fill="#003400"/>
<rect x="283.94" y="165.90" width="3.40" height="4.42" fill="#001e00"/>
<rect x="287.29" y="165.90" width="10.09" height="4.42" fill="#007000"/>
<rect x="297.34" y="165.90" width="3.40" height="4.42" fill="#001e00"/>
<rect x="300.69" y="165.90" width="10.09" height="4.42" fill="#003400"/>
<rect x="310.73" y="165.90" width="3.40" height="4.42" fill="#0a0707"/>
<rect x="314.08" y="165.90" width="20.14" height="4.42" fill="#440000"/>
<rect x="334.17" y="165.90" width="3.40" height="4.42" fill="#260000"/>
<rect x="337.52" y="165.90" width="6.75" height="4.42" fill="#b40000"/>
<rect x="344.21" y="165.90" width="3.40" height="4.42" fill="#440000"/>
<rect x="347.56" y="165.90" width="13.44" height="4.42" fill="#7c0000"/>
<rect x="360.96" y="165.90" width="3.40" height="4.42" fill="#260000"/>
<rect x="364.30" y="165.90" width="10.09" height="4.42" fill="#b40000"/>
<rect x="374.35" y="165.90" width="6.75" height="4.42" fill="#440000"/>
<rect x="381.04" y="165.90" width="3.40" height="4.42" fill="#b40000"/>
<rect x="384.39" y="165.90" width="3.40" height="4.42" fill="#7c0000"/>
<rect x="387.74" y="165.90" width="3.40" height="4.42" fill="#260000"/>
<rect x="391.09" y="165.90" width="3.40" height="4.42" fill="#7c0000"/>
<rect x="394.44" y="165.90" width="20.14" height="4.42" fill="#440000"/>
<rect x="414.53" y="165.90" width="3.40" height="4.42" fill="#260000"/>
<rect x="417.88" y="165.90" width="3.40" height="4.42" fill="#b40000"/>
<rect x="421.22" y="165.90" width="3.40" height="4.42" fill="#7c0000"/>
<rect x="424.57" y="165.90" width="16.79" height="4.42" fill="#440000"/>
<rect x="441.31" y="165.90" width="3.40" height="4.42" fill="#003400"/>
<rect x="444.66" y="165.90" width="6.75" height="4.42" fill="#260000"/>
<rect x="451.36" y="165.90" width="3.40" height="4.42" fill="#7c0000"/>
<rect x="454.71" y="165.90" width="3.40" height="4.42" fill="#260000"/>
<rect x="458.06" y="165.90" width="3.40" height="4.42" fill="#0a0707"/>
<rect x="461.40" y="165.90" width="3.40" height="4.42" fill="#003400"/>
<rect x="464.75" y="165.90" width="3.40" height="4.42" fill="#0a0707"/>
<rect x="468.10" y="165.90" width="3.40" height="4.42" fill="#440000"/>
<rect x="471.45" y="165.90" width="6.75" height="4.42" fill="#7c0000"/>
<rect x="478.14" y="165.90" width="6.75" height="4.42" fill="#f00000"/>
<rect x="484.84" y="165.90" width="3.40" height="4.42" fill="#260000"/>
<rect x="488.19" y="165.90" width="6.75" height="4.42" fill="#7c0000"/>
<rect x="494.89" y="165.90" width="6.75" height="4.42" fill="#440000"/>
<rect x="501.58" y="165.90" width="3.40" height="4.42" fill="#0a0707"/>
<rect x="504.93" y="165.90" width="3.40" height="4.42" fill="#007000"/>
<rect x="508.28" y="165.90" width="3.40" height="4.42" fill="#0a0707"/>
<rect x="511.63" y="165.90" width="6.75" height="4.42" fill="#003400"/>
<rect x="518.32" y="165.90" width="3.40" height="4.42" fill="#260000"/>
<rect x="521.67" y="165.90" width="3.40" height="4.42" fill="#440000"/>
<rect x="525.02" y="165.90" width="3.40" height="4.42" fill="#7c0000"/>
<rect x="528.37" y="165.90" width="3.40" height="4.42" fill="#440000"/>
<rect x="531.72" y="165.90" width="3.40" height="4.42" fill="#260000"/>
<rect x="535.07" y="165.90" width="10.09" height="4.42" fill="#003400"/>
<rect x="545.11" y="165.90" width="3.40" height="4.42" fill="#0a0707"/>
<rect x="548.46" y="165.90" width="3.40" height="4.42" fill="#440000"/>
<rect x="551.81" y="165.90" width="3.40" height="4.42" fill="#003400"/>
<rect x="555.16" y="165.90" width="6.75" height="4.42" fill="#f00000"/>
<rect x="561.85" y="165.90" width="3.40" height="4.42" fill="#7c0000"/>
<rect x="273.90" y="170.28" width="10.09" height="4.42" fill="#003400"/>
<rect x="283.94" y="170.28" width="13.44" height="4.42" fill="#007000"/>
<rect x="297.34" y="170.28" width="6.75" height="4.42" fill="#0a0707"/>
<rect x="304.03" y="170.28" width="6.75" height="4.42" fill="#003400"/>
<rect x="310.73" y="170.28" width="10.09" height="4.42" fill="#0a0707"/>
<rect x="320.78" y="170.28" width="13.44" height="4.42" fill="#7c0000"/>
<rect x="334.17" y="170.28" width="3.40" height="4.42" fill="#440000"/>
<rect x="337.52" y="170.28" width="6.75" height="4.42" fill="#f00000"/>
<rect x="344.21" y="170.28" width="16.79" height="4.42" fill="#7c0000"/>
<rect x="360.96" y="170.28" width="3.40" height="4.42" fill="#260000"/>
<rect x="364.30" y="170.28" width="6.75" height="4.42" fill="#b40000"/>
<rect x="371.00" y="170.28" width="3.40" height="4.42" fill="#f00000"/>
<rect x="374.35" y="170.28" width="3.40" height="4.42" fill="#7c0000"/>
<rect x="377.70" y="170.28" width="3.40" height="4.42" fill="#440000"/>
<rect x="381.04" y="170.28" width="6.75" height="4.42" fill="#b40000"/>
<rect x="387.74" y="170.28" width="3.40" height="4.42" fill="#260000"/>
<rect x="391.09" y="170.28" width="23.49" height="4.42" fill="#b40000"/>
<rect x="414.53" y="170.28" width="3.40" height="4.42" fill="#260000"/>
<rect x="417.88" y="170.28" width="6.75" height="4.42" fill="#b40000"/>
<rect x="424.57" y="170.28" width="20.14" height="4.42" fill="#7c0000"/>
<rect x="444.66" y="170.28" width="6.75" height="4.42" fill="#b40000"/>
<rect x="451.36" y="170.28" width="3.40" height="4.42" fill="#7c0000"/>
<rect x="454.71" y="170.28" width="3.40" height="4.42" fill="#440000"/>
<rect x="458.06" y="170.28" width="3.40" height="4.42" fill="#7c0000"/>
<rect x="461.40" y="170.28" width="3.40" height="4.42" fill="#0a0707"/>
<rect x="464.75" y="170.28" width="3.40" height="4.42" fill="#440000"/>
<rect x="468.10" y="170.28" width="3.40" height="4.42" fill="#7c0000"/>
<rect x="471.45" y="170.28" width="3.40" height="4.42" fill="#b40000"/>
<rect x="474.80" y="170.28" width="3.40" height="4.42" fill="#7c0000"/>
<rect x="478.14" y="170.28" width="6.75" height="4.42" fill="#f00000"/>
<rect x="484.84" y="170.28" width="3.40" height="4.42" fill="#260000"/>
<rect x="488.19" y="170.28" width="3.40" height="4.42" fill="#7c0000"/>
<rect x="491.54" y="170.28" width="3.40" height="4.42" fill="#b40000"/>
<rect x="494.89" y="170.28" width="6.75" height="4.42" fill="#7c0000"/>
<rect x="501.58" y="170.28" width="3.40" height="4.42" fill="#440000"/>
<rect x="504.93" y="170.28" width="13.44" height="4.42" fill="#0a0707"/>
<rect x="518.32" y="170.28" width="3.40" height="4.42" fill="#440000"/>
<rect x="521.67" y="170.28" width="10.09" height="4.42" fill="#f00000"/>
<rect x="531.72" y="170.28" width="3.40" height="4.42" fill="#440000"/>
<rect x="535.07" y="170.28" width="10.09" height="4.42" fill="#0a0707"/>
<rect x="545.11" y="170.28" width="3.40" height="4.42" fill="#007000"/>
<rect x="548.46" y="170.28" width="3.40" height="4.42" fill="#440000"/>
<rect x="551.81" y="170.28" width="3.40" height="4.42" fill="#260000"/>
<rect x="555.16" y="170.28" width="6.75" height="4.42" fill="#f00000"/>
<rect x="561.85" y="170.28" width="3.40" height="4.42" fill="#b40000"/>
<rect x="273.90" y="174.65" width="16.79" height="4.42" fill="#0a0707"/>
<rect x="290.64" y="174.65" width="3.40" height="4.42" fill="#007000"/>
<rect x="293.99" y="174.65" width="3.40" height="4.42" fill="#0a0707"/>
<rect x="297.34" y="174.65" width="3.40" height="4.42" fill="#440000"/>
<rect x="300.69" y="174.65" width="3.40" height="4.42" fill="#0a0707"/>
<rect x="304.03" y="174.65" width="3.40" height="4.42" fill="#440000"/>
<rect x="307.38" y="174.65" width="6.75" height="4.42" fill="#0a0707"/>
<rect x="314.08" y="174.65" width="3.40" height="4.42" fill="#440000"/>
<rect x="317.43" y="174.65" width="6.75" height="4.42" fill="#0a0707"/>
<rect x="324.12" y="174.65" width="6.75" height="4.42" fill="#260000"/>
<rect x="330.82" y="174.65" width="3.40" height="4.42" fill="#0a0707"/>
<rect x="334.17" y="174.65" width="3.40" height="4.42" fill="#260000"/>
<rect x="337.52" y="174.65" width="6.75" height="4.42" fill="#7c0000"/>
<rect x="344.21" y="174.65" width="16.79" height="4.42" fill="#440000"/>
<rect x="360.96" y="174.65" width="3.40" height="4.42" fill="#260000"/>
<rect x="364.30" y="174.65" width="6.75" height="4.42" fill="#440000"/>
<rect x="371.00" y="174.65" width="3.40" height="4.42" fill="#7c0000"/>
<rect x="374.35" y="174.65" width="16.79" height="4.42" fill="#260000"/>
<rect x="391.09" y="174.65" width="3.40" height="4.42" fill="#0a0707"/>
<rect x="394.44" y="174.65" width="3.40" height="4.42" fill="#003400"/>
<rect x="397.79" y="174.65" width="3.40" height="4.42" fill="#260000"/>
<rect x="401.13" y="174.65" width="6.75" height="4.42" fill="#440000"/>
<rect x="407.83" y="174.65" width="3.40" height="4.42" fill="#260000"/>
<rect x="411.18" y="174.65" width="3.40" height="4.42" fill="#0a0707"/>
<rect x="414.53" y="174.65" width="3.40" height="4.42" fill="#260000"/>
<rect x="417.88" y="174.65" width="13.44" height="4.42" fill="#440000"/>
<rect x="431.27" y="174.65" width="3.40" height="4.42" fill="#007000"/>
<rect x="434.62" y="174.65" width="16.79" height="4.42" fill="#440000"/>
<rect x="451.36" y="174.65" width="3.40" height="4.42" fill="#260000"/>
<rect x="454.71" y="174.65" width="3.40" height="4.42" fill="#003400"/>
<rect x="458.06" y="174.65" width="3.40" height="4.42" fill="#0a0707"/>
<rect x="461.40" y="174.65" width="3.40" height="4.42" fill="#007000"/>
<rect x="464.75" y="174.65" width="3.40" height="4.42" fill="#0a0707"/>
<rect x="468.10" y="174.65" width="3.40" height="4.42" fill="#260000"/>
<rect x="471.45" y="174.65" width="6.75" height="4.42" fill="#440000"/>
<rect x="478.14" y="174.65" width="6.75" height="4.42" fill="#b40000"/>
<rect x="484.84" y="174.65" width="3.40" height="4.42" fill="#260000"/>
<rect x="488.19" y="174.65" width="13.44" height="4.42" fill="#440000"/>
<rect x="501.58" y="174.65" width="3.40" height="4.42" fill="#0a0707"/>
<rect x="504.93" y="174.65" width="6.75" height="4.42" fill="#003400"/>
<rect x="511.63" y="174.65" width="3.40" height="4.42" fill="#0a0707"/>
<rect x="514.98" y="174.65" width="6.75" height="4.42" fill="#003400"/>
<rect x="521.67" y="174.65" width="10.09" height="4.42" fill="#f00000"/>
<rect x="531.72" y="174.65" width="3.40" height="4.42" fill="#260000"/>
<rect x="535.07" y="174.65" width="10.09" height="4.42" fill="#0a0707"/>
<rect x="545.11" y="174.65" width="3.40" height="4.42" fill="#007000"/>
<rect x="548.46" y="174.65" width="3.40" height="4.42" fill="#0a0707"/>
<rect x="551.81" y="174.65" width="3.40" height="4.42" fill="#003400"/>
<rect x="555.16" y="174.65" width="6.75" height="4.42" fill="#f00000"/>
<rect x="561.85" y="174.65" width="3.40" height="4.42" fill="#7c0000"/>
<rect x="273.90" y="179.03" width="3.40" height="4.42" fill="#0a0707"/>
<rect x="277.25" y="179.03" width="6.75" height="4.42" fill="#003400"/>
<rect x="283.94" y="179.03" width="6.75" height="4.42" fill="#0a0707"/>
<rect x="290.64" y="179.03" width="3.40" height="4.42" fill="#7c0000"/>
<rect x="293.99" y="179.03" width="3.40" height="4.42" fill="#0a0707"/>
<rect x="297.34" y="179.03" width="6.75" height="4.42" fill="#440000"/>
<rect x="304.03" y="179.03" width="10.09" height="4.42" fill="#0a0707"/>
<rect x="314.08" y="179.03" width="20.14" height="4.42" fill="#440000"/>
<rect x="334.17" y="179.03" width="3.40" height="4.42" fill="#0a0707"/>
<rect x="337.52" y="179.03" width="6.75" height="4.42" fill="#7c0000"/>
<rect x="344.21" y="179.03" width="3.40" height="4.42" fill="#0a0707"/>
<rect x="347.56" y="179.03" width="13.44" height="4.42" fill="#440000"/>
<rect x="360.96" y="179.03" width="3.40" height="4.42" fill="#0a0707"/>
<rect x="364.30" y="179.03" width="10.09" height="4.42" fill="#7c0000"/>
<rect x="374.35" y="179.03" width="3.40" height="4.42" fill="#440000"/>
<rect x="377.70" y="179.03" width="3.40" height="4.42" fill="#003400"/>
<rect x="381.04" y="179.03" width="6.75" height="4.42" fill="#7c0000"/>
<rect x="387.74" y="179.03" width="3.40" height="4.42" fill="#0a0707"/>
<rect x="391.09" y="179.03" width="3.40" height="4.42" fill="#7c0000"/>
<rect x="394.44" y="179.03" width="3.40" height="4.42" fill="#0a0707"/>
<rect x="397.79" y="179.03" width="3.40" height="4.42" fill="#440000"/>
<rect x="401.13" y="179.03" width="10.09" height="4.42" fill="#003400"/>
<rect x="411.18" y="179.03" width="3.40" height="4.42" fill="#440000"/>
<rect x="414.53" y="179.03" width="3.40" height="4.42" fill="#0a0707"/>
<rect x="417.88" y="179.03" width="26.84" height="4.42" fill="#440000"/>
<rect x="444.66" y="179.03" width="10.09" height="4.42" fill="#7c0000"/>
<rect x="454.71" y="179.03" width="3.40" height="4.42" fill="#003400"/>
<rect x="458.06" y="179.03" width="3.40" height="4.42" fill="#440000"/>
<rect x="461.40" y="179.03" width="10.09" height="4.42" fill="#0a0707"/>
<rect x="471.45" y="179.03" width="6.75" height="4.42" fill="#440000"/>
<rect x="478.14" y="179.03" width="6.75" height="4.42" fill="#b40000"/>
<rect x="484.84" y="179.03" width="3.40" height="4.42" fill="#260000"/>
<rect x="488.19" y="179.03" width="13.44" height="4.42" fill="#440000"/>
<rect x="501.58" y="179.03" width="3.40" height="4.42" fill="#0a0707"/>
<rect x="504.93" y="179.03" width="6.75" height="4.42" fill="#003400"/>
<rect x="511.63" y="179.03" width="6.75" height="4.42" fill="#0a0707"/>
<rect x="518.32" y="179.03" width="3.40" height="4.42" fill="#260000"/>
<rect x="521.67" y="179.03" width="10.09" height="4.42" fill="#f00000"/>
<rect x="531.72" y="179.03" width="3.40" height="4.42" fill="#260000"/>
<rect x="535.07" y="179.03" width="10.09" height="4.42" fill="#0a0707"/>
<rect x="545.11" y="179.03" width="3.40" height="4.42" fill="#003400"/>
<rect x="548.46" y="179.03" width="3.40" height="4.42" fill="#0a0707"/>
<rect x="551.81" y="179.03" width="3.40" height="4.42" fill="#260000"/>
<rect x="555.16" y="179.03" width="6.75" height="4.42" fill="#f00000"/>
<rect x="561.85" y="179.03" width="3.40" height="4.42" fill="#440000"/>
<rect x="273.90" y="183.40" width="10.09" height="4.42" fill="#003400"/>
<rect x="283.94" y="183.40" width="10.09" height="4.42" fill="#0a0707"/>
<rect x="293.99" y="183.40" width="3.40" height="4.42" fill="#00b000"/>
<rect x="297.34" y="183.40" width="6.75" height="4.42" fill="#0a0707"/>
<rect x="304.03" y="183.40" width="6.75" height="4.42" fill="#003400"/>
<rect x="310.73" y="183.40" width="10.09" height="4.42" fill="#0a0707"/>
<rect x="320.78" y="183.40" width="10.09" height="4.42" fill="#260000"/>
<rect x="330.82" y="183.40" width="3.40" height="4.42" fill="#0a0707"/>
<rect x="334.17" y="183.40" width="3.40" height="4.42" fill="#003400"/>
<rect x="337.52" y="183.40" width="10.09" height="4.42" fill="#007000"/>
<rect x="347.56" y="183.40" width="3.40" height="4.42" fill="#0a0707"/>
<rect x="350.91" y="183.40" width="3.40" height="4.42" fill="#003400"/>
<rect x="354.26" y="183.40" width="3.40" height="4.42" fill="#260000"/>
<rect x="357.61" y="183.40" width="3.40" height="4.42" fill="#0a0707"/>
<rect x="360.96" y="183.40" width="3.40" height="4.42" fill="#00b000"/>
<rect x="364.30" y="183.40" width="3.40" height="4.42" fill="#260000"/>
<rect x="367.65" y="183.40" width="3.40" height="4.42" fill="#7c0000"/>
<rect x="371.00" y="183.40" width="3.40" height="4.42" fill="#007000"/>
<rect x="374.35" y="183.40" width="3.40" height="4.42" fill="#0a0707"/>
<rect x="377.70" y="183.40" width="3.40" height="4.42" fill="#440000"/>
<rect x="381.04" y="183.40" width="6.75" height="4.42" fill="#7c0000"/>
<rect x="387.74" y="183.40" width="3.40" height="4.42" fill="#260000"/>
<rect x="391.09" y="183.40" width="3.40" height="4.42" fill="#0a0707"/>
<rect x="394.44" y="183.40" width="10.09" height="4.42" fill="#007000"/>
<rect x="404.48" y="183.40" width="6.75" height="4.42" fill="#003400"/>
<rect x="411.18" y="183.40" width="3.40" height="4.42" fill="#007000"/>
<rect x="414.53" y="183.40" width="6.75" height="4.42" fill="#0a0707"/>
<rect x="421.22" y="183.40" width="3.40" height="4.42" fill="#007000"/>
<rect x="424.57" y="183.40" width="6.75" height="4.42" fill="#00b000"/>
<rect x="431.27" y="183.40" width="3.40" height="4.42" fill="#007000"/>
<rect x="434.62" y="183.40" width="3.40" height="4.42" fill="#0a0707"/>
<rect x="437.97" y="183.40" width="6.75" height="4.42" fill="#260000"/>
<rect x="444.66" y="183.40" width="3.40" height="4.42" fill="#440000"/>
<rect x="448.01" y="183.40" width="6.75" height="4.42" fill="#260000"/>
<rect x="454.71" y="183.40" width="10.09" height="4.42" fill="#0a0707"/>
<rect x="464.75" y="183.40" width="3.40" height="4.42" fill="#007000"/>
<rect x="468.10" y="183.40" width="3.40" height="4.42" fill="#003400"/>
<rect x="471.45" y="183.40" width="3.40" height="4.42" fill="#0a0707"/>
<rect x="474.80" y="183.40" width="3.40" height="4.42" fill="#260000"/>
<rect x="478.14" y="183.40" width="3.40" height="4.42" fill="#00b000"/>
<rect x="481.49" y="183.40" width="6.75" height="4.42" fill="#260000"/>
<rect x="488.19" y="183.40" width="6.75" height="4.42" fill="#7c0000"/>
<rect x="494.89" y="183.40" width="3.40" height="4.42" fill="#260000"/>
<rect x="498.23" y="183.40" width="3.40" height="4.42" fill="#7c0000"/>
<rect x="501.58" y="183.40" width="10.09" height="4.42" fill="#0a0707"/>
<rect x="511.63" y="183.40" width="3.40" height="4.42" fill="#003400"/>
<rect x="514.98" y="183.40" width="3.40" height="4.42" fill="#0a0707"/>
<rect x="518.32" y="183.40" width="3.40" height="4.42" fill="#f00000"/>
<rect x="521.67" y="183.40" width="10.09" height="4.42" fill="#440000"/>
<rect x="531.72" y="183.40" width="3.40" height="4.42" fill="#260000"/>
<rect x="535.07" y="183.40" width="6.75" height="4.42" fill="#7c0000"/>
<rect x="541.76" y="183.40" width="10.09" height="4.42" fill="#0a0707"/>
<rect x="551.81" y="183.40" width="3.40" height="4.42" fill="#260000"/>
<rect x="555.16" y="183.40" width="3.40" height="4.42" fill="#440000"/>
<rect x="558.50" y="183.40" width="6.75" height="4.42" fill="#260000"/>
<rect x="273.90" y="187.78" width="3.40" height="4.42" fill="#003400"/>
<rect x="277.25" y="187.78" width="6.75" height="4.42" fill="#007000"/>
<rect x="283.94" y="187.78" width="10.09" height="4.42" fill="#003400"/>
<rect x="293.99" y="187.78" width="3.40" height="4.42" fill="#007000"/>
<rect x="297.34" y="187.78" width="3.40" height="4.42" fill="#003400"/>
<rect x="300.69" y="187.78" width="6.75" height="4.42" fill="#007000"/>
<rect x="307.38" y="187.78" width="10.09" height="4.42" fill="#0a0707"/>
<rect x="317.43" y="187.78" width="16.79" height="4.42" fill="#7c0000"/>
<rect x="334.17" y="187.78" width="3.40" height="4.42" fill="#0a0707"/>
<rect x="337.52" y="187.78" width="6.75" height="4.42" fill="#b40000"/>
<rect x="344.21" y="187.78" width="16.79" height="4.42" fill="#7c0000"/>
<rect x="360.96" y="187.78" width="3.40" height="4.42" fill="#440000"/>
<rect x="364.30" y="187.78" width="6.75" height="4.42" fill="#7c0000"/>
<rect x="371.00" y="187.78" width="3.40" height="4.42" fill="#b40000"/>
<rect x="374.35" y="187.78" width="3.40" height="4.42" fill="#7c0000"/>
<rect x="377.70" y="187.78" width="3.40" height="4.42" fill="#440000"/>
<rect x="381.04" y="187.78" width="3.40" height="4.42" fill="#b40000"/>
<rect x="384.39" y="187.78" width="3.40" height="4.42" fill="#7c0000"/>
<rect x="387.74" y="187.78" width="3.40" height="4.42" fill="#260000"/>
<rect x="391.09" y="187.78" width="3.40" height="4.42" fill="#b40000"/>
<rect x="394.44" y="187.78" width="20.14" height="4.42" fill="#7c0000"/>
<rect x="414.53" y="187.78" width="3.40" height="4.42" fill="#440000"/>
<rect x="417.88" y="187.78" width="36.88" height="4.42" fill="#7c0000"/>
<rect x="454.71" y="187.78" width="3.40" height="4.42" fill="#440000"/>
<rect x="458.06" y="187.78" width="3.40" height="4.42" fill="#7c0000"/>
<rect x="461.40" y="187.78" width="3.40" height="4.42" fill="#0a0707"/>
<rect x="464.75" y="187.78" width="3.40" height="4.42" fill="#440000"/>
<rect x="468.10" y="187.78" width="3.40" height="4.42" fill="#0a0707"/>
<rect x="471.45" y="187.78" width="3.40" height="4.42" fill="#7c0000"/>
<rect x="474.80" y="187.78" width="3.40" height="4.42" fill="#440000"/>
<rect x="478.14" y="187.78" width="6.75" height="4.42" fill="#b40000"/>
<rect x="484.84" y="187.78" width="3.40" height="4.42" fill="#260000"/>
<rect x="488.19" y="187.78" width="10.09" height="4.42" fill="#7c0000"/>
<rect x="498.23" y="187.78" width="3.40" height="4.42" fill="#f00000"/>
<rect x="501.58" y="187.78" width="3.40" height="4.42" fill="#260000"/>
<rect x="504.93" y="187.78" width="6.75" height="4.42" fill="#440000"/>
<rect x="511.63" y="187.78" width="3.40" height="4.42" fill="#003400"/>
<rect x="514.98" y="187.78" width="3.40" height="4.42" fill="#0a0707"/>
<rect x="518.32" y="187.78" width="3.40" height="4.42" fill="#440000"/>
<rect x="521.67" y="187.78" width="3.40" height="4.42" fill="#7c0000"/>
<rect x="525.02" y="187.78" width="3.40" height="4.42" fill="#b40000"/>
<rect x="528.37" y="187.78" width="3.40" height="4.42" fill="#7c0000"/>
<rect x="531.72" y="187.78" width="13.44" height="4.42" fill="#0a0707"/>
<rect x="545.11" y="187.78" width="3.40" height="4.42" fill="#007000"/>
<rect x="548.46" y="187.78" width="6.75" height="4.42" fill="#0a0707"/>
<rect x="555.16" y="187.78" width="6.75" height="4.42" fill="#b40000"/>
<rect x="561.85" y="187.78" width="3.40" height="4.42" fill="#7c0000"/>
<rect x="273.90" y="192.15" width="3.40" height="4.42" fill="#001e00"/>
<rect x="277.25" y="192.15" width="6.75" height="4.42" fill="#003400"/>
<rect x="283.94" y="192.15" width="6.75" height="4.42" fill="#001e00"/>
<rect x="290.64" y="192.15" width="6.75" height="4.42" fill="#003400"/>
<rect x="297.34" y="192.15" width="3.40" height="4.42" fill="#001e00"/>
<rect x="300.69" y="192.15" width="6.75" height="4.42" fill="#003400"/>
<rect x="307.38" y="192.15" width="13.44" height="4.42" fill="#0a0707"/>
<rect x="320.78" y="192.15" width="3.40" height="4.42" fill="#440000"/>
<rect x="324.12" y="192.15" width="10.09" height="4.42" fill="#7c0000"/>
<rect x="334.17" y="192.15" width="3.40" height="4.42" fill="#260000"/>
<rect x="337.52" y="192.15" width="6.75" height="4.42" fill="#b40000"/>
<rect x="344.21" y="192.15" width="16.79" height="4.42" fill="#7c0000"/>
<rect x="360.96" y="192.15" width="3.40" height="4.42" fill="#440000"/>
<rect x="364.30" y="192.15" width="6.75" height="4.42" fill="#7c0000"/>
<rect x="371.00" y="192.15" width="3.40" height="4.42" fill="#b40000"/>
<rect x="374.35" y="192.15" width="3.40" height="4.42" fill="#7c0000"/>
<rect x="377.70" y="192.15" width="3.40" height="4.42" fill="#440000"/>
<rect x="381.04" y="192.15" width="6.75" height="4.42" fill="#7c0000"/>
<rect x="387.74" y="192.15" width="3.40" height="4.42" fill="#260000"/>
<rect x="391.09" y="192.15" width="10.09" height="4.42" fill="#7c0000"/>
<rect x="401.13" y="192.15" width="13.44" height="4.42" fill="#b40000"/>
<rect x="414.53" y="192.15" width="3.40" height="4.42" fill="#440000"/>
<rect x="417.88" y="192.15" width="36.88" height="4.42" fill="#7c0000"/>
<rect x="454.71" y="192.15" width="3.40" height="4.42" fill="#440000"/>
<rect x="458.06" y="192.15" width="3.40" height="4.42" fill="#7c0000"/>
<rect x="461.40" y="192.15" width="3.40" height="4.42" fill="#260000"/>
<rect x="464.75" y="192.15" width="3.40" height="4.42" fill="#440000"/>
<rect x="468.10" y="192.15" width="3.40" height="4.42" fill="#260000"/>
<rect x="471.45" y="192.15" width="6.75" height="4.42" fill="#440000"/>
<rect x="478.14" y="192.15" width="3.40" height="4.42" fill="#b40000"/>
<rect x="481.49" y="192.15" width="3.40" height="4.42" fill="#7c0000"/>
<rect x="484.84" y="192.15" width="3.40" height="4.42" fill="#260000"/>
<rect x="488.19" y="192.15" width="10.09" height="4.42" fill="#7c0000"/>
<rect x="498.23" y="192.15" width="3.40" height="4.42" fill="#f00000"/>
<rect x="501.58" y="192.15" width="3.40" height="4.42" fill="#260000"/>
<rect x="504.93" y="192.15" width="6.75" height="4.42" fill="#440000"/>
<rect x="511.63" y="192.15" width="6.75" height="4.42" fill="#0a0707"/>
<rect x="518.32" y="192.15" width="3.40" height="4.42" fill="#b40000"/>
<rect x="521.67" y="192.15" width="10.09" height="4.42" fill="#7c0000"/>
<rect x="531.72" y="192.15" width="13.44" height="4.42" fill="#0a0707"/>
<rect x="545.11" y="192.15" width="3.40" height="4.42" fill="#003400"/>
<rect x="548.46" y="192.15" width="3.40" height="4.42" fill="#001e00"/>
<rect x="551.81" y="192.15" width="3.40" height="4.42" fill="#007000"/>
<rect x="555.16" y="192.15" width="3.40" height="4.42" fill="#f00000"/>
<rect x="558.50" y="192.15" width="3.40" height="4.42" fill="#b40000"/>
<rect x="561.85" y="192.15" width="3.40" height="4.42" fill="#7c0000"/>
<rect x="273.90" y="196.53" width="3.40" height="4.42" fill="#003400"/>
<rect x="277.25" y="196.53" width="10.09" height="4.42" fill="#007000"/>
<rect x="287.29" y="196.53" width="3.40" height="4.42" fill="#005200"/>
<rect x="290.64" y="196.53" width="3.40" height="4.42" fill="#007000"/>
<rect x="293.99" y="196.53" width="6.75" height="4.42" fill="#009000"/>
<rect x="300.69" y="196.53" width="10.09" height="4.42" fill="#007000"/>
<rect x="310.73" y="196.53" width="3.40" height="4.42" fill="#0a0707"/>
<rect x="314.08" y="196.53" width="3.40" height="4.42" fill="#005200"/>
<rect x="317.43" y="196.53" width="6.75" height="4.42" fill="#003400"/>
<rect x="324.12" y="196.53" width="3.40" height="4.42" fill="#260000"/>
<rect x="327.47" y="196.53" width="3.40" height="4.42" fill="#440000"/>
<rect x="330.82" y="196.53" width="3.40" height="4.42" fill="#7c0000"/>
<rect x="334.17" y="196.53" width="3.40" height="4.42" fill="#260000"/>
<rect x="337.52" y="196.53" width="6.75" height="4.42" fill="#b40000"/>
<rect x="344.21" y="196.53" width="3.40" height="4.42" fill="#440000"/>
<rect x="347.56" y="196.53" width="13.44" height="4.42" fill="#7c0000"/>
<rect x="360.96" y="196.53" width="3.40" height="4.42" fill="#440000"/>
<rect x="364.30" y="196.53" width="6.75" height="4.42" fill="#7c0000"/>
<rect x="371.00" y="196.53" width="3.40" height="4.42" fill="#b40000"/>
<rect x="374.35" y="196.53" width="3.40" height="4.42" fill="#7c0000"/>
<rect x="377.70" y="196.53" width="3.40" height="4.42" fill="#440000"/>
<rect x="381.04" y="196.53" width="6.75" height="4.42" fill="#7c0000"/>
<rect x="387.74" y="196.53" width="3.40" height="4.42" fill="#260000"/>
<rect x="391.09" y="196.53" width="3.40" height="4.42" fill="#7c0000"/>
<rect x="394.44" y="196.53" width="10.09" height="4.42" fill="#440000"/>
<rect x="404.48" y="196.53" width="6.75" height="4.42" fill="#003400"/>
<rect x="411.18" y="196.53" width="3.40" height="4.42" fill="#440000"/>
<rect x="414.53" y="196.53" width="3.40" height="4.42" fill="#260000"/>
<rect x="417.88" y="196.53" width="3.40" height="4.42" fill="#7c0000"/>
<rect x="421.22" y="196.53" width="3.40" height="4.42" fill="#440000"/>
<rect x="424.57" y="196.53" width="3.40" height="4.42" fill="#7c0000"/>
<rect x="427.92" y="196.53" width="16.79" height="4.42" fill="#440000"/>
<rect x="444.66" y="196.53" width="10.09" height="4.42" fill="#7c0000"/>
<rect x="454.71" y="196.53" width="3.40" height="4.42" fill="#440000"/>
<rect x="458.06" y="196.53" width="3.40" height="4.42" fill="#7c0000"/>
<rect x="461.40" y="196.53" width="3.40" height="4.42" fill="#260000"/>
<rect x="464.75" y="196.53" width="3.40" height="4.42" fill="#7c0000"/>
<rect x="468.10" y="196.53" width="3.40" height="4.42" fill="#260000"/>
<rect x="471.45" y="196.53" width="3.40" height="4.42" fill="#7c0000"/>
<rect x="474.80" y="196.53" width="3.40" height="4.42" fill="#440000"/>
<rect x="478.14" y="196.53" width="6.75" height="4.42" fill="#f00000"/>
<rect x="484.84" y="196.53" width="3.40" height="4.42" fill="#260000"/>
<rect x="488.19" y="196.53" width="10.09" height="4.42" fill="#7c0000"/>
<rect x="498.23" y="196.53" width="3.40" height="4.42" fill="#b40000"/>
<rect x="501.58" y="196.53" width="3.40" height="4.42" fill="#260000"/>
<rect x="504.93" y="196.53" width="6.75" height="4.42" fill="#440000"/>
<rect x="511.63" y="196.53" width="3.40" height="4.42" fill="#0a0707"/>
<rect x="514.98" y="196.53" width="3.40" height="4.42" fill="#260000"/>
<rect x="518.32" y="196.53" width="3.40" height="4.42" fill="#b40000"/>
<rect x="521.67" y="196.53" width="10.09" height="4.42" fill="#7c0000"/>
<rect x="531.72" y="196.53" width="6.75" height="4.42" fill="#003400"/>
<rect x="538.41" y="196.53" width="3.40" height="4.42" fill="#440000"/>
<rect x="541.76" y="196.53" width="3.40" height="4.42" fill="#b40000"/>
<rect x="545.11" y="196.53" width="3.40" height="4.42" fill="#003400"/>
<rect x="548.46" y="196.53" width="3.40" height="4.42" fill="#0a0707"/>
<rect x="551.81" y="196.53" width="3.40" height="4.42" fill="#007000"/>
<rect x="555.16" y="196.53" width="6.75" height="4.42" fill="#b40000"/>
<rect x="561.85" y="196.53" width="3.40" height="4.42" fill="#7c0000"/>
<rect x="273.90" y="200.90" width="3.40" height="4.42" fill="#003400"/>
<rect x="277.25" y="200.90" width="10.09" height="4.42" fill="#005200"/>
<rect x="287.29" y="200.90" width="6.75" height="4.42" fill="#003400"/>
<rect x="293.99" y="200.90" width="3.40" height="4.42" fill="#005200"/>
<rect x="297.34" y="200.90" width="6.75" height="4.42" fill="#00b000"/>
<rect x="304.03" y="200.90" width="3.40" height="4.42" fill="#009000"/>
<rect x="307.38" y="200.90" width="3.40" height="4.42" fill="#005200"/>
<rect x="310.73" y="200.90" width="3.40" height="4.42" fill="#001e00"/>
<rect x="314.08" y="200.90" width="6.75" height="4.42" fill="#003400"/>
<rect x="320.78" y="200.90" width="6.75" height="4.42" fill="#440000"/>
<rect x="327.47" y="200.90" width="6.75" height="4.42" fill="#7c0000"/>
<rect x="334.17" y="200.90" width="3.40" height="4.42" fill="#260000"/>
<rect x="337.52" y="200.90" width="3.40" height="4.42" fill="#b40000"/>
<rect x="340.87" y="200.90" width="3.40" height="4.42" fill="#7c0000"/>
<rect x="344.21" y="200.90" width="3.40" height="4.42" fill="#440000"/>
<rect x="347.56" y="200.90" width="13.44" height="4.42" fill="#7c0000"/>
<rect x="360.96" y="200.90" width="3.40" height="4.42" fill="#440000"/>
<rect x="364.30" y="200.90" width="13.44" height="4.42" fill="#7c0000"/>
<rect x="377.70" y="200.90" width="3.40" height="4.42" fill="#440000"/>
<rect x="381.04" y="200.90" width="6.75" height="4.42" fill="#7c0000"/>
<rect x="387.74" y="200.90" width="3.40" height="4.42" fill="#260000"/>
<rect x="391.09" y="200.90" width="10.09" height="4.42" fill="#7c0000"/>
<rect x="401.13" y="200.90" width="13.44" height="4.42" fill="#b40000"/>
<rect x="414.53" y="200.90" width="3.40" height="4.42" fill="#440000"/>
<rect x="417.88" y="200.90" width="16.79" height="4.42" fill="#7c0000"/>
<rect x="434.62" y="200.90" width="6.75" height="4.42" fill="#b40000"/>
<rect x="441.31" y="200.90" width="3.40" height="4.42" fill="#440000"/>
<rect x="444.66" y="200.90" width="10.09" height="4.42" fill="#7c0000"/>
<rect x="454.71" y="200.90" width="3.40" height="4.42" fill="#440000"/>
<rect x="458.06" y="200.90" width="3.40" height="4.42" fill="#7c0000"/>
<rect x="461.40" y="200.90" width="3.40" height="4.42" fill="#260000"/>
<rect x="464.75" y="200.90" width="3.40" height="4.42" fill="#7c0000"/>
<rect x="468.10" y="200.90" width="3.40" height="4.42" fill="#440000"/>
<rect x="471.45" y="200.90" width="6.75" height="4.42" fill="#7c0000"/>
<rect x="478.14" y="200.90" width="6.75" height="4.42" fill="#f00000"/>
<rect x="484.84" y="200.90" width="3.40" height="4.42" fill="#003400"/>
<rect x="488.19" y="200.90" width="10.09" height="4.42" fill="#7c0000"/>
<rect x="498.23" y="200.90" width="3.40" height="4.42" fill="#b40000"/>
<rect x="501.58" y="200.90" width="3.40" height="4.42" fill="#260000"/>
<rect x="504.93" y="200.90" width="3.40" height="4.42" fill="#0a0707"/>
<rect x="508.28" y="200.90" width="3.40" height="4.42" fill="#003400"/>
<rect x="511.63" y="200.90" width="3.40" height="4.42" fill="#0a0707"/>
<rect x="514.98" y="200.90" width="3.40" height="4.42" fill="#260000"/>
<rect x="518.32" y="200.90" width="3.40" height="4.42" fill="#7c0000"/>
<rect x="521.67" y="200.90" width="10.09" height="4.42" fill="#f00000"/>
<rect x="531.72" y="200.90" width="3.40" height="4.42" fill="#260000"/>
<rect x="535.07" y="200.90" width="6.75" height="4.42" fill="#440000"/>
<rect x="541.76" y="200.90" width="3.40" height="4.42" fill="#f00000"/>
<rect x="545.11" y="200.90" width="3.40" height="4.42" fill="#260000"/>
<rect x="548.46" y="200.90" width="3.40" height="4.42" fill="#0a0707"/>
<rect x="551.81" y="200.90" width="3.40" height="4.42" fill="#260000"/>
<rect x="555.16" y="200.90" width="10.09" height="4.42" fill="#f00000"/>
<rect x="273.90" y="205.28" width="3.40" height="4.42" fill="#003400"/>
<rect x="277.25" y="205.28" width="6.75" height="4.42" fill="#005200"/>
<rect x="283.94" y="205.28" width="3.40" height="4.42" fill="#003400"/>
<rect x="287.29" y="205.28" width="3.40" height="4.42" fill="#001e00"/>
<rect x="290.64" y="205.28" width="3.40" height="4.42" fill="#003400"/>
<rect x="293.99" y="205.28" width="3.40" height="4.42" fill="#005200"/>
<rect x="297.34" y="205.28" width="3.40" height="4.42" fill="#009000"/>
<rect x="300.69" y="205.28" width="3.40" height="4.42" fill="#003400"/>
<rect x="304.03" y="205.28" width="6.75" height="4.42" fill="#005200"/>
<rect x="310.73" y="205.28" width="3.40" height="4.42" fill="#0a0707"/>
<rect x="314.08" y="205.28" width="3.40" height="4.42" fill="#003400"/>
<rect x="317.43" y="205.28" width="3.40" height="4.42" fill="#0a0707"/>
<rect x="320.78" y="205.28" width="13.44" height="4.42" fill="#7c0000"/>
<rect x="334.17" y="205.28" width="3.40" height="4.42" fill="#440000"/>
<rect x="337.52" y="205.28" width="6.75" height="4.42" fill="#b40000"/>
<rect x="344.21" y="205.28" width="16.79" height="4.42" fill="#7c0000"/>
<rect x="360.96" y="205.28" width="3.40" height="4.42" fill="#440000"/>
<rect x="364.30" y="205.28" width="13.44" height="4.42" fill="#7c0000"/>
<rect x="377.70" y="205.28" width="3.40" height="4.42" fill="#440000"/>
<rect x="381.04" y="205.28" width="3.40" height="4.42" fill="#b40000"/>
<rect x="384.39" y="205.28" width="3.40" height="4.42" fill="#7c0000"/>
<rect x="387.74" y="205.28" width="3.40" height="4.42" fill="#260000"/>
<rect x="391.09" y="205.28" width="6.75" height="4.42" fill="#7c0000"/>
<rect x="397.79" y="205.28" width="16.79" height="4.42" fill="#b40000"/>
<rect x="414.53" y="205.28" width="3.40" height="4.42" fill="#440000"/>
<rect x="417.88" y="205.28" width="3.40" height="4.42" fill="#b40000"/>
<rect x="421.22" y="205.28" width="13.44" height="4.42" fill="#7c0000"/>
<rect x="434.62" y="205.28" width="6.75" height="4.42" fill="#b40000"/>
<rect x="441.31" y="205.28" width="3.40" height="4.42" fill="#440000"/>
<rect x="444.66" y="205.28" width="10.09" height="4.42" fill="#7c0000"/>
<rect x="454.71" y="205.28" width="3.40" height="4.42" fill="#440000"/>
<rect x="458.06" y="205.28" width="3.40" height="4.42" fill="#7c0000"/>
<rect x="461.40" y="205.28" width="3.40" height="4.42" fill="#260000"/>
<rect x="464.75" y="205.28" width="3.40" height="4.42" fill="#7c0000"/>
<rect x="468.10" y="205.28" width="3.40" height="4.42" fill="#440000"/>
<rect x="471.45" y="205.28" width="6.75" height="4.42" fill="#7c0000"/>
<rect x="478.14" y="205.28" width="6.75" height="4.42" fill="#f00000"/>
<rect x="484.84" y="205.28" width="3.40" height="4.42" fill="#260000"/>
<rect x="488.19" y="205.28" width="10.09" height="4.42" fill="#7c0000"/>
<rect x="498.23" y="205.28" width="3.40" height="4.42" fill="#f00000"/>
<rect x="501.58" y="205.28" width="3.40" height="4.42" fill="#260000"/>
<rect x="504.93" y="205.28" width="3.40" height="4.42" fill="#003400"/>
<rect x="508.28" y="205.28" width="6.75" height="4.42" fill="#0a0707"/>
<rect x="514.98" y="205.28" width="3.40" height="4.42" fill="#440000"/>
<rect x="518.32" y="205.28" width="3.40" height="4.42" fill="#7c0000"/>
<rect x="521.67" y="205.28" width="10.09" height="4.42" fill="#f00000"/>
<rect x="531.72" y="205.28" width="3.40" height="4.42" fill="#260000"/>
<rect x="535.07" y="205.28" width="6.75" height="4.42" fill="#440000"/>
<rect x="541.76" y="205.28" width="3.40" height="4.42" fill="#f00000"/>
<rect x="545.11" y="205.28" width="3.40" height="4.42" fill="#260000"/>
<rect x="548.46" y="205.28" width="3.40" height="4.42" fill="#0a0707"/>
<rect x="551.81" y="205.28" width="3.40" height="4.42" fill="#260000"/>
<rect x="555.16" y="205.28" width="10.09" height="4.42" fill="#f00000"/>
<rect x="273.90" y="209.65" width="3.40" height="4.42" fill="#001e00"/>
<rect x="277.25" y="209.65" width="13.44" height="4.42" fill="#003400"/>
<rect x="290.64" y="209.65" width="3.40" height="4.42" fill="#001e00"/>
<rect x="293.99" y="209.65" width="6.75" height="4.42" fill="#005200"/>
<rect x="300.69" y="209.65" width="3.40" height="4.42" fill="#001e00"/>
<rect x="304.03" y="209.65" width="6.75" height="4.42" fill="#005200"/>
<rect x="310.73" y="209.65" width="10.09" height="4.42" fill="#0a0707"/>
<rect x="320.78" y="209.65" width="3.40" height="4.42" fill="#440000"/>
<rect x="324.12" y="209.65" width="10.09" height="4.42" fill="#7c0000"/>
<rect x="334.17" y="209.65" width="3.40" height="4.42" fill="#260000"/>
<rect x="337.52" y="209.65" width="6.75" height="4.42" fill="#7c0000"/>
<rect x="344.21" y="209.65" width="3.40" height="4.42" fill="#440000"/>
<rect x="347.56" y="209.65" width="13.44" height="4.42" fill="#7c0000"/>
<rect x="360.96" y="209.65" width="3.40" height="4.42" fill="#260000"/>
<rect x="364.30" y="209.65" width="6.75" height="4.42" fill="#440000"/>
<rect x="371.00" y="209.65" width="3.40" height="4.42" fill="#7c0000"/>
<rect x="374.35" y="209.65" width="3.40" height="4.42" fill="#440000"/>
<rect x="377.70" y="209.65" width="3.40" height="4.42" fill="#260000"/>
<rect x="381.04" y="209.65" width="6.75" height="4.42" fill="#7c0000"/>
<rect x="387.74" y="209.65" width="3.40" height="4.42" fill="#260000"/>
<rect x="391.09" y="209.65" width="6.75" height="4.42" fill="#440000"/>
<rect x="397.79" y="209.65" width="6.75" height="4.42" fill="#7c0000"/>
<rect x="404.48" y="209.65" width="3.40" height="4.42" fill="#440000"/>
<rect x="407.83" y="209.65" width="3.40" height="4.42" fill="#7c0000"/>
<rect x="411.18" y="209.65" width="3.40" height="4.42" fill="#440000"/>
<rect x="414.53" y="209.65" width="3.40" height="4.42" fill="#260000"/>
<rect x="417.88" y="209.65" width="3.40" height="4.42" fill="#7c0000"/>
<rect x="421.22" y="209.65" width="3.40" height="4.42" fill="#440000"/>
<rect x="424.57" y="209.65" width="3.40" height="4.42" fill="#7c0000"/>
<rect x="427.92" y="209.65" width="6.75" height="4.42" fill="#440000"/>
<rect x="434.62" y="209.65" width="6.75" height="4.42" fill="#7c0000"/>
<rect x="441.31" y="209.65" width="3.40" height="4.42" fill="#260000"/>
<rect x="444.66" y="209.65" width="3.40" height="4.42" fill="#440000"/>
<rect x="448.01" y="209.65" width="3.40" height="4.42" fill="#7c0000"/>
<rect x="451.36" y="209.65" width="3.40" height="4.42" fill="#440000"/>
<rect x="454.71" y="209.65" width="3.40" height="4.42" fill="#260000"/>
<rect x="458.06" y="209.65" width="3.40" height="4.42" fill="#440000"/>
<rect x="461.40" y="209.65" width="3.40" height="4.42" fill="#260000"/>
<rect x="464.75" y="209.65" width="3.40" height="4.42" fill="#440000"/>
<rect x="468.10" y="209.65" width="3.40" height="4.42" fill="#260000"/>
<rect x="471.45" y="209.65" width="6.75" height="4.42" fill="#440000"/>
<rect x="478.14" y="209.65" width="6.75" height="4.42" fill="#b40000"/>
<rect x="484.84" y="209.65" width="3.40" height="4.42" fill="#260000"/>
<rect x="488.19" y="209.65" width="3.40" height="4.42" fill="#440000"/>
<rect x="491.54" y="209.65" width="3.40" height="4.42" fill="#7c0000"/>
<rect x="494.89" y="209.65" width="3.40" height="4.42" fill="#440000"/>
<rect x="498.23" y="209.65" width="3.40" height="4.42" fill="#f00000"/>
<rect x="501.58" y="209.65" width="3.40" height="4.42" fill="#260000"/>
<rect x="504.93" y="209.65" width="6.75" height="4.42" fill="#0a0707"/>
<rect x="511.63" y="209.65" width="6.75" height="4.42" fill="#440000"/>
<rect x="518.32" y="209.65" width="3.40" height="4.42" fill="#007000"/>
<rect x="521.67" y="209.65" width="10.09" height="4.42" fill="#7c0000"/>
<rect x="531.72" y="209.65" width="3.40" height="4.42" fill="#260000"/>
<rect x="535.07" y="209.65" width="6.75" height="4.42" fill="#440000"/>
<rect x="541.76" y="209.65" width="3.40" height="4.42" fill="#7c0000"/>
<rect x="545.11" y="209.65" width="3.40" height="4.42" fill="#0a0707"/>
<rect x="548.46" y="209.65" width="3.40" height="4.42" fill="#003400"/>
<rect x="551.81" y="209.65" width="3.40" height="4.42" fill="#260000"/>
<rect x="555.16" y="209.65" width="3.40" height="4.42" fill="#7c0000"/>
<rect x="558.50" y="209.65" width="3.40" height="4.42" fill="#260000"/>
<rect x="561.85" y="209.65" width="3.40" height="4.42" fill="#7c0000"/>
<rect x="273.90" y="214.03" width="3.40" height="4.42" fill="#0a0707"/>
<rect x="277.25" y="214.03" width="6.75" height="4.42" fill="#005200"/>
<rect x="283.94" y="214.03" width="6.75" height="4.42" fill="#003400"/>
<rect x="290.64" y="214.03" width="3.40" height="4.42" fill="#001e00"/>
<rect x="293.99" y="214.03" width="6.75" height="4.42" fill="#007000"/>
<rect x="300.69" y="214.03" width="3.40" height="4.42" fill="#003400"/>
<rect x="304.03" y="214.03" width="6.75" height="4.42" fill="#005200"/>
<rect x="310.73" y="214.03" width="3.40" height="4.42" fill="#0a0707"/>
<rect x="314.08" y="214.03" width="6.75" height="4.42" fill="#003400"/>
<rect x="320.78" y="214.03" width="6.75" height="4.42" fill="#b40000"/>
<rect x="327.47" y="214.03" width="3.40" height="4.42" fill="#f00000"/>
<rect x="330.82" y="214.03" width="6.75" height="4.42" fill="#b40000"/>
<rect x="337.52" y="214.03" width="6.75" height="4.42" fill="#f00000"/>
<rect x="344.21" y="214.03" width="13.44" height="4.42" fill="#b40000"/>
<rect x="357.61" y="214.03" width="6.75" height="4.42" fill="#f00000"/>
<rect x="364.30" y="214.03" width="3.40" height="4.42" fill="#b40000"/>
<rect x="367.65" y="214.03" width="10.09" height="4.42" fill="#f00000"/>
<rect x="377.70" y="214.03" width="3.40" height="4.42" fill="#b40000"/>
<rect x="381.04" y="214.03" width="6.75" height="4.42" fill="#f00000"/>
<rect x="387.74" y="214.03" width="3.40" height="4.42" fill="#7c0000"/>
<rect x="391.09" y="214.03" width="6.75" height="4.42" fill="#b40000"/>
<rect x="397.79" y="214.03" width="13.44" height="4.42" fill="#f00000"/>
<rect x="411.18" y="214.03" width="3.40" height="4.42" fill="#b40000"/>
<rect x="414.53" y="214.03" width="3.40" height="4.42" fill="#7c0000"/>
<rect x="417.88" y="214.03" width="3.40" height="4.42" fill="#b40000"/>
<rect x="421.22" y="214.03" width="6.75" height="4.42" fill="#f00000"/>
<rect x="427.92" y="214.03" width="13.44" height="4.42" fill="#b40000"/>
<rect x="441.31" y="214.03" width="3.40" height="4.42" fill="#7c0000"/>
<rect x="444.66" y="214.03" width="10.09" height="4.42" fill="#b40000"/>
<rect x="454.71" y="214.03" width="3.40" height="4.42" fill="#7c0000"/>
<rect x="458.06" y="214.03" width="3.40" height="4.42" fill="#b40000"/>
<rect x="461.40" y="214.03" width="3.40" height="4.42" fill="#440000"/>
<rect x="464.75" y="214.03" width="3.40" height="4.42" fill="#b40000"/>
<rect x="468.10" y="214.03" width="3.40" height="4.42" fill="#7c0000"/>
<rect x="471.45" y="214.03" width="6.75" height="4.42" fill="#b40000"/>
<rect x="478.14" y="214.03" width="6.75" height="4.42" fill="#f00000"/>
<rect x="484.84" y="214.03" width="3.40" height="4.42" fill="#003400"/>
<rect x="488.19" y="214.03" width="6.75" height="4.42" fill="#b40000"/>
<rect x="494.89" y="214.03" width="3.40" height="4.42" fill="#7c0000"/>
<rect x="498.23" y="214.03" width="3.40" height="4.42" fill="#f00000"/>
<rect x="501.58" y="214.03" width="3.40" height="4.42" fill="#260000"/>
<rect x="504.93" y="214.03" width="13.44" height="4.42" fill="#440000"/>
<rect x="518.32" y="214.03" width="3.40" height="4.42" fill="#f00000"/>
<rect x="521.67" y="214.03" width="10.09" height="4.42" fill="#7c0000"/>
<rect x="531.72" y="214.03" width="3.40" height="4.42" fill="#0a0707"/>
<rect x="535.07" y="214.03" width="10.09" height="4.42" fill="#440000"/>
<rect x="545.11" y="214.03" width="3.40" height="4.42" fill="#0a0707"/>
<rect x="548.46" y="214.03" width="3.40" height="4.42" fill="#440000"/>
<rect x="551.81" y="214.03" width="3.40" height="4.42" fill="#0a0707"/>
<rect x="555.16" y="214.03" width="3.40" height="4.42" fill="#7c0000"/>
<rect x="558.50" y="214.03" width="3.40" height="4.42" fill="#440000"/>
<rect x="561.85" y="214.03" width="3.40" height="4.42" fill="#b40000"/>
<rect x="273.90" y="218.40" width="3.40" height="4.42" fill="#0a0707"/>
<rect x="277.25" y="218.40" width="6.75" height="4.42" fill="#005200"/>
<rect x="283.94" y="218.40" width="6.75" height="4.42" fill="#003400"/>
<rect x="290.64" y="218.40" width="3.40" height="4.42" fill="#005200"/>
<rect x="293.99" y="218.40" width="6.75" height="4.42" fill="#007000"/>
<rect x="300.69" y="218.40" width="3.40" height="4.42" fill="#005200"/>
<rect x="304.03" y="218.40" width="6.75" height="4.42" fill="#007000"/>
<rect x="310.73" y="218.40" width="3.40" height="4.42" fill="#001e00"/>
<rect x="314.08" y="218.40" width="6.75" height="4.42" fill="#003400"/>
<rect x="320.78" y="218.40" width="3.40" height="4.42" fill="#005200"/>
<rect x="324.12" y="218.40" width="3.40" height="4.42" fill="#260000"/>
<rect x="327.47" y="218.40" width="3.40" height="4.42" fill="#005200"/>
<rect x="330.82" y="218.40" width="3.40" height="4.42" fill="#440000"/>
<rect x="334.17" y="218.40" width="3.40" height="4.42" fill="#260000"/>
<rect x="337.52" y="218.40" width="26.84" height="4.42" fill="#003400"/>
<rect x="364.30" y="218.40" width="6.75" height="4.42" fill="#260000"/>
<rect x="371.00" y="218.40" width="3.40" height="4.42" fill="#007000"/>
<rect x="374.35" y="218.40" width="6.75" height="4.42" fill="#260000"/>
<rect x="381.04" y="218.40" width="6.75" height="4.42" fill="#440000"/>
<rect x="387.74" y="218.40" width="3.40" height="4.42" fill="#260000"/>
<rect x="391.09" y="218.40" width="3.40" height="4.42" fill="#440000"/>
<rect x="394.44" y="218.40" width="3.40" height="4.42" fill="#003400"/>
<rect x="397.79" y="218.40" width="3.40" height="4.42" fill="#440000"/>
<rect x="401.13" y="218.40" width="6.75" height="4.42" fill="#260000"/>
<rect x="407.83" y="218.40" width="6.75" height="4.42" fill="#003400"/>
<rect x="414.53" y="218.40" width="6.75" height="4.42" fill="#260000"/>
<rect x="421.22" y="218.40" width="3.40" height="4.42" fill="#007000"/>
<rect x="424.57" y="218.40" width="6.75" height="4.42" fill="#003400"/>
<rect x="431.27" y="218.40" width="3.40" height="4.42" fill="#440000"/>
<rect x="434.62" y="218.40" width="3.40" height="4.42" fill="#260000"/>
<rect x="437.97" y="218.40" width="3.40" height="4.42" fill="#003400"/>
<rect x="441.31" y="218.40" width="3.40" height="4.42" fill="#007000"/>
<rect x="444.66" y="218.40" width="6.75" height="4.42" fill="#440000"/>
<rect x="451.36" y="218.40" width="6.75" height="4.42" fill="#260000"/>
<rect x="458.06" y="218.40" width="3.40" height="4.42" fill="#0a0707"/>
<rect x="461.40" y="218.40" width="3.40" height="4.42" fill="#003400"/>
<rect x="464.75" y="218.40" width="3.40" height="4.42" fill="#0a0707"/>
<rect x="468.10" y="218.40" width="3.40" height="4.42" fill="#260000"/>
<rect x="471.45" y="218.40" width="13.44" height="4.42" fill="#440000"/>
<rect x="484.84" y="218.40" width="3.40" height="4.42" fill="#007000"/>
<rect x="488.19" y="218.40" width="10.09" height="4.42" fill="#440000"/>
<rect x="498.23" y="218.40" width="3.40" height="4.42" fill="#260000"/>
<rect x="501.58" y="218.40" width="16.79" height="4.42" fill="#0a0707"/>
<rect x="518.32" y="218.40" width="16.79" height="4.42" fill="#440000"/>
<rect x="535.07" y="218.40" width="3.40" height="4.42" fill="#003400"/>
<rect x="538.41" y="218.40" width="10.09" height="4.42" fill="#440000"/>
<rect x="548.46" y="218.40" width="3.40" height="4.42" fill="#003400"/>
<rect x="551.81" y="218.40" width="6.75" height="4.42" fill="#007000"/>
<rect x="558.50" y="218.40" width="3.40" height="4.42" fill="#003400"/>
<rect x="561.85" y="218.40" width="3.40" height="4.42" fill="#b40000"/>
<rect x="273.90" y="222.78" width="3.40" height="4.42" fill="#0a0707"/>
<rect x="277.25" y="222.78" width="10.09" height="4.42" fill="#003400"/>
<rect x="287.29" y="222.78" width="3.40" height="4.42" fill="#001e00"/>
<rect x="290.64" y="222.78" width="3.40" height="4.42" fill="#005200"/>
<rect x="293.99" y="222.78" width="10.09" height="4.42" fill="#007000"/>
<rect x="304.03" y="222.78" width="3.40" height="4.42" fill="#009000"/>
<rect x="307.38" y="222.78" width="3.40" height="4.42" fill="#007000"/>
<rect x="310.73" y="222.78" width="3.40" height="4.42" fill="#003400"/>
<rect x="314.08" y="222.78" width="6.75" height="4.42" fill="#440000"/>
<rect x="320.78" y="222.78" width="3.40" height="4.42" fill="#0a0707"/>
<rect x="324.12" y="222.78" width="10.09" height="4.42" fill="#440000"/>
<rect x="334.17" y="222.78" width="3.40" height="4.42" fill="#003400"/>
<rect x="337.52" y="222.78" width="6.75" height="4.42" fill="#7c0000"/>
<rect x="344.21" y="222.78" width="16.79" height="4.42" fill="#440000"/>
<rect x="360.96" y="222.78" width="3.40" height="4.42" fill="#007000"/>
<rect x="364.30" y="222.78" width="3.40" height="4.42" fill="#0a0707"/>
<rect x="367.65" y="222.78" width="6.75" height="4.42" fill="#440000"/>
<rect x="374.35" y="222.78" width="3.40" height="4.42" fill="#0a0707"/>
<rect x="377.70" y="222.78" width="6.75" height="4.42" fill="#003400"/>
<rect x="384.39" y="222.78" width="3.40" height="4.42" fill="#440000"/>
<rect x="387.74" y="222.78" width="3.40" height="4.42" fill="#003400"/>
<rect x="391.09" y="222.78" width="3.40" height="4.42" fill="#440000"/>
<rect x="394.44" y="222.78" width="3.40" height="4.42" fill="#003400"/>
<rect x="397.79" y="222.78" width="3.40" height="4.42" fill="#440000"/>
<rect x="401.13" y="222.78" width="3.40" height="4.42" fill="#003400"/>
<rect x="404.48" y="222.78" width="3.40" height="4.42" fill="#440000"/>
<rect x="407.83" y="222.78" width="10.09" height="4.42" fill="#0a0707"/>
<rect x="417.88" y="222.78" width="3.40" height="4.42" fill="#440000"/>
<rect x="421.22" y="222.78" width="10.09" height="4.42" fill="#0a0707"/>
<rect x="431.27" y="222.78" width="10.09" height="4.42" fill="#440000"/>
<rect x="441.31" y="222.78" width="3.40" height="4.42" fill="#003400"/>
<rect x="444.66" y="222.78" width="10.09" height="4.42" fill="#440000"/>
<rect x="454.71" y="222.78" width="3.40" height="4.42" fill="#0a0707"/>
<rect x="458.06" y="222.78" width="3.40" height="4.42" fill="#440000"/>
<rect x="461.40" y="222.78" width="3.40" height="4.42" fill="#0a0707"/>
<rect x="464.75" y="222.78" width="3.40" height="4.42" fill="#440000"/>
<rect x="468.10" y="222.78" width="3.40" height="4.42" fill="#260000"/>
<rect x="471.45" y="222.78" width="6.75" height="4.42" fill="#7c0000"/>
<rect x="478.14" y="222.78" width="3.40" height="4.42" fill="#f00000"/>
<rect x="481.49" y="222.78" width="3.40" height="4.42" fill="#b40000"/>
<rect x="484.84" y="222.78" width="3.40" height="4.42" fill="#260000"/>
<rect x="488.19" y="222.78" width="13.44" height="4.42" fill="#7c0000"/>
<rect x="501.58" y="222.78" width="3.40" height="4.42" fill="#0a0707"/>
<rect x="504.93" y="222.78" width="13.44" height="4.42" fill="#00b000"/>
<rect x="518.32" y="222.78" width="3.40" height="4.42" fill="#007000"/>
<rect x="521.67" y="222.78" width="10.09" height="4.42" fill="#7c0000"/>
<rect x="531.72" y="222.78" width="3.40" height="4.42" fill="#0a0707"/>
<rect x="535.07" y="222.78" width="6.75" height="4.42" fill="#440000"/>
<rect x="541.76" y="222.78" width="3.40" height="4.42" fill="#f00000"/>
<rect x="545.11" y="222.78" width="3.40" height="4.42" fill="#260000"/>
<rect x="548.46" y="222.78" width="6.75" height="4.42" fill="#440000"/>
<rect x="555.16" y="222.78" width="3.40" height="4.42" fill="#003400"/>
<rect x="558.50" y="222.78" width="3.40" height="4.42" fill="#0a0707"/>
<rect x="561.85" y="222.78" width="3.40" height="4.42" fill="#7c0000"/>
<rect x="273.90" y="227.15" width="3.40" height="4.42" fill="#0a0707"/>
<rect x="277.25" y="227.15" width="16.79" height="4.42" fill="#003400"/>
<rect x="293.99" y="227.15" width="3.40" height="4.42" fill="#005200"/>
<rect x="297.34" y="227.15" width="6.75" height="4.42" fill="#007000"/>
<rect x="304.03" y="227.15" width="6.75" height="4.42" fill="#00b000"/>
<rect x="310.73" y="227.15" width="10.09" height="4.42" fill="#0a0707"/>
<rect x="320.78" y="227.15" width="13.44" height="4.42" fill="#440000"/>
<rect x="334.17" y="227.15" width="3.40" height="4.42" fill="#260000"/>
<rect x="337.52" y="227.15" width="6.75" height="4.42" fill="#b40000"/>
<rect x="344.21" y="227.15" width="3.40" height="4.42" fill="#440000"/>
<rect x="347.56" y="227.15" width="13.44" height="4.42" fill="#7c0000"/>
<rect x="360.96" y="227.15" width="3.40" height="4.42" fill="#440000"/>
<rect x="364.30" y="227.15" width="10.09" height="4.42" fill="#7c0000"/>
<rect x="374.35" y="227.15" width="3.40" height="4.42" fill="#440000"/>
<rect x="377.70" y="227.15" width="3.40" height="4.42" fill="#0a0707"/>
<rect x="381.04" y="227.15" width="6.75" height="4.42" fill="#7c0000"/>
<rect x="387.74" y="227.15" width="3.40" height="4.42" fill="#260000"/>
<rect x="391.09" y="227.15" width="23.49" height="4.42" fill="#7c0000"/>
<rect x="414.53" y="227.15" width="3.40" height="4.42" fill="#0a0707"/>
<rect x="417.88" y="227.15" width="23.49" height="4.42" fill="#7c0000"/>
<rect x="441.31" y="227.15" width="3.40" height="4.42" fill="#440000"/>
<rect x="444.66" y="227.15" width="10.09" height="4.42" fill="#7c0000"/>
<rect x="454.71" y="227.15" width="3.40" height="4.42" fill="#440000"/>
<rect x="458.06" y="227.15" width="3.40" height="4.42" fill="#7c0000"/>
<rect x="461.40" y="227.15" width="3.40" height="4.42" fill="#260000"/>
<rect x="464.75" y="227.15" width="3.40" height="4.42" fill="#7c0000"/>
<rect x="468.10" y="227.15" width="3.40" height="4.42" fill="#260000"/>
<rect x="471.45" y="227.15" width="6.75" height="4.42" fill="#7c0000"/>
<rect x="478.14" y="227.15" width="6.75" height="4.42" fill="#b40000"/>
<rect x="484.84" y="227.15" width="3.40" height="4.42" fill="#003400"/>
<rect x="488.19" y="227.15" width="13.44" height="4.42" fill="#7c0000"/>
<rect x="501.58" y="227.15" width="3.40" height="4.42" fill="#0a0707"/>
<rect x="504.93" y="227.15" width="6.75" height="4.42" fill="#00b000"/>
<rect x="511.63" y="227.15" width="6.75" height="4.42" fill="#007000"/>
<rect x="518.32" y="227.15" width="3.40" height="4.42" fill="#003400"/>
<rect x="521.67" y="227.15" width="3.40" height="4.42" fill="#7c0000"/>
<rect x="525.02" y="227.15" width="3.40" height="4.42" fill="#b40000"/>
<rect x="528.37" y="227.15" width="3.40" height="4.42" fill="#7c0000"/>
<rect x="531.72" y="227.15" width="3.40" height="4.42" fill="#260000"/>
<rect x="535.07" y="227.15" width="6.75" height="4.42" fill="#440000"/>
<rect x="541.76" y="227.15" width="3.40" height="4.42" fill="#b40000"/>
<rect x="545.11" y="227.15" width="3.40" height="4.42" fill="#260000"/>
<rect x="548.46" y="227.15" width="3.40" height="4.42" fill="#440000"/>
<rect x="551.81" y="227.15" width="3.40" height="4.42" fill="#0a0707"/>
<rect x="555.16" y="227.15" width="6.75" height="4.42" fill="#00ee00"/>
<rect x="561.85" y="227.15" width="3.40" height="4.42" fill="#440000"/>
<rect x="273.90" y="231.53" width="3.40" height="4.42" fill="#0a0707"/>
<rect x="277.25" y="231.53" width="6.75" height="4.42" fill="#051d03"/>
<rect x="283.94" y="231.53" width="3.40" height="4.42" fill="#0a0707"/>
<rect x="287.29" y="231.53" width="10.09" height="4.42" fill="#003400"/>
<rect x="297.34" y="231.53" width="3.40" height="4.42" fill="#0a0707"/>
<rect x="300.69" y="231.53" width="3.40" height="4.42" fill="#7c0000"/>
<rect x="304.03" y="231.53" width="6.75" height="4.42" fill="#001e00"/>
<rect x="310.73" y="231.53" width="3.40" height="4.42" fill="#0a0707"/>
<rect x="314.08" y="231.53" width="3.40" height="4.42" fill="#440000"/>
<rect x="317.43" y="231.53" width="6.75" height="4.42" fill="#0a0707"/>
<rect x="324.12" y="231.53" width="10.09" height="4.42" fill="#440000"/>
<rect x="334.17" y="231.53" width="3.40" height="4.42" fill="#260000"/>
<rect x="337.52" y="231.53" width="6.75" height="4.42" fill="#7c0000"/>
<rect x="344.21" y="231.53" width="16.79" height="4.42" fill="#440000"/>
<rect x="360.96" y="231.53" width="3.40" height="4.42" fill="#260000"/>
<rect x="364.30" y="231.53" width="6.75" height="4.42" fill="#440000"/>
<rect x="371.00" y="231.53" width="3.40" height="4.42" fill="#7c0000"/>
<rect x="374.35" y="231.53" width="3.40" height="4.42" fill="#440000"/>
<rect x="377.70" y="231.53" width="3.40" height="4.42" fill="#260000"/>
<rect x="381.04" y="231.53" width="3.40" height="4.42" fill="#440000"/>
<rect x="384.39" y="231.53" width="3.40" height="4.42" fill="#7c0000"/>
<rect x="387.74" y="231.53" width="3.40" height="4.42" fill="#260000"/>
<rect x="391.09" y="231.53" width="6.75" height="4.42" fill="#440000"/>
<rect x="397.79" y="231.53" width="6.75" height="4.42" fill="#7c0000"/>
<rect x="404.48" y="231.53" width="3.40" height="4.42" fill="#440000"/>
<rect x="407.83" y="231.53" width="3.40" height="4.42" fill="#7c0000"/>
<rect x="411.18" y="231.53" width="3.40" height="4.42" fill="#440000"/>
<rect x="414.53" y="231.53" width="3.40" height="4.42" fill="#260000"/>
<rect x="417.88" y="231.53" width="10.09" height="4.42" fill="#440000"/>
<rect x="427.92" y="231.53" width="3.40" height="4.42" fill="#260000"/>
<rect x="431.27" y="231.53" width="10.09" height="4.42" fill="#440000"/>
<rect x="441.31" y="231.53" width="3.40" height="4.42" fill="#260000"/>
<rect x="444.66" y="231.53" width="3.40" height="4.42" fill="#440000"/>
<rect x="448.01" y="231.53" width="3.40" height="4.42" fill="#7c0000"/>
<rect x="451.36" y="231.53" width="3.40" height="4.42" fill="#440000"/>
<rect x="454.71" y="231.53" width="3.40" height="4.42" fill="#260000"/>
<rect x="458.06" y="231.53" width="3.40" height="4.42" fill="#440000"/>
<rect x="461.40" y="231.53" width="3.40" height="4.42" fill="#260000"/>
<rect x="464.75" y="231.53" width="3.40" height="4.42" fill="#7c0000"/>
<rect x="468.10" y="231.53" width="3.40" height="4.42" fill="#260000"/>
<rect x="471.45" y="231.53" width="6.75" height="4.42" fill="#440000"/>
<rect x="478.14" y="231.53" width="6.75" height="4.42" fill="#7c0000"/>
<rect x="484.84" y="231.53" width="3.40" height="4.42" fill="#003400"/>
<rect x="488.19" y="231.53" width="13.44" height="4.42" fill="#440000"/>
<rect x="501.58" y="231.53" width="3.40" height="4.42" fill="#0a0707"/>
<rect x="504.93" y="231.53" width="10.09" height="4.42" fill="#007000"/>
<rect x="514.98" y="231.53" width="6.75" height="4.42" fill="#003400"/>
<rect x="521.67" y="231.53" width="10.09" height="4.42" fill="#7c0000"/>
<rect x="531.72" y="231.53" width="3.40" height="4.42" fill="#260000"/>
<rect x="535.07" y="231.53" width="6.75" height="4.42" fill="#440000"/>
<rect x="541.76" y="231.53" width="3.40" height="4.42" fill="#7c0000"/>
<rect x="545.11" y="231.53" width="3.40" height="4.42" fill="#260000"/>
<rect x="548.46" y="231.53" width="6.75" height="4.42" fill="#440000"/>
<rect x="555.16" y="231.53" width="6.75" height="4.42" fill="#00ee00"/>
<rect x="561.85" y="231.53" width="3.40" height="4.42" fill="#440000"/>
</g></g>
</svg>
</body></html>
